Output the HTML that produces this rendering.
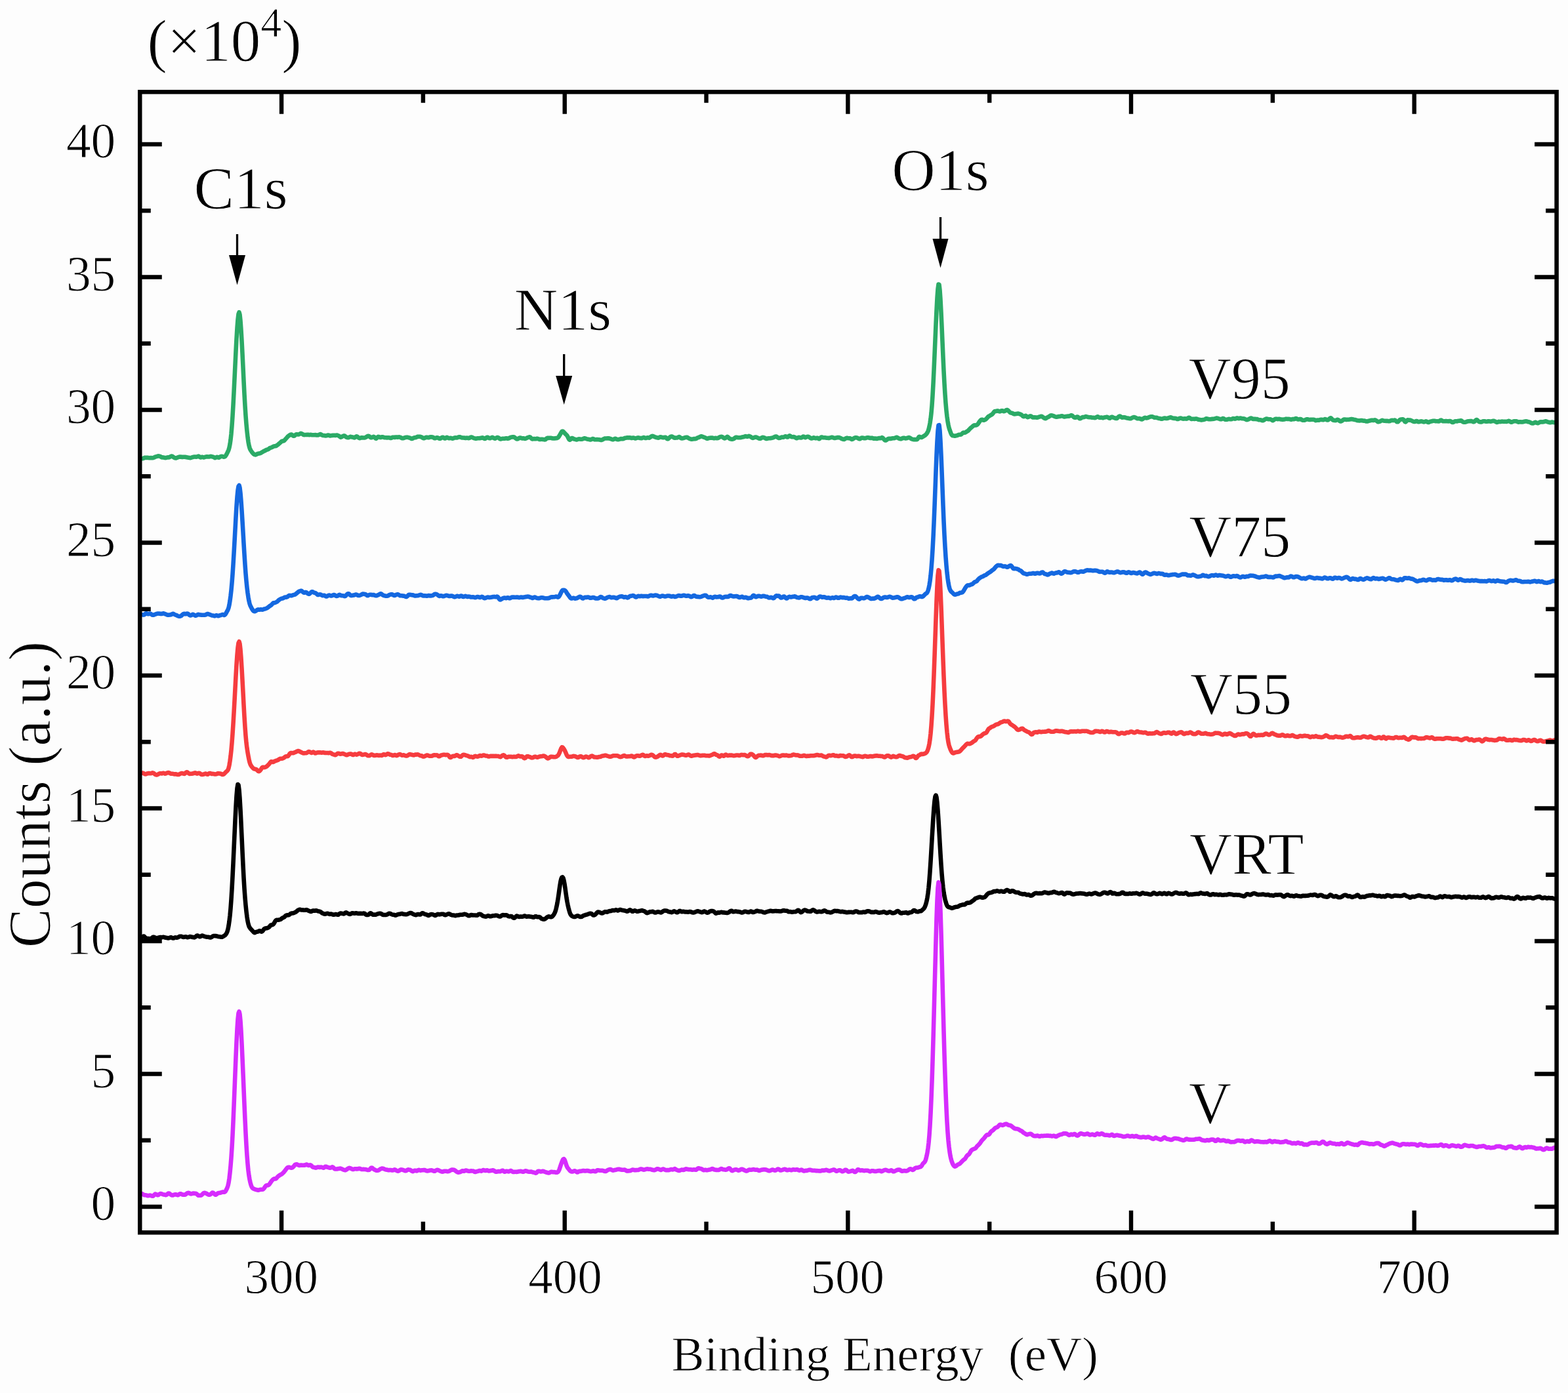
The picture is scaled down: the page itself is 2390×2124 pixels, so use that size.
<!DOCTYPE html>
<html><head><meta charset="utf-8"><title>XPS survey spectra</title>
<style>html,body{margin:0;padding:0;background:#fdfdfd}svg{display:block}</style></head>
<body>
<svg width="2390" height="2124" viewBox="0 0 2390 2124">
<rect width="100%" height="100%" fill="#fdfdfd"/>
<polyline fill="none" stroke="#2baa66" stroke-width="6.6" stroke-linejoin="round" stroke-linecap="round" points="216.5,699.3 217.5,699.3 218.5,698.9 219.5,698.3 220.5,697.9 221.5,697.8 222.5,697.9 223.5,697.9 224.5,697.9 225.5,697.9 226.5,698.1 227.5,698.3 228.5,698.2 229.5,698.1 230.5,698.1 231.5,698.2 232.5,698.2 233.5,698.0 234.5,697.7 235.5,697.2 236.5,696.7 237.5,696.4 238.5,696.1 239.5,695.8 240.5,695.5 241.5,695.4 242.5,695.5 243.5,695.7 244.5,696.1 245.5,696.7 246.5,697.2 247.5,697.4 248.5,697.4 249.5,697.6 250.5,697.9 251.5,698.0 252.5,698.1 253.5,697.9 254.5,697.6 255.5,697.4 256.5,697.4 257.5,697.4 258.5,697.1 259.5,696.4 260.5,695.8 261.5,695.5 262.5,695.7 263.5,696.3 264.5,697.1 265.5,697.7 266.5,698.2 267.5,698.5 268.5,698.4 269.5,698.0 270.5,697.6 271.5,697.2 272.5,696.9 273.5,696.6 274.5,696.5 275.5,696.6 276.5,696.8 277.5,697.0 278.5,696.9 279.5,696.8 280.5,696.7 281.5,696.8 282.5,696.9 283.5,697.0 284.5,697.2 285.5,697.4 286.5,697.6 287.5,697.7 288.5,697.9 289.5,698.1 290.5,698.2 291.5,697.9 292.5,697.4 293.5,697.1 294.5,696.9 295.5,696.6 296.5,696.5 297.5,696.5 298.5,696.6 299.5,696.6 300.5,696.4 301.5,695.9 302.5,695.6 303.5,696.0 304.5,696.9 305.5,697.5 306.5,697.4 307.5,696.9 308.5,696.8 309.5,697.2 310.5,697.5 311.5,697.3 312.5,696.9 313.5,696.6 314.5,696.4 315.5,696.3 316.5,696.4 317.5,696.5 318.5,696.5 319.5,696.3 320.5,696.0 321.5,695.9 322.5,696.1 323.5,696.4 324.5,696.6 325.5,696.9 326.5,697.5 327.5,698.1 328.5,698.0 329.5,697.4 330.5,696.9 331.5,697.0 332.5,697.5 333.5,697.7 334.5,697.2 335.5,696.5 336.5,696.1 337.5,695.9 338.5,695.9 339.5,696.2 340.5,696.5 341.5,696.7 342.5,696.4 343.5,695.6 344.5,694.2 345.5,692.4 346.5,690.3 347.5,688.3 348.5,685.9 349.5,682.4 350.5,677.4 351.5,670.5 352.5,661.3 353.5,649.3 354.5,634.6 355.5,617.2 356.5,597.8 357.5,577.2 358.5,556.1 359.5,535.6 360.5,516.6 361.5,500.3 362.5,487.3 363.5,478.9 364.5,476.1 365.5,479.6 366.5,489.0 367.5,502.9 368.5,519.9 369.5,539.1 370.5,559.8 371.5,580.9 372.5,600.9 373.5,618.7 374.5,634.0 375.5,646.8 376.5,657.5 377.5,666.5 378.5,673.8 379.5,679.1 380.5,682.9 381.5,685.4 382.5,687.2 383.5,688.6 384.5,690.0 385.5,691.1 386.5,692.1 387.5,692.9 388.5,693.3 389.5,693.4 390.5,693.0 391.5,692.5 392.5,692.0 393.5,691.7 394.5,691.5 395.5,691.4 396.5,691.1 397.5,690.7 398.5,690.1 399.5,689.5 400.5,688.9 401.5,688.3 402.5,687.8 403.5,687.4 404.5,686.8 405.5,686.2 406.5,685.7 407.5,685.5 408.5,685.2 409.5,684.6 410.5,683.7 411.5,683.1 412.5,682.7 413.5,682.4 414.5,682.0 415.5,681.5 416.5,680.9 417.5,680.5 418.5,680.3 419.5,680.2 420.5,680.0 421.5,679.5 422.5,678.8 423.5,678.1 424.5,677.2 425.5,676.3 426.5,675.5 427.5,674.6 428.5,673.7 429.5,672.9 430.5,672.5 431.5,672.4 432.5,672.2 433.5,671.5 434.5,670.4 435.5,669.2 436.5,668.1 437.5,667.0 438.5,665.8 439.5,664.9 440.5,664.2 441.5,663.5 442.5,662.9 443.5,662.5 444.5,662.6 445.5,663.3 446.5,664.3 447.5,664.8 448.5,664.6 449.5,663.8 450.5,662.9 451.5,662.3 452.5,662.2 453.5,662.4 454.5,662.5 455.5,662.4 456.5,661.9 457.5,661.3 458.5,660.9 459.5,661.0 460.5,661.6 461.5,662.2 462.5,662.8 463.5,663.1 464.5,663.0 465.5,663.0 466.5,663.0 467.5,662.9 468.5,662.7 469.5,662.7 470.5,663.0 471.5,663.1 472.5,663.0 473.5,662.9 474.5,663.0 475.5,663.2 476.5,663.3 477.5,663.3 478.5,663.3 479.5,663.2 480.5,663.1 481.5,663.2 482.5,663.4 483.5,663.5 484.5,663.5 485.5,663.2 486.5,662.7 487.5,662.3 488.5,662.1 489.5,662.5 490.5,663.2 491.5,663.7 492.5,664.0 493.5,664.0 494.5,664.1 495.5,664.2 496.5,664.4 497.5,664.3 498.5,664.0 499.5,663.6 500.5,663.5 501.5,663.7 502.5,664.2 503.5,664.4 504.5,664.3 505.5,664.1 506.5,663.9 507.5,663.9 508.5,663.8 509.5,663.8 510.5,663.9 511.5,663.9 512.5,663.8 513.5,663.6 514.5,663.8 515.5,664.1 516.5,664.6 517.5,665.4 518.5,666.2 519.5,666.7 520.5,666.4 521.5,665.7 522.5,665.1 523.5,664.6 524.5,664.4 525.5,664.7 526.5,665.5 527.5,666.3 528.5,666.8 529.5,667.1 530.5,667.3 531.5,667.1 532.5,666.6 533.5,666.0 534.5,665.9 535.5,666.2 536.5,666.4 537.5,666.5 538.5,666.8 539.5,667.3 540.5,667.4 541.5,666.7 542.5,665.7 543.5,665.3 544.5,665.6 545.5,666.5 546.5,667.4 547.5,668.0 548.5,668.1 549.5,667.8 550.5,667.4 551.5,667.3 552.5,667.4 553.5,667.5 554.5,667.5 555.5,667.4 556.5,667.2 557.5,666.8 558.5,666.2 559.5,665.5 560.5,664.9 561.5,664.7 562.5,665.1 563.5,665.9 564.5,666.7 565.5,667.2 566.5,667.2 567.5,666.8 568.5,666.2 569.5,665.8 570.5,666.4 571.5,667.5 572.5,668.5 573.5,668.6 574.5,667.7 575.5,666.5 576.5,665.9 577.5,666.1 578.5,666.7 579.5,667.0 580.5,666.9 581.5,666.5 582.5,666.2 583.5,666.3 584.5,666.7 585.5,667.0 586.5,667.2 587.5,667.2 588.5,667.3 589.5,667.4 590.5,667.4 591.5,667.3 592.5,667.2 593.5,667.4 594.5,667.8 595.5,668.0 596.5,667.8 597.5,667.3 598.5,666.8 599.5,666.7 600.5,666.8 601.5,666.9 602.5,666.7 603.5,666.5 604.5,666.5 605.5,666.6 606.5,666.6 607.5,666.5 608.5,666.4 609.5,666.7 610.5,667.0 611.5,667.5 612.5,668.0 613.5,668.3 614.5,668.3 615.5,667.9 616.5,667.5 617.5,667.2 618.5,666.9 619.5,666.7 620.5,666.7 621.5,666.8 622.5,667.1 623.5,667.4 624.5,667.6 625.5,668.1 626.5,668.6 627.5,669.0 628.5,668.8 629.5,668.3 630.5,667.7 631.5,667.3 632.5,667.2 633.5,667.2 634.5,666.8 635.5,666.3 636.5,665.9 637.5,665.8 638.5,665.7 639.5,665.7 640.5,665.8 641.5,666.1 642.5,666.5 643.5,667.0 644.5,667.7 645.5,668.1 646.5,668.1 647.5,667.7 648.5,667.2 649.5,666.8 650.5,666.7 651.5,666.9 652.5,667.3 653.5,667.3 654.5,666.8 655.5,666.4 656.5,666.2 657.5,666.3 658.5,666.5 659.5,666.6 660.5,667.0 661.5,667.7 662.5,668.2 663.5,668.2 664.5,667.8 665.5,667.4 666.5,667.3 667.5,667.5 668.5,668.1 669.5,668.7 670.5,668.8 671.5,668.5 672.5,667.8 673.5,667.1 674.5,666.7 675.5,667.0 676.5,667.7 677.5,668.4 678.5,668.5 679.5,667.8 680.5,667.0 681.5,666.9 682.5,667.4 683.5,668.0 684.5,668.2 685.5,668.1 686.5,667.9 687.5,668.0 688.5,668.3 689.5,668.6 690.5,668.5 691.5,668.1 692.5,667.6 693.5,667.4 694.5,667.4 695.5,667.5 696.5,667.5 697.5,667.1 698.5,666.6 699.5,666.2 700.5,666.2 701.5,666.5 702.5,666.8 703.5,667.2 704.5,667.4 705.5,667.5 706.5,667.5 707.5,667.6 708.5,667.8 709.5,668.0 710.5,667.9 711.5,667.6 712.5,667.7 713.5,668.0 714.5,668.1 715.5,667.8 716.5,667.2 717.5,666.7 718.5,666.5 719.5,666.8 720.5,667.3 721.5,667.7 722.5,668.1 723.5,668.4 724.5,668.7 725.5,668.8 726.5,668.6 727.5,668.3 728.5,668.2 729.5,668.2 730.5,668.2 731.5,668.1 732.5,668.0 733.5,667.8 734.5,667.5 735.5,667.4 736.5,667.7 737.5,668.4 738.5,669.0 739.5,669.0 740.5,668.2 741.5,667.3 742.5,666.8 743.5,666.9 744.5,667.5 745.5,668.0 746.5,668.2 747.5,668.1 748.5,667.6 749.5,667.1 750.5,666.9 751.5,667.3 752.5,667.9 753.5,668.5 754.5,668.6 755.5,668.2 756.5,667.6 757.5,667.1 758.5,667.0 759.5,667.3 760.5,667.9 761.5,668.8 762.5,669.4 763.5,669.4 764.5,669.1 765.5,668.8 766.5,668.8 767.5,668.8 768.5,668.8 769.5,668.7 770.5,668.4 771.5,668.2 772.5,668.3 773.5,668.6 774.5,668.7 775.5,668.4 776.5,667.8 777.5,667.2 778.5,666.8 779.5,666.7 780.5,666.4 781.5,666.2 782.5,666.2 783.5,666.5 784.5,667.0 785.5,667.8 786.5,668.6 787.5,669.3 788.5,669.4 789.5,669.1 790.5,668.5 791.5,667.8 792.5,667.5 793.5,667.6 794.5,668.0 795.5,668.3 796.5,668.5 797.5,668.4 798.5,668.4 799.5,668.7 800.5,668.9 801.5,668.6 802.5,668.1 803.5,667.5 804.5,667.1 805.5,666.8 806.5,666.5 807.5,666.3 808.5,666.9 809.5,668.0 810.5,669.0 811.5,669.4 812.5,669.3 813.5,669.1 814.5,669.1 815.5,669.3 816.5,669.2 817.5,669.0 818.5,668.7 819.5,668.8 820.5,669.1 821.5,669.7 822.5,670.0 823.5,670.0 824.5,669.8 825.5,669.7 826.5,669.7 827.5,669.9 828.5,670.1 829.5,670.3 830.5,670.4 831.5,670.1 832.5,669.2 833.5,668.2 834.5,667.8 835.5,667.8 836.5,667.9 837.5,667.8 838.5,667.7 839.5,667.8 840.5,668.0 841.5,668.3 842.5,668.4 843.5,668.5 844.5,668.5 845.5,668.4 846.5,668.2 847.5,668.1 848.5,668.1 849.5,667.9 850.5,667.2 851.5,666.1 852.5,664.6 853.5,662.9 854.5,661.1 855.5,659.3 856.5,657.9 857.5,657.5 858.5,658.0 859.5,659.0 860.5,660.1 861.5,661.3 862.5,662.2 863.5,663.1 864.5,664.3 865.5,666.1 866.5,668.4 867.5,670.1 868.5,670.7 869.5,670.1 870.5,668.9 871.5,668.0 872.5,668.1 873.5,668.7 874.5,669.3 875.5,669.6 876.5,669.8 877.5,670.1 878.5,670.4 879.5,670.4 880.5,669.9 881.5,669.6 882.5,669.4 883.5,669.5 884.5,669.6 885.5,669.7 886.5,669.7 887.5,669.5 888.5,669.2 889.5,668.7 890.5,668.4 891.5,668.3 892.5,668.6 893.5,669.0 894.5,669.4 895.5,669.7 896.5,669.8 897.5,669.9 898.5,670.1 899.5,670.5 900.5,670.5 901.5,669.9 902.5,669.3 903.5,669.0 904.5,669.2 905.5,669.7 906.5,670.2 907.5,670.3 908.5,670.2 909.5,670.1 910.5,670.1 911.5,670.2 912.5,670.3 913.5,670.4 914.5,670.6 915.5,670.9 916.5,670.9 917.5,670.7 918.5,670.3 919.5,669.7 920.5,669.1 921.5,668.6 922.5,668.5 923.5,668.5 924.5,668.5 925.5,668.4 926.5,668.2 927.5,668.2 928.5,668.5 929.5,668.8 930.5,669.0 931.5,669.4 932.5,669.9 933.5,670.2 934.5,670.2 935.5,669.8 936.5,669.2 937.5,668.8 938.5,669.0 939.5,669.5 940.5,669.9 941.5,670.1 942.5,670.1 943.5,669.9 944.5,669.6 945.5,669.3 946.5,669.0 947.5,669.0 948.5,669.2 949.5,669.3 950.5,668.9 951.5,668.3 952.5,667.9 953.5,667.7 954.5,667.6 955.5,667.4 956.5,667.3 957.5,667.4 958.5,667.4 959.5,667.3 960.5,667.4 961.5,667.7 962.5,668.0 963.5,667.9 964.5,667.6 965.5,667.5 966.5,667.8 967.5,668.2 968.5,668.4 969.5,668.2 970.5,667.9 971.5,667.6 972.5,667.4 973.5,667.5 974.5,667.7 975.5,667.9 976.5,668.1 977.5,668.3 978.5,668.1 979.5,667.6 980.5,667.1 981.5,667.1 982.5,667.5 983.5,667.9 984.5,667.9 985.5,667.7 986.5,667.4 987.5,667.3 988.5,667.5 989.5,667.6 990.5,667.2 991.5,666.4 992.5,665.6 993.5,665.0 994.5,664.9 995.5,665.1 996.5,665.5 997.5,666.0 998.5,666.3 999.5,666.8 1000.5,667.1 1001.5,667.3 1002.5,667.5 1003.5,667.6 1004.5,667.3 1005.5,666.6 1006.5,666.2 1007.5,666.4 1008.5,666.8 1009.5,667.0 1010.5,667.1 1011.5,667.1 1012.5,667.0 1013.5,666.8 1014.5,666.9 1015.5,667.7 1016.5,668.8 1017.5,669.3 1018.5,669.0 1019.5,668.1 1020.5,667.1 1021.5,666.3 1022.5,665.7 1023.5,665.5 1024.5,665.6 1025.5,666.1 1026.5,666.8 1027.5,667.5 1028.5,667.7 1029.5,667.6 1030.5,667.5 1031.5,667.5 1032.5,667.4 1033.5,666.9 1034.5,666.2 1035.5,666.1 1036.5,666.8 1037.5,667.8 1038.5,668.3 1039.5,668.4 1040.5,668.3 1041.5,668.1 1042.5,667.8 1043.5,667.4 1044.5,667.1 1045.5,666.9 1046.5,666.7 1047.5,666.8 1048.5,667.4 1049.5,668.1 1050.5,668.6 1051.5,669.0 1052.5,669.4 1053.5,669.7 1054.5,669.8 1055.5,669.6 1056.5,669.4 1057.5,669.1 1058.5,669.0 1059.5,669.1 1060.5,669.0 1061.5,668.6 1062.5,668.0 1063.5,667.4 1064.5,667.1 1065.5,666.8 1066.5,666.3 1067.5,665.8 1068.5,665.4 1069.5,665.3 1070.5,665.6 1071.5,666.1 1072.5,666.5 1073.5,666.8 1074.5,667.1 1075.5,667.6 1076.5,668.3 1077.5,668.7 1078.5,668.7 1079.5,668.3 1080.5,668.0 1081.5,667.8 1082.5,667.8 1083.5,667.6 1084.5,667.6 1085.5,667.6 1086.5,667.8 1087.5,668.1 1088.5,668.2 1089.5,668.1 1090.5,667.9 1091.5,668.0 1092.5,668.1 1093.5,668.1 1094.5,667.9 1095.5,667.3 1096.5,666.7 1097.5,666.2 1098.5,666.0 1099.5,665.9 1100.5,666.0 1101.5,666.5 1102.5,667.3 1103.5,668.0 1104.5,668.4 1105.5,668.1 1106.5,667.4 1107.5,666.5 1108.5,665.9 1109.5,666.3 1110.5,667.3 1111.5,668.3 1112.5,669.0 1113.5,669.3 1114.5,669.6 1115.5,669.8 1116.5,669.7 1117.5,669.4 1118.5,669.0 1119.5,668.3 1120.5,667.4 1121.5,666.8 1122.5,666.7 1123.5,666.9 1124.5,667.2 1125.5,667.3 1126.5,667.3 1127.5,667.2 1128.5,667.2 1129.5,667.0 1130.5,666.7 1131.5,666.5 1132.5,666.3 1133.5,666.2 1134.5,665.8 1135.5,665.4 1136.5,665.1 1137.5,665.4 1138.5,665.8 1139.5,665.7 1140.5,665.3 1141.5,664.9 1142.5,665.1 1143.5,665.6 1144.5,666.2 1145.5,666.9 1146.5,667.6 1147.5,667.9 1148.5,667.6 1149.5,667.1 1150.5,666.7 1151.5,666.5 1152.5,666.6 1153.5,667.0 1154.5,667.4 1155.5,667.9 1156.5,668.4 1157.5,668.8 1158.5,668.8 1159.5,668.5 1160.5,667.8 1161.5,667.2 1162.5,666.9 1163.5,667.0 1164.5,667.2 1165.5,667.6 1166.5,668.3 1167.5,668.8 1168.5,669.0 1169.5,668.8 1170.5,668.4 1171.5,668.2 1172.5,668.2 1173.5,668.2 1174.5,668.1 1175.5,668.0 1176.5,667.8 1177.5,667.6 1178.5,667.2 1179.5,666.7 1180.5,666.2 1181.5,665.7 1182.5,665.5 1183.5,665.6 1184.5,666.3 1185.5,667.1 1186.5,667.7 1187.5,667.9 1188.5,667.8 1189.5,667.5 1190.5,667.0 1191.5,666.6 1192.5,666.6 1193.5,666.7 1194.5,666.6 1195.5,666.1 1196.5,665.4 1197.5,665.2 1198.5,665.7 1199.5,666.4 1200.5,666.5 1201.5,665.8 1202.5,664.8 1203.5,664.4 1204.5,664.8 1205.5,665.5 1206.5,666.1 1207.5,666.3 1208.5,666.2 1209.5,666.1 1210.5,666.2 1211.5,666.7 1212.5,667.4 1213.5,668.0 1214.5,668.2 1215.5,667.8 1216.5,667.2 1217.5,666.9 1218.5,667.0 1219.5,667.3 1220.5,667.5 1221.5,667.4 1222.5,666.8 1223.5,666.0 1224.5,665.5 1225.5,665.9 1226.5,666.8 1227.5,667.2 1228.5,666.8 1229.5,666.1 1230.5,665.8 1231.5,665.8 1232.5,666.0 1233.5,666.6 1234.5,667.3 1235.5,668.0 1236.5,668.4 1237.5,668.4 1238.5,668.1 1239.5,667.5 1240.5,667.3 1241.5,667.6 1242.5,668.1 1243.5,668.2 1244.5,668.0 1245.5,667.7 1246.5,668.0 1247.5,668.7 1248.5,669.1 1249.5,668.7 1250.5,667.6 1251.5,666.7 1252.5,666.5 1253.5,666.8 1254.5,667.2 1255.5,667.3 1256.5,667.2 1257.5,667.2 1258.5,667.4 1259.5,667.6 1260.5,667.7 1261.5,667.8 1262.5,667.9 1263.5,667.9 1264.5,667.7 1265.5,667.4 1266.5,667.1 1267.5,666.8 1268.5,666.7 1269.5,667.1 1270.5,667.6 1271.5,667.9 1272.5,668.0 1273.5,667.8 1274.5,667.6 1275.5,667.3 1276.5,667.0 1277.5,667.0 1278.5,667.1 1279.5,667.3 1280.5,667.6 1281.5,668.1 1282.5,668.7 1283.5,669.2 1284.5,669.5 1285.5,669.8 1286.5,669.9 1287.5,669.5 1288.5,668.8 1289.5,668.1 1290.5,667.8 1291.5,667.9 1292.5,668.2 1293.5,668.3 1294.5,668.2 1295.5,668.3 1296.5,668.8 1297.5,669.5 1298.5,669.9 1299.5,669.6 1300.5,669.0 1301.5,668.3 1302.5,667.7 1303.5,667.3 1304.5,667.2 1305.5,667.2 1306.5,667.6 1307.5,668.0 1308.5,668.6 1309.5,669.2 1310.5,669.2 1311.5,668.7 1312.5,668.0 1313.5,667.5 1314.5,667.5 1315.5,667.7 1316.5,668.0 1317.5,668.3 1318.5,668.3 1319.5,668.1 1320.5,667.6 1321.5,667.3 1322.5,667.2 1323.5,667.3 1324.5,667.5 1325.5,667.8 1326.5,668.0 1327.5,667.9 1328.5,667.7 1329.5,667.8 1330.5,668.2 1331.5,668.6 1332.5,668.7 1333.5,668.5 1334.5,668.5 1335.5,668.8 1336.5,669.0 1337.5,668.8 1338.5,668.4 1339.5,668.1 1340.5,668.1 1341.5,668.3 1342.5,668.1 1343.5,667.5 1344.5,667.1 1345.5,667.6 1346.5,668.8 1347.5,670.1 1348.5,671.0 1349.5,671.5 1350.5,671.4 1351.5,670.7 1352.5,669.9 1353.5,669.2 1354.5,668.9 1355.5,668.9 1356.5,668.9 1357.5,668.9 1358.5,668.7 1359.5,668.5 1360.5,668.3 1361.5,668.3 1362.5,668.3 1363.5,668.1 1364.5,667.6 1365.5,667.1 1366.5,666.8 1367.5,667.0 1368.5,667.6 1369.5,668.2 1370.5,668.7 1371.5,669.0 1372.5,669.1 1373.5,669.1 1374.5,668.7 1375.5,668.2 1376.5,667.9 1377.5,667.8 1378.5,667.9 1379.5,668.2 1380.5,668.4 1381.5,668.3 1382.5,668.0 1383.5,667.6 1384.5,667.2 1385.5,667.1 1386.5,667.4 1387.5,668.1 1388.5,668.7 1389.5,669.2 1390.5,669.6 1391.5,669.9 1392.5,670.1 1393.5,670.1 1394.5,670.1 1395.5,670.2 1396.5,670.3 1397.5,670.1 1398.5,669.3 1399.5,667.8 1400.5,666.3 1401.5,665.8 1402.5,666.1 1403.5,666.8 1404.5,667.0 1405.5,666.6 1406.5,665.9 1407.5,665.3 1408.5,664.7 1409.5,664.1 1410.5,663.3 1411.5,662.4 1412.5,661.2 1413.5,659.7 1414.5,657.6 1415.5,654.6 1416.5,650.5 1417.5,645.3 1418.5,638.6 1419.5,630.0 1420.5,618.4 1421.5,603.5 1422.5,585.2 1423.5,564.3 1424.5,541.6 1425.5,518.1 1426.5,494.9 1427.5,473.3 1428.5,454.5 1429.5,440.7 1430.5,433.5 1431.5,434.0 1432.5,442.2 1433.5,456.8 1434.5,475.9 1435.5,497.9 1436.5,521.1 1437.5,544.1 1438.5,565.6 1439.5,584.7 1440.5,601.2 1441.5,615.0 1442.5,626.2 1443.5,635.2 1444.5,642.3 1445.5,647.9 1446.5,652.2 1447.5,655.4 1448.5,658.1 1449.5,660.8 1450.5,662.9 1451.5,664.0 1452.5,664.3 1453.5,664.4 1454.5,664.6 1455.5,664.7 1456.5,664.5 1457.5,664.3 1458.5,664.1 1459.5,663.7 1460.5,663.2 1461.5,662.9 1462.5,662.8 1463.5,662.8 1464.5,662.6 1465.5,662.0 1466.5,661.1 1467.5,660.2 1468.5,659.6 1469.5,659.7 1470.5,659.8 1471.5,659.4 1472.5,658.7 1473.5,658.0 1474.5,657.5 1475.5,656.9 1476.5,655.9 1477.5,654.7 1478.5,653.6 1479.5,652.6 1480.5,651.8 1481.5,651.0 1482.5,650.2 1483.5,649.3 1484.5,648.6 1485.5,648.4 1486.5,648.5 1487.5,648.4 1488.5,648.1 1489.5,647.5 1490.5,646.6 1491.5,645.2 1492.5,643.7 1493.5,642.2 1494.5,641.0 1495.5,640.1 1496.5,639.7 1497.5,640.0 1498.5,640.5 1499.5,640.7 1500.5,640.5 1501.5,639.9 1502.5,639.3 1503.5,638.5 1504.5,637.3 1505.5,636.2 1506.5,635.2 1507.5,634.6 1508.5,634.0 1509.5,633.4 1510.5,632.7 1511.5,632.2 1512.5,631.5 1513.5,630.4 1514.5,629.0 1515.5,627.7 1516.5,627.0 1517.5,627.0 1518.5,627.0 1519.5,626.6 1520.5,626.4 1521.5,626.6 1522.5,627.1 1523.5,627.4 1524.5,627.3 1525.5,626.8 1526.5,626.3 1527.5,626.2 1528.5,626.5 1529.5,627.0 1530.5,627.2 1531.5,626.9 1532.5,626.2 1533.5,625.5 1534.5,625.0 1535.5,625.1 1536.5,625.8 1537.5,626.8 1538.5,627.9 1539.5,628.8 1540.5,629.4 1541.5,629.7 1542.5,629.8 1543.5,630.2 1544.5,630.8 1545.5,631.3 1546.5,631.4 1547.5,631.3 1548.5,631.1 1549.5,630.9 1550.5,630.7 1551.5,630.6 1552.5,630.8 1553.5,631.0 1554.5,631.4 1555.5,631.8 1556.5,632.3 1557.5,633.0 1558.5,634.0 1559.5,634.8 1560.5,635.1 1561.5,634.7 1562.5,634.0 1563.5,633.9 1564.5,634.7 1565.5,635.7 1566.5,636.1 1567.5,635.8 1568.5,635.2 1569.5,634.7 1570.5,634.4 1571.5,634.6 1572.5,635.3 1573.5,636.0 1574.5,636.5 1575.5,636.5 1576.5,636.3 1577.5,636.2 1578.5,636.4 1579.5,636.6 1580.5,636.8 1581.5,636.6 1582.5,636.2 1583.5,635.8 1584.5,635.6 1585.5,635.2 1586.5,634.8 1587.5,634.8 1588.5,635.3 1589.5,636.0 1590.5,636.7 1591.5,637.3 1592.5,637.9 1593.5,638.1 1594.5,637.7 1595.5,637.0 1596.5,636.4 1597.5,636.0 1598.5,635.5 1599.5,634.8 1600.5,634.0 1601.5,633.5 1602.5,633.4 1603.5,633.6 1604.5,633.8 1605.5,634.1 1606.5,634.5 1607.5,635.0 1608.5,635.4 1609.5,635.7 1610.5,635.8 1611.5,635.6 1612.5,635.3 1613.5,635.1 1614.5,635.0 1615.5,635.0 1616.5,634.7 1617.5,634.4 1618.5,634.2 1619.5,634.4 1620.5,634.9 1621.5,635.4 1622.5,635.4 1623.5,635.2 1624.5,635.0 1625.5,634.9 1626.5,634.7 1627.5,634.6 1628.5,634.6 1629.5,634.7 1630.5,634.4 1631.5,633.7 1632.5,633.3 1633.5,633.3 1634.5,633.9 1635.5,634.9 1636.5,635.8 1637.5,636.5 1638.5,636.7 1639.5,636.7 1640.5,636.2 1641.5,635.6 1642.5,635.5 1643.5,636.2 1644.5,637.3 1645.5,638.1 1646.5,638.2 1647.5,637.8 1648.5,637.0 1649.5,636.3 1650.5,636.0 1651.5,636.1 1652.5,636.0 1653.5,635.6 1654.5,635.1 1655.5,635.1 1656.5,635.4 1657.5,635.7 1658.5,635.9 1659.5,636.1 1660.5,636.2 1661.5,636.2 1662.5,636.3 1663.5,636.5 1664.5,636.7 1665.5,636.7 1666.5,636.7 1667.5,636.9 1668.5,637.1 1669.5,637.0 1670.5,636.5 1671.5,635.9 1672.5,635.4 1673.5,635.4 1674.5,636.0 1675.5,636.6 1676.5,636.9 1677.5,636.8 1678.5,636.6 1679.5,636.8 1680.5,637.1 1681.5,637.1 1682.5,636.7 1683.5,636.4 1684.5,636.2 1685.5,636.1 1686.5,635.9 1687.5,635.9 1688.5,636.2 1689.5,636.9 1690.5,637.6 1691.5,637.8 1692.5,637.2 1693.5,636.2 1694.5,635.7 1695.5,635.8 1696.5,636.4 1697.5,636.9 1698.5,637.2 1699.5,637.5 1700.5,637.8 1701.5,638.0 1702.5,637.8 1703.5,637.0 1704.5,635.9 1705.5,635.0 1706.5,634.6 1707.5,634.8 1708.5,635.5 1709.5,636.2 1710.5,636.6 1711.5,636.5 1712.5,636.3 1713.5,636.2 1714.5,636.4 1715.5,636.7 1716.5,637.1 1717.5,637.4 1718.5,637.6 1719.5,637.8 1720.5,637.9 1721.5,638.1 1722.5,638.2 1723.5,638.1 1724.5,637.7 1725.5,637.1 1726.5,636.6 1727.5,636.2 1728.5,636.1 1729.5,636.2 1730.5,636.6 1731.5,637.1 1732.5,637.7 1733.5,638.1 1734.5,638.2 1735.5,638.2 1736.5,638.1 1737.5,638.2 1738.5,638.8 1739.5,639.3 1740.5,639.4 1741.5,639.0 1742.5,638.3 1743.5,637.6 1744.5,637.0 1745.5,636.9 1746.5,637.2 1747.5,637.4 1748.5,637.3 1749.5,637.0 1750.5,636.6 1751.5,636.1 1752.5,635.7 1753.5,635.5 1754.5,635.3 1755.5,635.3 1756.5,635.4 1757.5,635.8 1758.5,636.2 1759.5,636.6 1760.5,636.7 1761.5,636.7 1762.5,636.7 1763.5,637.0 1764.5,637.4 1765.5,637.7 1766.5,637.9 1767.5,638.1 1768.5,638.3 1769.5,638.6 1770.5,638.7 1771.5,638.6 1772.5,638.3 1773.5,637.9 1774.5,637.6 1775.5,637.6 1776.5,637.8 1777.5,638.0 1778.5,638.0 1779.5,637.8 1780.5,637.5 1781.5,637.1 1782.5,636.7 1783.5,636.5 1784.5,636.4 1785.5,636.7 1786.5,637.2 1787.5,637.6 1788.5,637.8 1789.5,637.9 1790.5,637.9 1791.5,637.9 1792.5,638.1 1793.5,638.5 1794.5,639.0 1795.5,639.0 1796.5,638.6 1797.5,638.0 1798.5,637.7 1799.5,637.6 1800.5,637.8 1801.5,638.1 1802.5,638.4 1803.5,638.6 1804.5,638.5 1805.5,638.3 1806.5,638.2 1807.5,638.4 1808.5,638.7 1809.5,638.4 1810.5,637.6 1811.5,637.0 1812.5,636.8 1813.5,637.2 1814.5,638.1 1815.5,638.7 1816.5,638.9 1817.5,638.8 1818.5,638.8 1819.5,638.8 1820.5,638.9 1821.5,638.8 1822.5,638.6 1823.5,638.5 1824.5,638.8 1825.5,639.2 1826.5,639.6 1827.5,639.7 1828.5,639.9 1829.5,640.1 1830.5,640.4 1831.5,640.4 1832.5,640.3 1833.5,640.1 1834.5,639.9 1835.5,639.7 1836.5,639.4 1837.5,638.8 1838.5,638.3 1839.5,638.3 1840.5,638.7 1841.5,639.0 1842.5,639.1 1843.5,639.2 1844.5,639.2 1845.5,639.2 1846.5,639.0 1847.5,638.9 1848.5,638.9 1849.5,638.8 1850.5,638.7 1851.5,638.4 1852.5,638.1 1853.5,637.8 1854.5,637.6 1855.5,637.7 1856.5,638.0 1857.5,638.4 1858.5,638.7 1859.5,639.0 1860.5,639.3 1861.5,639.3 1862.5,638.8 1863.5,638.1 1864.5,638.0 1865.5,638.5 1866.5,639.2 1867.5,639.6 1868.5,639.7 1869.5,639.7 1870.5,639.6 1871.5,639.3 1872.5,639.0 1873.5,638.9 1874.5,639.1 1875.5,639.2 1876.5,639.2 1877.5,639.0 1878.5,638.5 1879.5,638.1 1880.5,638.2 1881.5,638.5 1882.5,638.6 1883.5,638.3 1884.5,637.7 1885.5,637.4 1886.5,637.6 1887.5,638.0 1888.5,638.1 1889.5,637.8 1890.5,637.6 1891.5,637.7 1892.5,638.0 1893.5,638.2 1894.5,638.3 1895.5,638.3 1896.5,638.5 1897.5,638.9 1898.5,639.4 1899.5,639.9 1900.5,640.1 1901.5,639.9 1902.5,639.5 1903.5,639.1 1904.5,638.5 1905.5,637.9 1906.5,637.6 1907.5,637.8 1908.5,638.3 1909.5,638.8 1910.5,639.0 1911.5,638.9 1912.5,638.8 1913.5,638.9 1914.5,639.1 1915.5,639.0 1916.5,639.1 1917.5,639.6 1918.5,640.2 1919.5,640.3 1920.5,640.2 1921.5,640.2 1922.5,640.6 1923.5,641.1 1924.5,641.3 1925.5,641.0 1926.5,640.5 1927.5,639.8 1928.5,639.2 1929.5,638.8 1930.5,638.6 1931.5,638.8 1932.5,639.0 1933.5,639.2 1934.5,639.2 1935.5,639.2 1936.5,639.3 1937.5,639.7 1938.5,640.4 1939.5,641.1 1940.5,641.1 1941.5,640.4 1942.5,639.6 1943.5,639.0 1944.5,638.8 1945.5,638.8 1946.5,638.9 1947.5,639.1 1948.5,639.0 1949.5,638.9 1950.5,639.0 1951.5,639.2 1952.5,639.4 1953.5,639.6 1954.5,639.8 1955.5,639.8 1956.5,639.6 1957.5,639.4 1958.5,639.2 1959.5,638.9 1960.5,638.8 1961.5,638.8 1962.5,639.0 1963.5,639.0 1964.5,638.9 1965.5,639.1 1966.5,639.4 1967.5,639.7 1968.5,639.6 1969.5,639.3 1970.5,639.1 1971.5,639.1 1972.5,639.1 1973.5,638.8 1974.5,638.2 1975.5,638.0 1976.5,638.4 1977.5,639.1 1978.5,639.5 1979.5,639.5 1980.5,639.3 1981.5,639.0 1982.5,639.0 1983.5,639.5 1984.5,640.3 1985.5,640.7 1986.5,640.7 1987.5,640.8 1988.5,640.7 1989.5,640.3 1990.5,639.7 1991.5,639.3 1992.5,639.3 1993.5,639.4 1994.5,639.7 1995.5,639.9 1996.5,640.0 1997.5,639.9 1998.5,639.8 1999.5,639.8 2000.5,639.8 2001.5,639.7 2002.5,639.7 2003.5,640.1 2004.5,640.7 2005.5,641.1 2006.5,640.9 2007.5,640.6 2008.5,640.6 2009.5,640.7 2010.5,640.6 2011.5,640.2 2012.5,639.9 2013.5,639.7 2014.5,639.8 2015.5,640.0 2016.5,640.2 2017.5,640.1 2018.5,639.5 2019.5,639.1 2020.5,639.2 2021.5,639.8 2022.5,640.3 2023.5,640.5 2024.5,640.3 2025.5,639.4 2026.5,638.3 2027.5,637.5 2028.5,637.4 2029.5,638.2 2030.5,639.3 2031.5,640.3 2032.5,640.8 2033.5,640.9 2034.5,641.0 2035.5,641.1 2036.5,640.9 2037.5,640.3 2038.5,639.9 2039.5,640.0 2040.5,640.6 2041.5,641.5 2042.5,642.2 2043.5,642.4 2044.5,642.2 2045.5,641.6 2046.5,640.8 2047.5,640.0 2048.5,639.6 2049.5,639.5 2050.5,639.6 2051.5,639.9 2052.5,640.0 2053.5,639.8 2054.5,639.7 2055.5,639.7 2056.5,639.7 2057.5,639.4 2058.5,639.2 2059.5,639.1 2060.5,639.1 2061.5,639.2 2062.5,639.4 2063.5,639.7 2064.5,639.9 2065.5,640.1 2066.5,640.3 2067.5,640.6 2068.5,641.0 2069.5,641.3 2070.5,641.3 2071.5,641.4 2072.5,641.4 2073.5,641.3 2074.5,641.1 2075.5,641.1 2076.5,641.3 2077.5,641.5 2078.5,641.6 2079.5,641.6 2080.5,641.8 2081.5,642.2 2082.5,642.5 2083.5,642.5 2084.5,642.4 2085.5,642.0 2086.5,641.7 2087.5,641.5 2088.5,641.3 2089.5,641.0 2090.5,640.8 2091.5,640.8 2092.5,640.9 2093.5,640.9 2094.5,640.7 2095.5,640.4 2096.5,640.6 2097.5,641.1 2098.5,641.9 2099.5,642.7 2100.5,643.2 2101.5,643.1 2102.5,642.8 2103.5,642.5 2104.5,642.0 2105.5,641.4 2106.5,640.9 2107.5,641.0 2108.5,641.4 2109.5,641.7 2110.5,641.8 2111.5,641.8 2112.5,641.9 2113.5,641.9 2114.5,641.9 2115.5,642.0 2116.5,642.2 2117.5,642.2 2118.5,642.0 2119.5,641.5 2120.5,641.1 2121.5,640.9 2122.5,640.9 2123.5,641.1 2124.5,640.9 2125.5,640.6 2126.5,640.7 2127.5,641.6 2128.5,642.7 2129.5,643.3 2130.5,643.3 2131.5,642.5 2132.5,641.4 2133.5,640.3 2134.5,639.7 2135.5,639.5 2136.5,639.5 2137.5,639.3 2138.5,639.3 2139.5,640.1 2140.5,641.6 2141.5,643.0 2142.5,643.4 2143.5,642.5 2144.5,641.2 2145.5,640.4 2146.5,640.4 2147.5,640.6 2148.5,640.6 2149.5,640.6 2150.5,640.9 2151.5,641.4 2152.5,641.9 2153.5,642.4 2154.5,642.8 2155.5,643.0 2156.5,643.0 2157.5,642.7 2158.5,642.1 2159.5,642.0 2160.5,642.5 2161.5,643.1 2162.5,643.2 2163.5,643.0 2164.5,642.7 2165.5,642.5 2166.5,642.4 2167.5,642.6 2168.5,642.9 2169.5,643.3 2170.5,643.4 2171.5,643.1 2172.5,642.6 2173.5,642.3 2174.5,642.6 2175.5,643.4 2176.5,644.0 2177.5,644.0 2178.5,643.5 2179.5,643.0 2180.5,642.7 2181.5,642.5 2182.5,642.3 2183.5,642.0 2184.5,641.8 2185.5,641.7 2186.5,641.8 2187.5,642.0 2188.5,642.3 2189.5,642.3 2190.5,642.2 2191.5,642.3 2192.5,642.5 2193.5,642.3 2194.5,641.7 2195.5,640.9 2196.5,640.6 2197.5,641.0 2198.5,641.8 2199.5,642.3 2200.5,642.3 2201.5,642.2 2202.5,642.2 2203.5,642.1 2204.5,642.1 2205.5,642.2 2206.5,642.3 2207.5,642.4 2208.5,642.3 2209.5,642.1 2210.5,642.1 2211.5,642.5 2212.5,643.2 2213.5,643.8 2214.5,644.0 2215.5,643.6 2216.5,643.0 2217.5,642.5 2218.5,642.3 2219.5,642.3 2220.5,642.4 2221.5,642.2 2222.5,641.9 2223.5,641.8 2224.5,641.8 2225.5,641.5 2226.5,641.2 2227.5,641.5 2228.5,642.2 2229.5,643.1 2230.5,643.6 2231.5,643.8 2232.5,643.8 2233.5,643.7 2234.5,643.4 2235.5,643.0 2236.5,642.6 2237.5,642.4 2238.5,642.3 2239.5,642.2 2240.5,642.1 2241.5,642.0 2242.5,642.0 2243.5,642.3 2244.5,642.7 2245.5,643.1 2246.5,643.2 2247.5,642.8 2248.5,641.9 2249.5,640.7 2250.5,640.0 2251.5,640.3 2252.5,641.3 2253.5,642.4 2254.5,643.0 2255.5,643.3 2256.5,643.4 2257.5,643.4 2258.5,643.2 2259.5,642.7 2260.5,642.3 2261.5,642.2 2262.5,642.3 2263.5,642.4 2264.5,642.6 2265.5,642.7 2266.5,642.7 2267.5,642.5 2268.5,642.2 2269.5,642.2 2270.5,642.4 2271.5,642.6 2272.5,642.6 2273.5,642.4 2274.5,642.1 2275.5,641.8 2276.5,641.8 2277.5,642.0 2278.5,642.3 2279.5,642.9 2280.5,643.5 2281.5,643.9 2282.5,643.8 2283.5,643.3 2284.5,642.9 2285.5,643.0 2286.5,643.1 2287.5,642.9 2288.5,642.7 2289.5,642.6 2290.5,642.7 2291.5,642.8 2292.5,642.9 2293.5,642.8 2294.5,642.8 2295.5,642.9 2296.5,642.9 2297.5,642.6 2298.5,642.2 2299.5,641.9 2300.5,642.0 2301.5,642.6 2302.5,643.4 2303.5,643.8 2304.5,643.6 2305.5,643.1 2306.5,642.6 2307.5,642.3 2308.5,642.2 2309.5,642.3 2310.5,642.3 2311.5,642.4 2312.5,642.8 2313.5,643.3 2314.5,643.6 2315.5,643.5 2316.5,643.2 2317.5,643.2 2318.5,643.5 2319.5,643.5 2320.5,643.4 2321.5,643.2 2322.5,643.0 2323.5,642.8 2324.5,642.6 2325.5,642.4 2326.5,642.4 2327.5,642.6 2328.5,643.0 2329.5,643.3 2330.5,643.4 2331.5,643.6 2332.5,644.1 2333.5,644.7 2334.5,645.2 2335.5,645.5 2336.5,645.5 2337.5,645.2 2338.5,644.6 2339.5,644.0 2340.5,643.9 2341.5,644.3 2342.5,644.9 2343.5,645.2 2344.5,645.1 2345.5,644.6 2346.5,644.0 2347.5,643.5 2348.5,643.3 2349.5,643.4 2350.5,643.5 2351.5,643.4 2352.5,643.3 2353.5,643.0 2354.5,642.7 2355.5,642.4 2356.5,642.4 2357.5,642.7 2358.5,643.2 2359.5,643.5 2360.5,643.7 2361.5,644.0 2362.5,644.3 2363.5,644.3 2364.5,643.8 2365.5,643.5 2366.5,643.7 2367.5,643.9 2368.5,644.1 2369.5,644.1"/>
<polyline fill="none" stroke="#1468e0" stroke-width="6.6" stroke-linejoin="round" stroke-linecap="round" points="216.5,937.1 217.5,937.4 218.5,937.6 219.5,937.4 220.5,936.8 221.5,935.8 222.5,935.2 223.5,935.2 224.5,935.7 225.5,936.2 226.5,936.2 227.5,935.8 228.5,935.5 229.5,935.8 230.5,936.5 231.5,937.4 232.5,937.8 233.5,937.8 234.5,937.5 235.5,937.2 236.5,936.8 237.5,936.4 238.5,935.9 239.5,935.7 240.5,935.5 241.5,935.5 242.5,935.6 243.5,935.8 244.5,935.9 245.5,935.9 246.5,935.9 247.5,935.7 248.5,935.4 249.5,935.4 250.5,935.7 251.5,936.1 252.5,936.5 253.5,936.9 254.5,937.4 255.5,937.8 256.5,937.8 257.5,937.6 258.5,937.5 259.5,937.4 260.5,937.3 261.5,936.8 262.5,936.2 263.5,935.8 264.5,936.0 265.5,936.6 266.5,937.1 267.5,937.6 268.5,937.9 269.5,938.3 270.5,938.9 271.5,939.4 272.5,939.7 273.5,939.8 274.5,939.7 275.5,939.4 276.5,938.7 277.5,937.8 278.5,936.9 279.5,936.1 280.5,935.8 281.5,936.0 282.5,936.2 283.5,936.1 284.5,935.7 285.5,935.5 286.5,935.9 287.5,936.7 288.5,937.6 289.5,938.2 290.5,938.4 291.5,938.1 292.5,937.5 293.5,936.9 294.5,936.9 295.5,937.4 296.5,938.1 297.5,938.6 298.5,938.7 299.5,938.4 300.5,937.7 301.5,937.1 302.5,936.9 303.5,937.2 304.5,937.4 305.5,937.5 306.5,937.6 307.5,937.7 308.5,937.8 309.5,937.8 310.5,937.8 311.5,937.7 312.5,937.6 313.5,937.4 314.5,936.8 315.5,936.3 316.5,936.0 317.5,936.2 318.5,936.7 319.5,937.0 320.5,937.4 321.5,937.8 322.5,938.2 323.5,938.4 324.5,938.6 325.5,938.8 326.5,939.1 327.5,939.2 328.5,938.8 329.5,938.4 330.5,938.3 331.5,938.7 332.5,939.1 333.5,939.0 334.5,938.5 335.5,938.2 336.5,938.0 337.5,937.7 338.5,937.3 339.5,937.1 340.5,937.5 341.5,937.9 342.5,937.7 343.5,936.7 344.5,935.1 345.5,933.2 346.5,931.4 347.5,929.4 348.5,926.6 349.5,922.2 350.5,916.1 351.5,908.7 352.5,899.8 353.5,888.9 354.5,875.7 355.5,860.5 356.5,843.7 357.5,825.7 358.5,807.1 359.5,788.7 360.5,771.9 361.5,757.9 362.5,747.5 363.5,741.5 364.5,740.0 365.5,743.6 366.5,751.8 367.5,763.7 368.5,778.3 369.5,794.5 370.5,811.6 371.5,828.7 372.5,845.3 373.5,860.8 374.5,874.4 375.5,886.0 376.5,895.8 377.5,904.0 378.5,910.8 379.5,916.3 380.5,920.5 381.5,923.3 382.5,925.4 383.5,927.3 384.5,929.1 385.5,930.6 386.5,931.6 387.5,932.2 388.5,932.2 389.5,931.8 390.5,931.1 391.5,930.3 392.5,929.6 393.5,929.3 394.5,929.6 395.5,929.7 396.5,929.5 397.5,929.2 398.5,929.3 399.5,929.6 400.5,929.5 401.5,929.1 402.5,928.6 403.5,928.4 404.5,928.2 405.5,927.9 406.5,927.4 407.5,926.8 408.5,926.1 409.5,925.3 410.5,924.5 411.5,923.8 412.5,923.3 413.5,922.6 414.5,921.5 415.5,920.4 416.5,919.5 417.5,919.2 418.5,919.2 419.5,918.9 420.5,918.4 421.5,917.9 422.5,917.3 423.5,916.4 424.5,915.4 425.5,914.6 426.5,913.9 427.5,913.4 428.5,912.9 429.5,912.6 430.5,912.5 431.5,912.2 432.5,911.6 433.5,910.9 434.5,910.6 435.5,910.6 436.5,910.7 437.5,910.4 438.5,909.7 439.5,908.8 440.5,908.1 441.5,907.9 442.5,908.1 443.5,908.3 444.5,908.2 445.5,907.8 446.5,907.4 447.5,907.1 448.5,906.8 449.5,906.6 450.5,906.0 451.5,905.2 452.5,904.3 453.5,903.5 454.5,902.7 455.5,901.9 456.5,901.4 457.5,901.2 458.5,900.9 459.5,900.9 460.5,901.5 461.5,902.5 462.5,903.4 463.5,903.8 464.5,903.5 465.5,903.0 466.5,903.0 467.5,903.6 468.5,904.5 469.5,905.3 470.5,905.7 471.5,905.6 472.5,904.9 473.5,903.8 474.5,902.8 475.5,902.2 476.5,902.3 477.5,902.9 478.5,903.6 479.5,903.9 480.5,904.1 481.5,904.5 482.5,905.5 483.5,906.5 484.5,907.0 485.5,906.9 486.5,906.6 487.5,906.4 488.5,906.5 489.5,906.9 490.5,907.6 491.5,908.1 492.5,908.0 493.5,907.8 494.5,907.9 495.5,908.5 496.5,909.2 497.5,909.4 498.5,909.2 499.5,908.5 500.5,907.9 501.5,907.6 502.5,907.8 503.5,908.2 504.5,908.5 505.5,908.4 506.5,908.0 507.5,907.5 508.5,907.1 509.5,907.1 510.5,907.5 511.5,908.2 512.5,908.7 513.5,908.9 514.5,908.6 515.5,908.0 516.5,907.2 517.5,906.9 518.5,907.3 519.5,907.9 520.5,908.3 521.5,908.3 522.5,908.2 523.5,908.4 524.5,908.9 525.5,909.1 526.5,908.8 527.5,907.9 528.5,906.7 529.5,905.8 530.5,905.3 531.5,905.3 532.5,906.0 533.5,907.0 534.5,907.8 535.5,908.1 536.5,907.9 537.5,907.7 538.5,907.6 539.5,907.5 540.5,907.2 541.5,906.8 542.5,906.6 543.5,906.8 544.5,907.3 545.5,907.8 546.5,908.0 547.5,907.9 548.5,907.7 549.5,907.4 550.5,906.9 551.5,906.3 552.5,905.8 553.5,905.6 554.5,905.7 555.5,905.9 556.5,906.0 557.5,906.4 558.5,907.1 559.5,907.9 560.5,908.1 561.5,907.7 562.5,907.1 563.5,906.8 564.5,906.7 565.5,906.8 566.5,907.0 567.5,907.2 568.5,907.1 569.5,907.0 570.5,907.3 571.5,907.9 572.5,908.2 573.5,908.2 574.5,908.0 575.5,907.5 576.5,907.1 577.5,906.7 578.5,906.1 579.5,905.4 580.5,905.2 581.5,905.7 582.5,906.6 583.5,907.4 584.5,907.9 585.5,908.1 586.5,908.4 587.5,908.6 588.5,908.7 589.5,908.7 590.5,908.6 591.5,908.3 592.5,907.7 593.5,907.1 594.5,906.7 595.5,906.4 596.5,906.2 597.5,906.2 598.5,906.7 599.5,907.4 600.5,908.0 601.5,908.0 602.5,907.6 603.5,907.0 604.5,906.6 605.5,906.3 606.5,906.3 607.5,906.7 608.5,907.4 609.5,908.1 610.5,908.2 611.5,908.2 612.5,908.3 613.5,908.5 614.5,908.6 615.5,908.6 616.5,908.9 617.5,909.4 618.5,910.0 619.5,910.0 620.5,909.3 621.5,908.3 622.5,907.3 623.5,906.8 624.5,906.7 625.5,906.8 626.5,907.1 627.5,907.3 628.5,907.4 629.5,907.4 630.5,907.7 631.5,908.2 632.5,908.5 633.5,908.5 634.5,908.3 635.5,908.3 636.5,908.2 637.5,908.0 638.5,907.7 639.5,907.3 640.5,907.0 641.5,906.9 642.5,907.2 643.5,907.7 644.5,908.2 645.5,908.4 646.5,908.4 647.5,908.4 648.5,908.4 649.5,908.6 650.5,908.8 651.5,908.6 652.5,908.2 653.5,908.0 654.5,908.2 655.5,908.5 656.5,908.5 657.5,908.2 658.5,908.1 659.5,907.9 660.5,907.3 661.5,906.5 662.5,906.0 663.5,905.8 664.5,905.8 665.5,906.1 666.5,906.6 667.5,907.5 668.5,908.4 669.5,908.9 670.5,908.7 671.5,908.3 672.5,908.2 673.5,908.6 674.5,909.1 675.5,909.3 676.5,909.1 677.5,908.7 678.5,908.3 679.5,908.0 680.5,907.9 681.5,908.0 682.5,908.2 683.5,908.6 684.5,909.0 685.5,909.0 686.5,908.7 687.5,908.5 688.5,908.5 689.5,908.8 690.5,909.3 691.5,909.8 692.5,910.2 693.5,910.2 694.5,909.9 695.5,909.2 696.5,908.8 697.5,908.9 698.5,909.4 699.5,909.7 700.5,909.5 701.5,909.0 702.5,908.5 703.5,908.6 704.5,909.2 705.5,909.8 706.5,910.0 707.5,909.6 708.5,909.1 709.5,908.9 710.5,909.3 711.5,909.7 712.5,910.0 713.5,909.8 714.5,909.6 715.5,909.7 716.5,910.0 717.5,910.4 718.5,910.5 719.5,910.5 720.5,910.3 721.5,910.3 722.5,910.6 723.5,911.0 724.5,911.1 725.5,910.9 726.5,910.4 727.5,910.0 728.5,910.0 729.5,910.4 730.5,910.8 731.5,911.0 732.5,910.7 733.5,910.2 734.5,909.8 735.5,910.1 736.5,910.9 737.5,911.8 738.5,912.1 739.5,912.0 740.5,911.6 741.5,911.1 742.5,910.7 743.5,910.6 744.5,910.8 745.5,911.0 746.5,911.0 747.5,910.8 748.5,910.7 749.5,910.5 750.5,910.3 751.5,910.1 752.5,910.0 753.5,909.9 754.5,910.1 755.5,910.2 756.5,910.0 757.5,909.6 758.5,909.9 759.5,911.1 760.5,912.7 761.5,914.0 762.5,914.5 763.5,914.1 764.5,913.4 765.5,912.8 766.5,912.3 767.5,911.9 768.5,911.5 769.5,911.5 770.5,911.9 771.5,912.1 772.5,911.8 773.5,911.3 774.5,911.2 775.5,911.7 776.5,912.2 777.5,912.2 778.5,911.6 779.5,910.9 780.5,910.5 781.5,910.6 782.5,910.6 783.5,910.6 784.5,910.7 785.5,910.8 786.5,910.8 787.5,910.6 788.5,910.5 789.5,910.7 790.5,911.0 791.5,911.1 792.5,910.9 793.5,910.6 794.5,910.6 795.5,910.8 796.5,911.0 797.5,910.9 798.5,910.6 799.5,910.4 800.5,910.2 801.5,910.0 802.5,909.9 803.5,909.7 804.5,909.6 805.5,909.7 806.5,910.0 807.5,910.5 808.5,910.7 809.5,911.0 810.5,911.5 811.5,911.9 812.5,911.7 813.5,911.1 814.5,910.5 815.5,910.5 816.5,911.1 817.5,911.6 818.5,911.9 819.5,912.1 820.5,912.3 821.5,912.2 822.5,912.0 823.5,911.6 824.5,911.3 825.5,911.2 826.5,911.2 827.5,911.4 828.5,911.7 829.5,912.0 830.5,912.2 831.5,912.2 832.5,912.2 833.5,912.3 834.5,912.3 835.5,912.1 836.5,912.0 837.5,911.7 838.5,911.1 839.5,910.6 840.5,910.4 841.5,910.4 842.5,910.4 843.5,910.3 844.5,910.2 845.5,910.2 846.5,909.9 847.5,909.5 848.5,909.7 849.5,910.3 850.5,910.6 851.5,910.1 852.5,908.9 853.5,907.1 854.5,905.0 855.5,902.8 856.5,901.0 857.5,899.9 858.5,899.7 859.5,899.8 860.5,900.0 861.5,900.6 862.5,901.7 863.5,903.3 864.5,905.0 865.5,906.4 866.5,907.6 867.5,909.0 868.5,910.4 869.5,911.7 870.5,912.5 871.5,912.5 872.5,912.2 873.5,911.8 874.5,911.9 875.5,912.3 876.5,912.6 877.5,912.5 878.5,912.3 879.5,912.0 880.5,911.5 881.5,910.9 882.5,910.3 883.5,909.9 884.5,909.8 885.5,910.2 886.5,911.1 887.5,912.1 888.5,912.5 889.5,912.0 890.5,911.2 891.5,910.8 892.5,910.8 893.5,910.9 894.5,910.9 895.5,910.6 896.5,910.5 897.5,910.8 898.5,911.3 899.5,911.8 900.5,911.8 901.5,911.6 902.5,911.2 903.5,911.0 904.5,911.0 905.5,911.2 906.5,911.7 907.5,912.2 908.5,912.4 909.5,912.5 910.5,912.5 911.5,912.4 912.5,912.1 913.5,911.4 914.5,910.7 915.5,910.1 916.5,910.2 917.5,910.8 918.5,911.6 919.5,912.1 920.5,912.4 921.5,912.7 922.5,912.7 923.5,912.4 924.5,911.7 925.5,911.1 926.5,910.7 927.5,910.4 928.5,910.1 929.5,910.1 930.5,910.6 931.5,911.1 932.5,911.2 933.5,910.9 934.5,910.7 935.5,910.8 936.5,911.0 937.5,911.3 938.5,911.8 939.5,912.1 940.5,912.0 941.5,911.3 942.5,910.6 943.5,910.1 944.5,909.8 945.5,909.6 946.5,909.4 947.5,909.2 948.5,909.4 949.5,909.9 950.5,910.5 951.5,910.7 952.5,910.4 953.5,910.1 954.5,910.4 955.5,911.0 956.5,911.4 957.5,911.1 958.5,910.3 959.5,909.4 960.5,908.9 961.5,908.8 962.5,908.7 963.5,908.4 964.5,908.1 965.5,908.2 966.5,908.7 967.5,909.5 968.5,910.2 969.5,910.5 970.5,910.1 971.5,909.4 972.5,908.9 973.5,908.9 974.5,909.1 975.5,909.1 976.5,909.0 977.5,908.8 978.5,908.9 979.5,909.1 980.5,909.1 981.5,909.0 982.5,909.0 983.5,909.0 984.5,909.0 985.5,909.0 986.5,909.2 987.5,909.4 988.5,909.2 989.5,908.6 990.5,908.1 991.5,907.8 992.5,907.7 993.5,908.0 994.5,908.3 995.5,908.5 996.5,908.3 997.5,907.9 998.5,907.6 999.5,907.6 1000.5,907.7 1001.5,908.0 1002.5,908.4 1003.5,908.9 1004.5,909.4 1005.5,909.7 1006.5,909.6 1007.5,909.2 1008.5,908.8 1009.5,908.5 1010.5,908.6 1011.5,908.9 1012.5,909.3 1013.5,909.5 1014.5,909.4 1015.5,909.1 1016.5,908.7 1017.5,908.5 1018.5,908.5 1019.5,908.5 1020.5,908.7 1021.5,909.0 1022.5,909.4 1023.5,909.6 1024.5,909.5 1025.5,909.1 1026.5,909.1 1027.5,909.5 1028.5,909.9 1029.5,909.9 1030.5,909.6 1031.5,909.2 1032.5,908.8 1033.5,908.4 1034.5,908.1 1035.5,908.2 1036.5,908.5 1037.5,908.8 1038.5,908.8 1039.5,908.5 1040.5,908.1 1041.5,907.8 1042.5,907.7 1043.5,907.9 1044.5,908.4 1045.5,908.8 1046.5,908.8 1047.5,908.5 1048.5,908.3 1049.5,908.3 1050.5,908.6 1051.5,909.2 1052.5,909.8 1053.5,910.2 1054.5,909.9 1055.5,909.3 1056.5,908.5 1057.5,908.0 1058.5,908.1 1059.5,908.7 1060.5,909.4 1061.5,909.8 1062.5,909.9 1063.5,909.9 1064.5,910.0 1065.5,910.1 1066.5,910.2 1067.5,910.2 1068.5,909.9 1069.5,909.5 1070.5,909.0 1071.5,908.6 1072.5,908.3 1073.5,908.0 1074.5,907.7 1075.5,907.7 1076.5,908.3 1077.5,909.4 1078.5,910.3 1079.5,910.7 1080.5,910.7 1081.5,910.6 1082.5,910.4 1083.5,910.4 1084.5,910.9 1085.5,911.5 1086.5,911.6 1087.5,910.9 1088.5,910.1 1089.5,909.8 1090.5,910.0 1091.5,910.3 1092.5,910.4 1093.5,910.3 1094.5,910.3 1095.5,910.0 1096.5,909.6 1097.5,909.5 1098.5,910.0 1099.5,910.8 1100.5,911.4 1101.5,911.5 1102.5,911.1 1103.5,910.5 1104.5,910.1 1105.5,909.9 1106.5,909.7 1107.5,909.8 1108.5,910.0 1109.5,910.0 1110.5,909.6 1111.5,908.8 1112.5,908.2 1113.5,908.0 1114.5,908.2 1115.5,908.7 1116.5,909.1 1117.5,909.4 1118.5,909.4 1119.5,909.2 1120.5,909.2 1121.5,909.1 1122.5,909.0 1123.5,909.0 1124.5,909.6 1125.5,910.4 1126.5,911.0 1127.5,911.0 1128.5,910.7 1129.5,910.1 1130.5,909.8 1131.5,909.9 1132.5,910.6 1133.5,911.2 1134.5,911.3 1135.5,911.0 1136.5,910.8 1137.5,911.0 1138.5,911.5 1139.5,912.0 1140.5,912.2 1141.5,912.0 1142.5,911.8 1143.5,911.8 1144.5,911.6 1145.5,911.0 1146.5,909.8 1147.5,908.5 1148.5,907.9 1149.5,908.2 1150.5,909.1 1151.5,910.0 1152.5,910.2 1153.5,909.8 1154.5,909.3 1155.5,908.9 1156.5,908.8 1157.5,908.9 1158.5,909.2 1159.5,909.5 1160.5,909.6 1161.5,909.3 1162.5,909.0 1163.5,908.7 1164.5,908.7 1165.5,909.1 1166.5,909.5 1167.5,909.7 1168.5,909.7 1169.5,910.0 1170.5,910.6 1171.5,911.2 1172.5,911.4 1173.5,911.3 1174.5,911.0 1175.5,910.8 1176.5,911.1 1177.5,911.7 1178.5,912.1 1179.5,912.0 1180.5,911.1 1181.5,909.8 1182.5,908.8 1183.5,908.4 1184.5,908.5 1185.5,908.6 1186.5,908.6 1187.5,908.8 1188.5,909.7 1189.5,910.8 1190.5,911.5 1191.5,911.5 1192.5,910.9 1193.5,910.0 1194.5,909.5 1195.5,909.6 1196.5,910.5 1197.5,911.7 1198.5,912.4 1199.5,912.3 1200.5,911.5 1201.5,910.6 1202.5,910.0 1203.5,909.9 1204.5,910.2 1205.5,910.5 1206.5,910.3 1207.5,910.0 1208.5,909.8 1209.5,909.7 1210.5,909.5 1211.5,909.3 1212.5,909.6 1213.5,910.4 1214.5,910.9 1215.5,911.1 1216.5,911.3 1217.5,911.4 1218.5,911.2 1219.5,910.7 1220.5,910.3 1221.5,910.2 1222.5,910.3 1223.5,910.6 1224.5,911.0 1225.5,911.4 1226.5,911.8 1227.5,911.9 1228.5,911.7 1229.5,911.5 1230.5,911.5 1231.5,911.8 1232.5,912.2 1233.5,912.9 1234.5,913.3 1235.5,913.1 1236.5,912.3 1237.5,911.4 1238.5,911.0 1239.5,911.0 1240.5,910.9 1241.5,910.8 1242.5,911.1 1243.5,911.8 1244.5,912.5 1245.5,912.6 1246.5,912.0 1247.5,911.0 1248.5,910.2 1249.5,909.6 1250.5,909.5 1251.5,909.9 1252.5,910.5 1253.5,910.7 1254.5,910.5 1255.5,910.2 1256.5,910.2 1257.5,910.7 1258.5,911.2 1259.5,911.5 1260.5,911.6 1261.5,911.5 1262.5,911.4 1263.5,911.5 1264.5,911.8 1265.5,912.2 1266.5,912.1 1267.5,911.6 1268.5,911.3 1269.5,911.4 1270.5,911.9 1271.5,912.0 1272.5,911.4 1273.5,910.7 1274.5,910.5 1275.5,910.9 1276.5,911.5 1277.5,911.8 1278.5,911.7 1279.5,911.2 1280.5,910.7 1281.5,910.6 1282.5,910.9 1283.5,911.1 1284.5,911.1 1285.5,911.0 1286.5,911.1 1287.5,911.4 1288.5,911.7 1289.5,911.7 1290.5,911.6 1291.5,911.8 1292.5,912.3 1293.5,912.7 1294.5,912.6 1295.5,912.4 1296.5,912.4 1297.5,912.5 1298.5,912.3 1299.5,911.7 1300.5,910.7 1301.5,909.7 1302.5,909.1 1303.5,909.0 1304.5,909.5 1305.5,910.5 1306.5,911.6 1307.5,912.5 1308.5,913.3 1309.5,913.6 1310.5,913.2 1311.5,912.3 1312.5,911.8 1313.5,911.7 1314.5,911.8 1315.5,912.1 1316.5,912.2 1317.5,912.1 1318.5,911.6 1319.5,910.9 1320.5,910.3 1321.5,910.1 1322.5,910.3 1323.5,910.8 1324.5,911.3 1325.5,911.8 1326.5,912.5 1327.5,912.9 1328.5,913.0 1329.5,912.8 1330.5,912.6 1331.5,912.6 1332.5,912.6 1333.5,912.3 1334.5,911.8 1335.5,911.2 1336.5,910.5 1337.5,909.9 1338.5,909.9 1339.5,910.5 1340.5,911.5 1341.5,912.3 1342.5,912.9 1343.5,913.0 1344.5,912.6 1345.5,912.0 1346.5,911.3 1347.5,910.8 1348.5,910.5 1349.5,910.6 1350.5,910.8 1351.5,911.0 1352.5,911.0 1353.5,910.6 1354.5,910.1 1355.5,909.8 1356.5,909.8 1357.5,910.1 1358.5,910.6 1359.5,911.2 1360.5,911.6 1361.5,911.6 1362.5,911.4 1363.5,911.2 1364.5,911.0 1365.5,910.8 1366.5,910.5 1367.5,910.2 1368.5,910.3 1369.5,910.7 1370.5,911.5 1371.5,912.2 1372.5,912.8 1373.5,913.2 1374.5,913.3 1375.5,913.1 1376.5,912.6 1377.5,912.2 1378.5,911.9 1379.5,911.7 1380.5,911.3 1381.5,910.7 1382.5,910.3 1383.5,910.3 1384.5,910.7 1385.5,911.0 1386.5,911.0 1387.5,910.7 1388.5,910.3 1389.5,910.2 1390.5,910.7 1391.5,911.7 1392.5,912.7 1393.5,913.3 1394.5,913.1 1395.5,912.3 1396.5,911.3 1397.5,910.8 1398.5,910.6 1399.5,910.3 1400.5,909.8 1401.5,909.4 1402.5,909.3 1403.5,909.5 1404.5,909.9 1405.5,910.0 1406.5,909.7 1407.5,908.9 1408.5,907.8 1409.5,906.6 1410.5,905.7 1411.5,905.1 1412.5,904.4 1413.5,903.1 1414.5,900.7 1415.5,897.1 1416.5,892.3 1417.5,886.0 1418.5,877.7 1419.5,867.2 1420.5,854.2 1421.5,838.2 1422.5,819.3 1423.5,797.4 1424.5,772.7 1425.5,746.0 1426.5,719.1 1427.5,694.1 1428.5,672.9 1429.5,657.1 1430.5,648.4 1431.5,648.1 1432.5,656.5 1433.5,672.4 1434.5,693.5 1435.5,718.0 1436.5,744.2 1437.5,770.3 1438.5,794.5 1439.5,815.7 1440.5,833.8 1441.5,849.2 1442.5,862.2 1443.5,873.0 1444.5,881.7 1445.5,888.6 1446.5,893.9 1447.5,897.7 1448.5,900.1 1449.5,901.6 1450.5,902.6 1451.5,903.5 1452.5,904.5 1453.5,905.5 1454.5,906.3 1455.5,906.6 1456.5,906.5 1457.5,906.2 1458.5,905.7 1459.5,905.5 1460.5,905.4 1461.5,905.0 1462.5,904.3 1463.5,903.8 1464.5,903.7 1465.5,903.7 1466.5,903.4 1467.5,902.6 1468.5,901.3 1469.5,899.6 1470.5,897.9 1471.5,896.2 1472.5,894.8 1473.5,893.5 1474.5,892.7 1475.5,892.4 1476.5,892.5 1477.5,892.4 1478.5,892.0 1479.5,891.5 1480.5,891.1 1481.5,890.9 1482.5,890.3 1483.5,889.4 1484.5,888.4 1485.5,887.5 1486.5,887.1 1487.5,886.8 1488.5,886.3 1489.5,885.3 1490.5,884.0 1491.5,882.9 1492.5,882.0 1493.5,881.3 1494.5,880.6 1495.5,879.9 1496.5,879.5 1497.5,879.2 1498.5,878.7 1499.5,878.0 1500.5,877.5 1501.5,877.2 1502.5,876.8 1503.5,876.0 1504.5,875.2 1505.5,874.5 1506.5,873.8 1507.5,873.1 1508.5,872.5 1509.5,872.0 1510.5,871.2 1511.5,870.3 1512.5,869.4 1513.5,868.8 1514.5,868.1 1515.5,867.1 1516.5,865.9 1517.5,864.7 1518.5,863.7 1519.5,862.8 1520.5,862.1 1521.5,861.9 1522.5,862.0 1523.5,862.1 1524.5,862.1 1525.5,862.1 1526.5,862.5 1527.5,863.0 1528.5,863.5 1529.5,863.7 1530.5,863.6 1531.5,863.4 1532.5,863.6 1533.5,864.0 1534.5,864.6 1535.5,864.8 1536.5,864.4 1537.5,863.7 1538.5,862.9 1539.5,862.4 1540.5,862.2 1541.5,862.8 1542.5,864.0 1543.5,865.7 1544.5,866.9 1545.5,867.2 1546.5,867.0 1547.5,866.9 1548.5,867.1 1549.5,867.4 1550.5,867.5 1551.5,867.8 1552.5,868.4 1553.5,869.2 1554.5,869.7 1555.5,870.1 1556.5,870.7 1557.5,871.6 1558.5,872.8 1559.5,873.7 1560.5,874.3 1561.5,874.5 1562.5,874.7 1563.5,875.1 1564.5,875.6 1565.5,875.7 1566.5,875.5 1567.5,875.1 1568.5,874.8 1569.5,874.8 1570.5,874.8 1571.5,874.8 1572.5,874.6 1573.5,874.3 1574.5,874.1 1575.5,874.1 1576.5,874.5 1577.5,874.8 1578.5,874.7 1579.5,874.1 1580.5,873.7 1581.5,873.7 1582.5,873.9 1583.5,874.2 1584.5,874.4 1585.5,874.3 1586.5,873.7 1587.5,872.9 1588.5,872.5 1589.5,872.6 1590.5,873.5 1591.5,874.5 1592.5,875.1 1593.5,875.3 1594.5,875.5 1595.5,876.0 1596.5,876.4 1597.5,876.3 1598.5,875.7 1599.5,875.0 1600.5,874.6 1601.5,874.2 1602.5,873.8 1603.5,873.6 1604.5,874.0 1605.5,874.5 1606.5,874.6 1607.5,874.2 1608.5,873.8 1609.5,873.5 1610.5,873.4 1611.5,873.2 1612.5,872.7 1613.5,872.3 1614.5,872.5 1615.5,873.4 1616.5,874.3 1617.5,874.7 1618.5,874.5 1619.5,873.9 1620.5,872.9 1621.5,871.9 1622.5,871.2 1623.5,871.2 1624.5,871.6 1625.5,872.1 1626.5,872.5 1627.5,872.7 1628.5,872.8 1629.5,872.9 1630.5,873.0 1631.5,873.1 1632.5,873.1 1633.5,872.9 1634.5,872.4 1635.5,871.8 1636.5,871.4 1637.5,871.2 1638.5,871.3 1639.5,871.5 1640.5,871.8 1641.5,872.2 1642.5,872.7 1643.5,872.8 1644.5,872.5 1645.5,871.9 1646.5,871.6 1647.5,871.4 1648.5,871.4 1649.5,871.5 1650.5,871.7 1651.5,871.6 1652.5,871.2 1653.5,870.8 1654.5,870.3 1655.5,869.8 1656.5,869.5 1657.5,869.4 1658.5,869.5 1659.5,869.6 1660.5,869.7 1661.5,869.6 1662.5,869.6 1663.5,869.7 1664.5,869.9 1665.5,870.2 1666.5,870.2 1667.5,869.9 1668.5,869.7 1669.5,869.7 1670.5,869.9 1671.5,870.1 1672.5,870.4 1673.5,870.8 1674.5,871.3 1675.5,871.8 1676.5,871.9 1677.5,871.8 1678.5,871.7 1679.5,871.8 1680.5,871.9 1681.5,872.3 1682.5,873.0 1683.5,873.5 1684.5,873.7 1685.5,873.1 1686.5,872.0 1687.5,871.4 1688.5,871.6 1689.5,872.3 1690.5,872.6 1691.5,872.6 1692.5,872.6 1693.5,872.5 1694.5,872.5 1695.5,872.7 1696.5,873.1 1697.5,873.3 1698.5,873.2 1699.5,872.8 1700.5,872.4 1701.5,872.0 1702.5,871.6 1703.5,871.5 1704.5,871.7 1705.5,872.4 1706.5,872.9 1707.5,873.2 1708.5,873.0 1709.5,872.8 1710.5,872.5 1711.5,872.3 1712.5,872.2 1713.5,872.4 1714.5,872.8 1715.5,873.4 1716.5,873.8 1717.5,873.7 1718.5,873.0 1719.5,872.5 1720.5,872.4 1721.5,872.7 1722.5,873.3 1723.5,873.8 1724.5,874.0 1725.5,873.7 1726.5,873.3 1727.5,873.1 1728.5,873.2 1729.5,873.5 1730.5,873.7 1731.5,874.0 1732.5,874.3 1733.5,874.4 1734.5,873.9 1735.5,873.1 1736.5,872.5 1737.5,872.5 1738.5,873.3 1739.5,874.5 1740.5,875.5 1741.5,875.7 1742.5,875.2 1743.5,874.2 1744.5,873.2 1745.5,872.6 1746.5,872.6 1747.5,873.0 1748.5,873.7 1749.5,874.3 1750.5,874.7 1751.5,875.1 1752.5,875.6 1753.5,875.9 1754.5,875.6 1755.5,875.2 1756.5,874.8 1757.5,874.3 1758.5,874.0 1759.5,873.9 1760.5,874.1 1761.5,874.4 1762.5,874.8 1763.5,875.0 1764.5,874.7 1765.5,874.3 1766.5,874.1 1767.5,874.4 1768.5,874.7 1769.5,874.9 1770.5,874.7 1771.5,874.7 1772.5,875.1 1773.5,875.9 1774.5,876.6 1775.5,876.8 1776.5,876.5 1777.5,876.4 1778.5,876.5 1779.5,876.8 1780.5,877.2 1781.5,877.3 1782.5,877.1 1783.5,876.8 1784.5,876.6 1785.5,876.4 1786.5,876.2 1787.5,876.0 1788.5,876.0 1789.5,876.0 1790.5,875.9 1791.5,875.9 1792.5,876.2 1793.5,876.7 1794.5,877.3 1795.5,877.6 1796.5,877.6 1797.5,877.4 1798.5,877.0 1799.5,876.6 1800.5,876.2 1801.5,875.8 1802.5,875.6 1803.5,875.5 1804.5,875.6 1805.5,875.6 1806.5,875.5 1807.5,875.6 1808.5,876.2 1809.5,877.0 1810.5,877.4 1811.5,877.4 1812.5,877.3 1813.5,877.5 1814.5,877.7 1815.5,877.6 1816.5,877.1 1817.5,876.6 1818.5,876.4 1819.5,876.7 1820.5,877.1 1821.5,877.5 1822.5,878.1 1823.5,878.6 1824.5,879.0 1825.5,879.2 1826.5,879.2 1827.5,879.1 1828.5,878.8 1829.5,878.7 1830.5,878.5 1831.5,878.1 1832.5,877.3 1833.5,876.9 1834.5,877.1 1835.5,877.8 1836.5,878.2 1837.5,878.0 1838.5,877.9 1839.5,878.3 1840.5,878.8 1841.5,879.1 1842.5,879.1 1843.5,878.8 1844.5,878.3 1845.5,877.7 1846.5,877.3 1847.5,877.2 1848.5,877.3 1849.5,877.6 1850.5,877.6 1851.5,877.2 1852.5,876.7 1853.5,876.6 1854.5,877.1 1855.5,877.6 1856.5,877.6 1857.5,877.2 1858.5,877.0 1859.5,877.1 1860.5,877.2 1861.5,877.4 1862.5,877.6 1863.5,877.8 1864.5,877.9 1865.5,878.2 1866.5,878.6 1867.5,879.0 1868.5,879.2 1869.5,878.9 1870.5,878.5 1871.5,878.1 1872.5,878.1 1873.5,878.5 1874.5,879.2 1875.5,879.7 1876.5,879.7 1877.5,879.3 1878.5,878.7 1879.5,878.3 1880.5,878.2 1881.5,878.4 1882.5,878.7 1883.5,878.7 1884.5,878.3 1885.5,878.1 1886.5,878.4 1887.5,879.2 1888.5,879.8 1889.5,880.2 1890.5,880.4 1891.5,880.2 1892.5,879.6 1893.5,879.1 1894.5,878.9 1895.5,879.1 1896.5,879.6 1897.5,879.7 1898.5,879.5 1899.5,879.0 1900.5,878.9 1901.5,879.0 1902.5,878.9 1903.5,878.5 1904.5,878.0 1905.5,877.7 1906.5,877.6 1907.5,877.7 1908.5,877.7 1909.5,877.8 1910.5,878.0 1911.5,878.2 1912.5,878.4 1913.5,878.7 1914.5,879.2 1915.5,879.6 1916.5,879.9 1917.5,880.1 1918.5,880.4 1919.5,880.6 1920.5,880.4 1921.5,880.0 1922.5,879.7 1923.5,879.6 1924.5,879.5 1925.5,879.5 1926.5,879.4 1927.5,879.1 1928.5,878.7 1929.5,878.5 1930.5,878.7 1931.5,879.2 1932.5,879.8 1933.5,880.0 1934.5,879.9 1935.5,879.9 1936.5,879.9 1937.5,879.9 1938.5,880.1 1939.5,880.3 1940.5,880.5 1941.5,880.2 1942.5,879.5 1943.5,878.8 1944.5,878.5 1945.5,878.6 1946.5,878.6 1947.5,878.4 1948.5,878.2 1949.5,878.1 1950.5,878.1 1951.5,878.5 1952.5,879.0 1953.5,879.4 1954.5,879.7 1955.5,880.2 1956.5,880.7 1957.5,881.1 1958.5,881.1 1959.5,880.9 1960.5,880.5 1961.5,880.4 1962.5,880.4 1963.5,880.5 1964.5,880.3 1965.5,879.7 1966.5,879.0 1967.5,878.6 1968.5,878.7 1969.5,879.2 1970.5,879.7 1971.5,880.3 1972.5,880.3 1973.5,879.8 1974.5,879.2 1975.5,879.0 1976.5,879.0 1977.5,879.2 1978.5,879.5 1979.5,879.9 1980.5,880.5 1981.5,881.1 1982.5,881.6 1983.5,882.0 1984.5,882.2 1985.5,882.0 1986.5,881.7 1987.5,881.6 1988.5,882.0 1989.5,882.5 1990.5,882.4 1991.5,881.7 1992.5,881.1 1993.5,880.6 1994.5,880.3 1995.5,879.9 1996.5,879.9 1997.5,880.1 1998.5,880.5 1999.5,880.7 2000.5,881.0 2001.5,881.3 2002.5,881.7 2003.5,882.0 2004.5,882.0 2005.5,881.6 2006.5,881.2 2007.5,881.0 2008.5,881.2 2009.5,881.5 2010.5,881.6 2011.5,881.6 2012.5,881.7 2013.5,882.0 2014.5,882.3 2015.5,882.4 2016.5,882.0 2017.5,881.4 2018.5,880.8 2019.5,880.6 2020.5,880.9 2021.5,881.5 2022.5,882.0 2023.5,882.2 2024.5,882.1 2025.5,881.7 2026.5,881.3 2027.5,881.2 2028.5,881.5 2029.5,882.0 2030.5,882.5 2031.5,882.6 2032.5,882.2 2033.5,881.3 2034.5,880.7 2035.5,880.8 2036.5,881.2 2037.5,881.5 2038.5,881.6 2039.5,881.3 2040.5,881.0 2041.5,881.0 2042.5,881.4 2043.5,881.9 2044.5,882.4 2045.5,882.4 2046.5,882.1 2047.5,881.6 2048.5,881.1 2049.5,880.7 2050.5,880.3 2051.5,880.0 2052.5,879.9 2053.5,880.1 2054.5,880.6 2055.5,881.6 2056.5,882.7 2057.5,883.6 2058.5,883.9 2059.5,883.5 2060.5,882.6 2061.5,882.0 2062.5,882.1 2063.5,882.6 2064.5,882.9 2065.5,882.9 2066.5,882.9 2067.5,883.2 2068.5,883.6 2069.5,884.0 2070.5,883.9 2071.5,883.3 2072.5,882.4 2073.5,882.0 2074.5,882.3 2075.5,882.9 2076.5,883.4 2077.5,883.7 2078.5,883.6 2079.5,883.2 2080.5,882.7 2081.5,882.1 2082.5,881.7 2083.5,881.4 2084.5,881.5 2085.5,881.9 2086.5,882.3 2087.5,882.8 2088.5,883.1 2089.5,883.3 2090.5,883.0 2091.5,882.2 2092.5,881.5 2093.5,881.1 2094.5,881.4 2095.5,882.1 2096.5,882.5 2097.5,882.3 2098.5,882.1 2099.5,882.3 2100.5,882.7 2101.5,883.0 2102.5,882.8 2103.5,882.5 2104.5,882.3 2105.5,882.1 2106.5,881.8 2107.5,881.7 2108.5,881.9 2109.5,882.6 2110.5,883.3 2111.5,883.7 2112.5,883.6 2113.5,883.1 2114.5,882.6 2115.5,882.1 2116.5,881.5 2117.5,881.2 2118.5,881.5 2119.5,882.2 2120.5,882.9 2121.5,883.2 2122.5,883.2 2123.5,883.2 2124.5,883.3 2125.5,883.7 2126.5,884.0 2127.5,884.3 2128.5,884.6 2129.5,884.8 2130.5,885.0 2131.5,884.9 2132.5,884.2 2133.5,883.2 2134.5,882.8 2135.5,883.4 2136.5,884.3 2137.5,884.5 2138.5,883.7 2139.5,882.4 2140.5,881.5 2141.5,881.2 2142.5,881.2 2143.5,881.5 2144.5,881.7 2145.5,881.8 2146.5,881.5 2147.5,881.4 2148.5,881.6 2149.5,882.1 2150.5,882.5 2151.5,882.6 2152.5,882.6 2153.5,882.9 2154.5,883.5 2155.5,884.1 2156.5,884.6 2157.5,885.2 2158.5,885.8 2159.5,886.3 2160.5,886.4 2161.5,886.1 2162.5,885.7 2163.5,885.2 2164.5,885.0 2165.5,885.1 2166.5,885.0 2167.5,884.6 2168.5,884.0 2169.5,883.9 2170.5,884.1 2171.5,884.5 2172.5,884.9 2173.5,885.2 2174.5,885.1 2175.5,884.6 2176.5,884.0 2177.5,883.6 2178.5,883.4 2179.5,883.4 2180.5,883.5 2181.5,883.9 2182.5,884.4 2183.5,884.6 2184.5,884.6 2185.5,884.4 2186.5,884.5 2187.5,884.7 2188.5,884.6 2189.5,884.0 2190.5,883.4 2191.5,883.0 2192.5,883.1 2193.5,883.3 2194.5,883.6 2195.5,883.8 2196.5,883.9 2197.5,883.9 2198.5,883.9 2199.5,884.2 2200.5,884.6 2201.5,884.7 2202.5,884.4 2203.5,884.2 2204.5,884.2 2205.5,884.5 2206.5,884.8 2207.5,884.8 2208.5,884.5 2209.5,884.3 2210.5,884.3 2211.5,884.7 2212.5,885.2 2213.5,885.2 2214.5,884.6 2215.5,883.8 2216.5,883.3 2217.5,882.9 2218.5,882.6 2219.5,882.7 2220.5,883.5 2221.5,884.4 2222.5,884.8 2223.5,884.3 2224.5,883.5 2225.5,883.1 2226.5,883.2 2227.5,883.8 2228.5,884.5 2229.5,884.8 2230.5,885.0 2231.5,885.2 2232.5,885.5 2233.5,885.6 2234.5,885.4 2235.5,885.2 2236.5,885.1 2237.5,885.1 2238.5,885.3 2239.5,885.5 2240.5,885.6 2241.5,885.4 2242.5,885.0 2243.5,884.7 2244.5,884.8 2245.5,885.2 2246.5,885.4 2247.5,885.2 2248.5,884.8 2249.5,884.7 2250.5,884.9 2251.5,885.3 2252.5,885.6 2253.5,885.8 2254.5,885.9 2255.5,886.1 2256.5,886.1 2257.5,886.1 2258.5,886.0 2259.5,886.1 2260.5,886.2 2261.5,886.2 2262.5,886.1 2263.5,886.1 2264.5,886.2 2265.5,886.4 2266.5,886.2 2267.5,885.8 2268.5,885.4 2269.5,885.1 2270.5,885.1 2271.5,885.4 2272.5,885.9 2273.5,886.1 2274.5,885.9 2275.5,885.5 2276.5,885.3 2277.5,885.7 2278.5,886.3 2279.5,886.6 2280.5,886.1 2281.5,885.3 2282.5,885.0 2283.5,885.3 2284.5,885.8 2285.5,886.1 2286.5,886.3 2287.5,886.5 2288.5,886.5 2289.5,886.6 2290.5,886.7 2291.5,886.8 2292.5,886.9 2293.5,887.3 2294.5,887.8 2295.5,888.1 2296.5,887.9 2297.5,887.1 2298.5,886.3 2299.5,885.7 2300.5,885.3 2301.5,885.0 2302.5,884.9 2303.5,885.0 2304.5,885.2 2305.5,885.4 2306.5,885.4 2307.5,885.2 2308.5,884.9 2309.5,884.5 2310.5,884.3 2311.5,884.5 2312.5,885.1 2313.5,885.6 2314.5,885.8 2315.5,885.8 2316.5,885.8 2317.5,886.1 2318.5,886.7 2319.5,887.1 2320.5,887.3 2321.5,887.2 2322.5,887.1 2323.5,887.0 2324.5,887.0 2325.5,887.0 2326.5,887.0 2327.5,887.0 2328.5,886.9 2329.5,886.9 2330.5,886.9 2331.5,887.2 2332.5,887.4 2333.5,887.1 2334.5,886.8 2335.5,886.6 2336.5,886.5 2337.5,886.2 2338.5,885.9 2339.5,885.8 2340.5,886.3 2341.5,886.8 2342.5,887.1 2343.5,886.8 2344.5,886.3 2345.5,886.1 2346.5,886.5 2347.5,887.0 2348.5,887.1 2349.5,886.8 2350.5,886.6 2351.5,887.1 2352.5,887.7 2353.5,888.2 2354.5,888.4 2355.5,888.4 2356.5,888.6 2357.5,888.7 2358.5,888.6 2359.5,888.2 2360.5,888.0 2361.5,887.9 2362.5,887.7 2363.5,887.2 2364.5,886.7 2365.5,886.4 2366.5,886.0 2367.5,885.8 2368.5,885.8 2369.5,886.1"/>
<polyline fill="none" stroke="#f63c3f" stroke-width="6.6" stroke-linejoin="round" stroke-linecap="round" points="216.5,1178.8 217.5,1178.6 218.5,1178.9 219.5,1179.5 220.5,1180.1 221.5,1180.4 222.5,1180.3 223.5,1179.8 224.5,1179.4 225.5,1179.2 226.5,1179.1 227.5,1179.1 228.5,1179.2 229.5,1179.2 230.5,1179.1 231.5,1178.6 232.5,1178.3 233.5,1178.6 234.5,1179.2 235.5,1180.0 236.5,1180.7 237.5,1181.2 238.5,1181.5 239.5,1181.4 240.5,1180.9 241.5,1180.3 242.5,1179.7 243.5,1179.3 244.5,1179.2 245.5,1179.3 246.5,1179.5 247.5,1179.3 248.5,1178.9 249.5,1178.9 250.5,1179.2 251.5,1179.6 252.5,1179.5 253.5,1179.1 254.5,1178.6 255.5,1178.2 256.5,1178.1 257.5,1178.2 258.5,1178.7 259.5,1179.3 260.5,1179.7 261.5,1179.8 262.5,1179.7 263.5,1179.8 264.5,1180.1 265.5,1180.4 266.5,1180.4 267.5,1180.4 268.5,1180.4 269.5,1180.7 270.5,1180.9 271.5,1181.0 272.5,1180.9 273.5,1180.5 274.5,1179.9 275.5,1179.4 276.5,1179.1 277.5,1179.1 278.5,1179.2 279.5,1179.6 280.5,1179.9 281.5,1179.7 282.5,1178.9 283.5,1177.9 284.5,1177.3 285.5,1177.5 286.5,1178.2 287.5,1179.1 288.5,1179.7 289.5,1179.9 290.5,1179.8 291.5,1179.8 292.5,1179.7 293.5,1179.5 294.5,1179.3 295.5,1179.0 296.5,1178.6 297.5,1178.4 298.5,1178.7 299.5,1179.3 300.5,1179.6 301.5,1179.3 302.5,1178.9 303.5,1178.7 304.5,1179.1 305.5,1179.8 306.5,1180.6 307.5,1181.0 308.5,1181.0 309.5,1180.8 310.5,1180.6 311.5,1180.2 312.5,1179.7 313.5,1179.6 314.5,1180.0 315.5,1180.5 316.5,1180.7 317.5,1180.2 318.5,1179.4 319.5,1179.0 320.5,1179.1 321.5,1179.5 322.5,1179.9 323.5,1180.0 324.5,1179.9 325.5,1180.1 326.5,1180.3 327.5,1180.5 328.5,1180.5 329.5,1180.3 330.5,1180.0 331.5,1179.5 332.5,1179.2 333.5,1179.3 334.5,1179.5 335.5,1179.6 336.5,1179.8 337.5,1180.3 338.5,1180.9 339.5,1181.0 340.5,1180.7 341.5,1180.0 342.5,1179.1 343.5,1178.0 344.5,1177.0 345.5,1176.1 346.5,1175.2 347.5,1173.8 348.5,1171.1 349.5,1166.6 350.5,1160.5 351.5,1153.0 352.5,1143.8 353.5,1132.5 354.5,1118.9 355.5,1103.5 356.5,1086.6 357.5,1068.4 358.5,1049.4 359.5,1030.7 360.5,1013.5 361.5,998.8 362.5,987.5 363.5,980.4 364.5,978.3 365.5,981.7 366.5,990.4 367.5,1003.3 368.5,1019.3 369.5,1037.1 370.5,1055.9 371.5,1074.8 372.5,1092.7 373.5,1108.6 374.5,1122.0 375.5,1132.7 376.5,1140.8 377.5,1147.2 378.5,1152.8 379.5,1157.9 380.5,1162.2 381.5,1165.3 382.5,1167.2 383.5,1168.7 384.5,1169.9 385.5,1171.0 386.5,1171.8 387.5,1172.4 388.5,1172.6 389.5,1172.7 390.5,1173.1 391.5,1173.9 392.5,1174.9 393.5,1175.8 394.5,1176.1 395.5,1175.7 396.5,1174.8 397.5,1173.5 398.5,1171.8 399.5,1170.4 400.5,1169.8 401.5,1169.9 402.5,1170.1 403.5,1170.0 404.5,1169.6 405.5,1169.2 406.5,1168.6 407.5,1167.7 408.5,1166.6 409.5,1165.7 410.5,1164.6 411.5,1163.2 412.5,1161.8 413.5,1161.2 414.5,1161.5 415.5,1162.0 416.5,1161.9 417.5,1161.3 418.5,1160.7 419.5,1160.3 420.5,1160.0 421.5,1159.6 422.5,1159.3 423.5,1158.9 424.5,1158.3 425.5,1157.6 426.5,1157.0 427.5,1156.8 428.5,1156.8 429.5,1156.7 430.5,1156.5 431.5,1156.1 432.5,1155.6 433.5,1154.8 434.5,1154.0 435.5,1153.5 436.5,1153.3 437.5,1153.3 438.5,1153.1 439.5,1152.3 440.5,1150.9 441.5,1149.3 442.5,1148.3 443.5,1148.0 444.5,1148.0 445.5,1148.2 446.5,1148.3 447.5,1148.0 448.5,1147.5 449.5,1147.1 450.5,1146.8 451.5,1146.3 452.5,1145.8 453.5,1145.3 454.5,1145.0 455.5,1145.2 456.5,1145.7 457.5,1146.3 458.5,1146.8 459.5,1147.3 460.5,1147.8 461.5,1148.2 462.5,1148.5 463.5,1148.5 464.5,1148.3 465.5,1148.2 466.5,1148.2 467.5,1148.0 468.5,1147.4 469.5,1146.7 470.5,1146.1 471.5,1146.2 472.5,1146.7 473.5,1147.4 474.5,1147.9 475.5,1147.7 476.5,1147.0 477.5,1146.6 478.5,1147.0 479.5,1148.0 480.5,1148.5 481.5,1148.3 482.5,1147.8 483.5,1147.5 484.5,1147.4 485.5,1147.4 486.5,1147.4 487.5,1147.4 488.5,1147.4 489.5,1147.6 490.5,1147.6 491.5,1147.5 492.5,1147.4 493.5,1147.5 494.5,1147.7 495.5,1147.9 496.5,1148.0 497.5,1148.0 498.5,1148.0 499.5,1148.0 500.5,1148.1 501.5,1148.1 502.5,1147.9 503.5,1147.8 504.5,1148.2 505.5,1149.0 506.5,1149.7 507.5,1150.1 508.5,1150.4 509.5,1150.8 510.5,1151.1 511.5,1151.1 512.5,1150.5 513.5,1149.7 514.5,1149.0 515.5,1148.7 516.5,1148.8 517.5,1149.2 518.5,1149.6 519.5,1149.6 520.5,1149.4 521.5,1149.0 522.5,1149.0 523.5,1149.2 524.5,1149.7 525.5,1150.1 526.5,1150.5 527.5,1151.0 528.5,1151.2 529.5,1151.0 530.5,1150.4 531.5,1150.0 532.5,1149.7 533.5,1149.6 534.5,1149.5 535.5,1149.7 536.5,1150.3 537.5,1150.9 538.5,1151.0 539.5,1150.5 540.5,1149.9 541.5,1149.8 542.5,1150.2 543.5,1150.6 544.5,1150.4 545.5,1149.9 546.5,1149.3 547.5,1148.8 548.5,1148.7 549.5,1149.2 550.5,1150.0 551.5,1150.7 552.5,1150.9 553.5,1150.8 554.5,1150.6 555.5,1150.3 556.5,1150.0 557.5,1150.2 558.5,1150.7 559.5,1151.5 560.5,1152.0 561.5,1152.3 562.5,1152.3 563.5,1152.0 564.5,1151.4 565.5,1150.7 566.5,1150.4 567.5,1150.7 568.5,1151.2 569.5,1151.7 570.5,1151.9 571.5,1151.9 572.5,1151.8 573.5,1151.5 574.5,1151.4 575.5,1151.5 576.5,1151.8 577.5,1151.9 578.5,1151.7 579.5,1151.6 580.5,1151.7 581.5,1151.9 582.5,1151.7 583.5,1151.0 584.5,1150.3 585.5,1150.2 586.5,1150.7 587.5,1151.1 588.5,1150.9 589.5,1150.2 590.5,1149.5 591.5,1149.2 592.5,1149.6 593.5,1150.2 594.5,1150.6 595.5,1150.7 596.5,1150.9 597.5,1151.5 598.5,1152.0 599.5,1152.0 600.5,1151.4 601.5,1151.1 602.5,1151.3 603.5,1151.8 604.5,1152.1 605.5,1151.8 606.5,1151.2 607.5,1150.6 608.5,1150.2 609.5,1150.1 610.5,1150.4 611.5,1151.1 612.5,1151.6 613.5,1151.6 614.5,1151.4 615.5,1151.4 616.5,1151.8 617.5,1152.1 618.5,1152.4 619.5,1152.5 620.5,1152.4 621.5,1151.9 622.5,1151.1 623.5,1150.4 624.5,1150.1 625.5,1150.3 626.5,1150.6 627.5,1150.8 628.5,1151.0 629.5,1151.3 630.5,1151.4 631.5,1151.2 632.5,1150.8 633.5,1150.6 634.5,1150.6 635.5,1150.5 636.5,1150.4 637.5,1150.6 638.5,1151.1 639.5,1151.6 640.5,1152.1 641.5,1152.2 642.5,1152.3 643.5,1152.8 644.5,1153.4 645.5,1153.6 646.5,1153.4 647.5,1153.0 648.5,1152.5 649.5,1152.0 650.5,1151.6 651.5,1151.5 652.5,1151.9 653.5,1152.4 654.5,1152.7 655.5,1152.8 656.5,1152.8 657.5,1152.8 658.5,1152.6 659.5,1152.2 660.5,1151.6 661.5,1151.2 662.5,1151.3 663.5,1151.5 664.5,1151.5 665.5,1151.4 666.5,1151.6 667.5,1152.3 668.5,1153.1 669.5,1153.2 670.5,1152.7 671.5,1152.0 672.5,1151.6 673.5,1151.4 674.5,1151.1 675.5,1150.9 676.5,1150.8 677.5,1150.8 678.5,1151.0 679.5,1151.1 680.5,1151.0 681.5,1150.9 682.5,1151.1 683.5,1151.8 684.5,1153.1 685.5,1154.5 686.5,1155.0 687.5,1154.7 688.5,1153.8 689.5,1153.1 690.5,1152.8 691.5,1152.9 692.5,1153.0 693.5,1152.7 694.5,1152.1 695.5,1151.4 696.5,1151.3 697.5,1151.8 698.5,1152.4 699.5,1153.0 700.5,1153.5 701.5,1153.8 702.5,1153.7 703.5,1153.0 704.5,1152.0 705.5,1151.1 706.5,1150.7 707.5,1150.9 708.5,1151.2 709.5,1151.5 710.5,1151.8 711.5,1152.1 712.5,1152.4 713.5,1152.8 714.5,1153.3 715.5,1153.8 716.5,1154.1 717.5,1154.0 718.5,1153.9 719.5,1154.4 720.5,1154.9 721.5,1154.8 722.5,1153.9 723.5,1153.1 724.5,1152.8 725.5,1153.1 726.5,1153.4 727.5,1153.6 728.5,1153.5 729.5,1153.1 730.5,1152.4 731.5,1152.1 732.5,1152.3 733.5,1152.6 734.5,1152.5 735.5,1152.0 736.5,1151.6 737.5,1151.6 738.5,1151.8 739.5,1152.2 740.5,1152.5 741.5,1152.5 742.5,1152.6 743.5,1153.0 744.5,1153.5 745.5,1153.5 746.5,1153.2 747.5,1152.9 748.5,1152.9 749.5,1152.9 750.5,1152.9 751.5,1152.9 752.5,1152.9 753.5,1153.0 754.5,1152.9 755.5,1152.8 756.5,1152.9 757.5,1153.0 758.5,1153.0 759.5,1153.0 760.5,1153.3 761.5,1153.9 762.5,1154.2 763.5,1153.7 764.5,1152.9 765.5,1152.1 766.5,1151.5 767.5,1151.4 768.5,1151.8 769.5,1152.7 770.5,1153.8 771.5,1154.6 772.5,1154.8 773.5,1154.5 774.5,1154.0 775.5,1153.8 776.5,1153.8 777.5,1153.8 778.5,1153.8 779.5,1153.9 780.5,1154.1 781.5,1154.1 782.5,1153.9 783.5,1153.8 784.5,1153.9 785.5,1154.0 786.5,1154.0 787.5,1153.7 788.5,1153.1 789.5,1152.5 790.5,1152.4 791.5,1152.9 792.5,1153.4 793.5,1153.5 794.5,1153.3 795.5,1153.2 796.5,1153.7 797.5,1154.7 798.5,1155.8 799.5,1156.2 800.5,1155.8 801.5,1154.8 802.5,1153.8 803.5,1153.2 804.5,1153.2 805.5,1153.5 806.5,1153.9 807.5,1154.2 808.5,1154.5 809.5,1155.1 810.5,1155.4 811.5,1155.3 812.5,1155.0 813.5,1154.5 814.5,1154.0 815.5,1153.8 816.5,1153.9 817.5,1154.4 818.5,1154.7 819.5,1154.7 820.5,1154.3 821.5,1153.9 822.5,1153.5 823.5,1153.4 824.5,1153.3 825.5,1153.2 826.5,1153.0 827.5,1152.7 828.5,1152.5 829.5,1152.7 830.5,1153.2 831.5,1153.8 832.5,1154.6 833.5,1155.5 834.5,1156.2 835.5,1156.4 836.5,1155.9 837.5,1155.1 838.5,1154.3 839.5,1153.9 840.5,1153.8 841.5,1153.9 842.5,1154.0 843.5,1154.1 844.5,1154.3 845.5,1154.3 846.5,1154.2 847.5,1153.9 848.5,1153.3 849.5,1152.6 850.5,1151.8 851.5,1150.6 852.5,1148.6 853.5,1146.0 854.5,1143.2 855.5,1140.8 856.5,1139.4 857.5,1139.5 858.5,1140.6 859.5,1142.1 860.5,1143.7 861.5,1145.7 862.5,1148.1 863.5,1150.5 864.5,1152.4 865.5,1153.5 866.5,1154.0 867.5,1153.9 868.5,1153.8 869.5,1153.8 870.5,1153.8 871.5,1153.7 872.5,1153.3 873.5,1153.0 874.5,1152.9 875.5,1153.1 876.5,1153.3 877.5,1153.5 878.5,1154.1 879.5,1154.7 880.5,1155.0 881.5,1154.8 882.5,1154.2 883.5,1153.6 884.5,1153.2 885.5,1153.3 886.5,1153.8 887.5,1154.4 888.5,1155.0 889.5,1155.2 890.5,1154.9 891.5,1154.3 892.5,1153.8 893.5,1153.6 894.5,1153.9 895.5,1154.4 896.5,1155.0 897.5,1155.2 898.5,1154.8 899.5,1154.0 900.5,1153.2 901.5,1152.7 902.5,1152.6 903.5,1153.0 904.5,1153.7 905.5,1154.3 906.5,1154.5 907.5,1154.5 908.5,1154.5 909.5,1154.7 910.5,1154.8 911.5,1154.5 912.5,1154.2 913.5,1154.0 914.5,1154.0 915.5,1153.8 916.5,1153.3 917.5,1152.8 918.5,1152.5 919.5,1152.5 920.5,1152.3 921.5,1152.0 922.5,1151.8 923.5,1151.8 924.5,1152.1 925.5,1152.6 926.5,1152.9 927.5,1153.2 928.5,1153.5 929.5,1153.7 930.5,1153.7 931.5,1153.5 932.5,1153.1 933.5,1152.7 934.5,1152.3 935.5,1152.2 936.5,1152.3 937.5,1152.3 938.5,1152.3 939.5,1152.2 940.5,1152.3 941.5,1152.5 942.5,1152.9 943.5,1153.5 944.5,1153.9 945.5,1154.1 946.5,1154.0 947.5,1153.8 948.5,1153.3 949.5,1152.8 950.5,1152.2 951.5,1152.1 952.5,1152.5 953.5,1153.0 954.5,1153.4 955.5,1153.5 956.5,1153.4 957.5,1153.2 958.5,1153.2 959.5,1153.2 960.5,1153.1 961.5,1152.8 962.5,1152.5 963.5,1152.7 964.5,1153.5 965.5,1154.2 966.5,1154.5 967.5,1154.1 968.5,1153.3 969.5,1152.8 970.5,1152.4 971.5,1152.3 972.5,1152.3 973.5,1152.5 974.5,1152.7 975.5,1152.7 976.5,1152.3 977.5,1151.8 978.5,1151.2 979.5,1150.9 980.5,1151.0 981.5,1151.8 982.5,1152.7 983.5,1153.0 984.5,1152.6 985.5,1152.3 986.5,1152.3 987.5,1152.6 988.5,1152.7 989.5,1152.4 990.5,1151.9 991.5,1151.3 992.5,1150.9 993.5,1150.9 994.5,1151.2 995.5,1151.9 996.5,1152.9 997.5,1153.8 998.5,1154.4 999.5,1154.6 1000.5,1154.4 1001.5,1154.0 1002.5,1153.5 1003.5,1152.8 1004.5,1152.0 1005.5,1151.3 1006.5,1150.9 1007.5,1151.1 1008.5,1151.8 1009.5,1152.4 1010.5,1152.4 1011.5,1151.7 1012.5,1150.8 1013.5,1150.2 1014.5,1150.3 1015.5,1150.7 1016.5,1151.1 1017.5,1151.3 1018.5,1151.3 1019.5,1151.5 1020.5,1152.0 1021.5,1152.3 1022.5,1152.3 1023.5,1152.4 1024.5,1152.6 1025.5,1152.5 1026.5,1151.8 1027.5,1150.7 1028.5,1150.0 1029.5,1150.1 1030.5,1151.1 1031.5,1152.2 1032.5,1152.8 1033.5,1152.7 1034.5,1152.3 1035.5,1151.9 1036.5,1151.5 1037.5,1151.1 1038.5,1150.7 1039.5,1150.5 1040.5,1150.6 1041.5,1150.7 1042.5,1151.0 1043.5,1151.3 1044.5,1151.6 1045.5,1151.7 1046.5,1151.6 1047.5,1151.1 1048.5,1150.7 1049.5,1150.5 1050.5,1150.8 1051.5,1151.6 1052.5,1152.3 1053.5,1152.6 1054.5,1152.6 1055.5,1152.3 1056.5,1152.0 1057.5,1151.8 1058.5,1151.7 1059.5,1151.5 1060.5,1151.4 1061.5,1151.2 1062.5,1151.1 1063.5,1151.1 1064.5,1151.3 1065.5,1151.6 1066.5,1152.0 1067.5,1152.2 1068.5,1152.1 1069.5,1152.0 1070.5,1151.9 1071.5,1151.8 1072.5,1151.7 1073.5,1151.8 1074.5,1151.9 1075.5,1152.1 1076.5,1152.2 1077.5,1152.2 1078.5,1152.2 1079.5,1152.3 1080.5,1152.5 1081.5,1152.4 1082.5,1152.0 1083.5,1151.6 1084.5,1151.2 1085.5,1150.9 1086.5,1150.3 1087.5,1149.6 1088.5,1149.2 1089.5,1149.5 1090.5,1150.2 1091.5,1150.8 1092.5,1151.1 1093.5,1151.4 1094.5,1152.1 1095.5,1153.1 1096.5,1153.7 1097.5,1153.5 1098.5,1152.5 1099.5,1151.6 1100.5,1151.5 1101.5,1152.0 1102.5,1152.6 1103.5,1152.6 1104.5,1151.8 1105.5,1150.9 1106.5,1150.6 1107.5,1151.1 1108.5,1151.8 1109.5,1152.1 1110.5,1151.9 1111.5,1151.6 1112.5,1151.5 1113.5,1151.6 1114.5,1151.5 1115.5,1151.6 1116.5,1151.9 1117.5,1152.2 1118.5,1152.3 1119.5,1152.2 1120.5,1151.9 1121.5,1151.7 1122.5,1151.5 1123.5,1151.5 1124.5,1151.5 1125.5,1151.7 1126.5,1151.9 1127.5,1151.9 1128.5,1151.5 1129.5,1151.1 1130.5,1150.9 1131.5,1151.1 1132.5,1151.3 1133.5,1151.3 1134.5,1151.1 1135.5,1151.1 1136.5,1151.6 1137.5,1152.3 1138.5,1152.9 1139.5,1153.3 1140.5,1153.1 1141.5,1152.2 1142.5,1151.0 1143.5,1150.0 1144.5,1149.7 1145.5,1149.8 1146.5,1150.3 1147.5,1150.9 1148.5,1151.8 1149.5,1153.0 1150.5,1154.2 1151.5,1154.9 1152.5,1154.7 1153.5,1153.9 1154.5,1152.9 1155.5,1152.2 1156.5,1151.8 1157.5,1151.8 1158.5,1151.7 1159.5,1151.6 1160.5,1151.7 1161.5,1152.0 1162.5,1152.3 1163.5,1152.2 1164.5,1151.7 1165.5,1151.3 1166.5,1151.1 1167.5,1151.1 1168.5,1151.1 1169.5,1151.3 1170.5,1151.4 1171.5,1151.3 1172.5,1151.1 1173.5,1151.2 1174.5,1151.6 1175.5,1152.0 1176.5,1152.1 1177.5,1152.1 1178.5,1152.1 1179.5,1152.1 1180.5,1151.8 1181.5,1151.5 1182.5,1151.6 1183.5,1151.8 1184.5,1152.0 1185.5,1152.1 1186.5,1152.6 1187.5,1153.1 1188.5,1153.2 1189.5,1152.9 1190.5,1152.4 1191.5,1151.9 1192.5,1151.5 1193.5,1151.5 1194.5,1151.6 1195.5,1151.8 1196.5,1151.9 1197.5,1151.8 1198.5,1151.6 1199.5,1151.7 1200.5,1152.1 1201.5,1152.4 1202.5,1152.4 1203.5,1152.2 1204.5,1152.2 1205.5,1152.2 1206.5,1151.9 1207.5,1151.3 1208.5,1150.7 1209.5,1150.6 1210.5,1150.8 1211.5,1151.1 1212.5,1151.3 1213.5,1151.5 1214.5,1151.5 1215.5,1151.4 1216.5,1151.6 1217.5,1152.0 1218.5,1152.5 1219.5,1152.7 1220.5,1152.7 1221.5,1152.7 1222.5,1152.8 1223.5,1152.6 1224.5,1152.1 1225.5,1151.9 1226.5,1152.1 1227.5,1152.6 1228.5,1152.9 1229.5,1152.9 1230.5,1152.7 1231.5,1152.6 1232.5,1152.7 1233.5,1152.7 1234.5,1152.4 1235.5,1152.2 1236.5,1152.2 1237.5,1152.3 1238.5,1152.2 1239.5,1152.2 1240.5,1152.2 1241.5,1152.0 1242.5,1151.8 1243.5,1151.5 1244.5,1151.2 1245.5,1151.0 1246.5,1151.2 1247.5,1151.5 1248.5,1151.7 1249.5,1151.8 1250.5,1151.7 1251.5,1151.6 1252.5,1151.8 1253.5,1152.4 1254.5,1153.0 1255.5,1153.4 1256.5,1153.6 1257.5,1153.9 1258.5,1154.3 1259.5,1154.5 1260.5,1153.9 1261.5,1153.0 1262.5,1152.2 1263.5,1151.9 1264.5,1151.9 1265.5,1152.1 1266.5,1152.1 1267.5,1151.9 1268.5,1151.6 1269.5,1151.2 1270.5,1151.3 1271.5,1151.8 1272.5,1152.4 1273.5,1152.5 1274.5,1152.4 1275.5,1152.3 1276.5,1152.6 1277.5,1153.0 1278.5,1153.0 1279.5,1152.5 1280.5,1152.1 1281.5,1152.1 1282.5,1152.2 1283.5,1152.3 1284.5,1152.3 1285.5,1152.4 1286.5,1152.8 1287.5,1153.5 1288.5,1153.9 1289.5,1153.8 1290.5,1153.5 1291.5,1153.0 1292.5,1152.3 1293.5,1151.6 1294.5,1151.3 1295.5,1151.9 1296.5,1152.9 1297.5,1153.8 1298.5,1154.1 1299.5,1153.9 1300.5,1153.3 1301.5,1152.8 1302.5,1152.5 1303.5,1152.6 1304.5,1152.8 1305.5,1153.1 1306.5,1153.1 1307.5,1152.9 1308.5,1152.8 1309.5,1152.9 1310.5,1153.2 1311.5,1153.3 1312.5,1153.6 1313.5,1153.9 1314.5,1154.2 1315.5,1154.0 1316.5,1153.5 1317.5,1152.9 1318.5,1152.7 1319.5,1152.9 1320.5,1153.2 1321.5,1153.6 1322.5,1153.7 1323.5,1153.7 1324.5,1153.5 1325.5,1153.3 1326.5,1153.1 1327.5,1153.0 1328.5,1153.2 1329.5,1153.4 1330.5,1153.3 1331.5,1153.0 1332.5,1152.8 1333.5,1152.6 1334.5,1152.5 1335.5,1152.3 1336.5,1152.2 1337.5,1152.4 1338.5,1152.7 1339.5,1152.8 1340.5,1152.8 1341.5,1152.8 1342.5,1153.0 1343.5,1153.0 1344.5,1153.0 1345.5,1153.3 1346.5,1153.9 1347.5,1154.5 1348.5,1154.5 1349.5,1154.0 1350.5,1153.1 1351.5,1152.4 1352.5,1152.2 1353.5,1152.2 1354.5,1152.5 1355.5,1153.0 1356.5,1153.7 1357.5,1154.4 1358.5,1154.6 1359.5,1154.1 1360.5,1153.3 1361.5,1152.9 1362.5,1153.2 1363.5,1153.7 1364.5,1154.0 1365.5,1154.1 1366.5,1154.2 1367.5,1154.0 1368.5,1153.4 1369.5,1152.6 1370.5,1152.0 1371.5,1152.0 1372.5,1152.3 1373.5,1152.8 1374.5,1153.0 1375.5,1153.1 1376.5,1153.4 1377.5,1154.1 1378.5,1154.7 1379.5,1155.1 1380.5,1155.2 1381.5,1155.4 1382.5,1155.7 1383.5,1155.5 1384.5,1155.0 1385.5,1154.6 1386.5,1154.4 1387.5,1154.3 1388.5,1154.1 1389.5,1153.8 1390.5,1153.4 1391.5,1152.8 1392.5,1152.7 1393.5,1153.4 1394.5,1154.6 1395.5,1155.7 1396.5,1155.9 1397.5,1155.1 1398.5,1153.7 1399.5,1152.3 1400.5,1151.7 1401.5,1151.4 1402.5,1150.7 1403.5,1149.9 1404.5,1149.6 1405.5,1149.7 1406.5,1149.9 1407.5,1149.8 1408.5,1149.4 1409.5,1149.0 1410.5,1148.6 1411.5,1147.9 1412.5,1146.8 1413.5,1145.0 1414.5,1142.4 1415.5,1138.9 1416.5,1134.1 1417.5,1127.5 1418.5,1118.6 1419.5,1106.9 1420.5,1092.3 1421.5,1074.4 1422.5,1053.1 1423.5,1028.6 1424.5,1001.4 1425.5,972.7 1426.5,943.9 1427.5,916.9 1428.5,893.9 1429.5,877.3 1430.5,869.2 1431.5,870.5 1432.5,881.4 1433.5,900.1 1434.5,923.8 1435.5,950.6 1436.5,978.4 1437.5,1005.7 1438.5,1031.2 1439.5,1054.2 1440.5,1074.2 1441.5,1091.1 1442.5,1105.0 1443.5,1116.3 1444.5,1125.2 1445.5,1131.8 1446.5,1136.3 1447.5,1139.4 1448.5,1142.1 1449.5,1144.4 1450.5,1146.3 1451.5,1147.7 1452.5,1148.4 1453.5,1148.4 1454.5,1148.0 1455.5,1147.5 1456.5,1147.2 1457.5,1146.9 1458.5,1146.7 1459.5,1146.6 1460.5,1146.5 1461.5,1146.3 1462.5,1145.8 1463.5,1145.1 1464.5,1144.0 1465.5,1142.9 1466.5,1141.7 1467.5,1140.6 1468.5,1139.6 1469.5,1138.7 1470.5,1137.6 1471.5,1136.5 1472.5,1135.4 1473.5,1134.5 1474.5,1133.9 1475.5,1133.9 1476.5,1134.1 1477.5,1134.2 1478.5,1134.0 1479.5,1133.5 1480.5,1133.0 1481.5,1132.5 1482.5,1131.7 1483.5,1130.8 1484.5,1130.1 1485.5,1129.6 1486.5,1129.0 1487.5,1127.7 1488.5,1126.1 1489.5,1124.7 1490.5,1123.6 1491.5,1123.1 1492.5,1123.1 1493.5,1123.2 1494.5,1122.9 1495.5,1122.2 1496.5,1121.2 1497.5,1120.3 1498.5,1119.4 1499.5,1118.7 1500.5,1118.2 1501.5,1118.0 1502.5,1117.7 1503.5,1116.9 1504.5,1115.4 1505.5,1113.5 1506.5,1111.9 1507.5,1110.9 1508.5,1110.3 1509.5,1109.7 1510.5,1108.9 1511.5,1108.3 1512.5,1107.9 1513.5,1107.6 1514.5,1107.2 1515.5,1106.6 1516.5,1105.9 1517.5,1105.2 1518.5,1104.7 1519.5,1104.5 1520.5,1104.3 1521.5,1104.0 1522.5,1103.4 1523.5,1102.6 1524.5,1101.9 1525.5,1101.5 1526.5,1101.2 1527.5,1100.9 1528.5,1100.5 1529.5,1099.9 1530.5,1099.5 1531.5,1099.5 1532.5,1099.9 1533.5,1100.1 1534.5,1099.9 1535.5,1099.6 1536.5,1099.6 1537.5,1100.2 1538.5,1101.6 1539.5,1103.1 1540.5,1104.2 1541.5,1104.8 1542.5,1105.4 1543.5,1106.1 1544.5,1106.8 1545.5,1107.5 1546.5,1108.2 1547.5,1109.0 1548.5,1110.0 1549.5,1111.3 1550.5,1112.4 1551.5,1112.9 1552.5,1112.9 1553.5,1112.6 1554.5,1112.2 1555.5,1111.7 1556.5,1111.1 1557.5,1110.7 1558.5,1110.8 1559.5,1111.5 1560.5,1112.5 1561.5,1113.4 1562.5,1113.9 1563.5,1114.3 1564.5,1114.9 1565.5,1115.5 1566.5,1115.9 1567.5,1116.2 1568.5,1116.6 1569.5,1117.5 1570.5,1118.5 1571.5,1119.5 1572.5,1119.9 1573.5,1119.6 1574.5,1118.4 1575.5,1117.2 1576.5,1116.7 1577.5,1116.5 1578.5,1116.4 1579.5,1116.4 1580.5,1116.7 1581.5,1116.6 1582.5,1116.0 1583.5,1115.5 1584.5,1115.5 1585.5,1115.9 1586.5,1116.1 1587.5,1116.1 1588.5,1115.9 1589.5,1115.8 1590.5,1115.8 1591.5,1115.7 1592.5,1115.6 1593.5,1115.6 1594.5,1115.5 1595.5,1115.2 1596.5,1114.7 1597.5,1114.2 1598.5,1114.1 1599.5,1114.4 1600.5,1115.1 1601.5,1115.6 1602.5,1115.8 1603.5,1115.8 1604.5,1115.7 1605.5,1115.7 1606.5,1115.5 1607.5,1115.0 1608.5,1114.4 1609.5,1114.2 1610.5,1114.3 1611.5,1114.5 1612.5,1114.6 1613.5,1114.7 1614.5,1114.9 1615.5,1115.1 1616.5,1115.0 1617.5,1114.7 1618.5,1114.7 1619.5,1115.0 1620.5,1115.3 1621.5,1115.5 1622.5,1115.8 1623.5,1116.1 1624.5,1116.2 1625.5,1116.3 1626.5,1116.5 1627.5,1116.8 1628.5,1116.9 1629.5,1116.5 1630.5,1115.8 1631.5,1115.4 1632.5,1115.2 1633.5,1115.2 1634.5,1115.4 1635.5,1115.5 1636.5,1115.4 1637.5,1115.3 1638.5,1115.3 1639.5,1115.5 1640.5,1115.5 1641.5,1115.2 1642.5,1114.8 1643.5,1114.8 1644.5,1115.1 1645.5,1115.5 1646.5,1115.5 1647.5,1115.2 1648.5,1115.0 1649.5,1114.8 1650.5,1114.7 1651.5,1114.7 1652.5,1114.8 1653.5,1114.9 1654.5,1114.8 1655.5,1114.7 1656.5,1114.8 1657.5,1115.2 1658.5,1115.5 1659.5,1115.8 1660.5,1116.2 1661.5,1116.6 1662.5,1116.9 1663.5,1117.0 1664.5,1117.0 1665.5,1116.9 1666.5,1116.7 1667.5,1116.1 1668.5,1115.3 1669.5,1114.7 1670.5,1114.7 1671.5,1114.9 1672.5,1115.0 1673.5,1115.0 1674.5,1115.1 1675.5,1115.6 1676.5,1116.0 1677.5,1115.9 1678.5,1115.3 1679.5,1114.9 1680.5,1115.0 1681.5,1115.5 1682.5,1116.1 1683.5,1116.5 1684.5,1116.3 1685.5,1115.7 1686.5,1115.1 1687.5,1115.0 1688.5,1115.4 1689.5,1116.0 1690.5,1116.2 1691.5,1116.1 1692.5,1115.8 1693.5,1115.7 1694.5,1115.9 1695.5,1116.2 1696.5,1116.3 1697.5,1116.2 1698.5,1116.2 1699.5,1116.3 1700.5,1116.3 1701.5,1116.6 1702.5,1117.3 1703.5,1118.3 1704.5,1119.0 1705.5,1119.1 1706.5,1118.7 1707.5,1118.1 1708.5,1117.6 1709.5,1117.5 1710.5,1117.5 1711.5,1117.7 1712.5,1118.1 1713.5,1118.5 1714.5,1118.5 1715.5,1118.0 1716.5,1117.3 1717.5,1116.8 1718.5,1116.8 1719.5,1117.1 1720.5,1117.1 1721.5,1116.6 1722.5,1115.9 1723.5,1115.5 1724.5,1115.5 1725.5,1115.8 1726.5,1116.3 1727.5,1116.8 1728.5,1117.1 1729.5,1117.1 1730.5,1116.8 1731.5,1116.1 1732.5,1115.4 1733.5,1115.2 1734.5,1115.5 1735.5,1116.0 1736.5,1116.3 1737.5,1116.5 1738.5,1116.5 1739.5,1116.6 1740.5,1116.8 1741.5,1117.0 1742.5,1117.2 1743.5,1117.1 1744.5,1116.9 1745.5,1116.8 1746.5,1117.0 1747.5,1117.6 1748.5,1118.3 1749.5,1118.6 1750.5,1118.6 1751.5,1118.3 1752.5,1118.2 1753.5,1118.4 1754.5,1118.5 1755.5,1118.5 1756.5,1118.4 1757.5,1118.2 1758.5,1118.2 1759.5,1118.1 1760.5,1117.7 1761.5,1116.9 1762.5,1116.2 1763.5,1116.1 1764.5,1116.6 1765.5,1117.4 1766.5,1118.0 1767.5,1118.4 1768.5,1118.7 1769.5,1119.0 1770.5,1118.9 1771.5,1118.3 1772.5,1117.6 1773.5,1117.3 1774.5,1117.3 1775.5,1117.5 1776.5,1117.7 1777.5,1117.7 1778.5,1117.4 1779.5,1117.0 1780.5,1116.7 1781.5,1116.7 1782.5,1117.0 1783.5,1117.7 1784.5,1118.4 1785.5,1118.7 1786.5,1118.2 1787.5,1117.2 1788.5,1116.6 1789.5,1116.8 1790.5,1117.6 1791.5,1118.5 1792.5,1119.1 1793.5,1119.0 1794.5,1118.6 1795.5,1118.0 1796.5,1117.4 1797.5,1117.0 1798.5,1116.8 1799.5,1116.5 1800.5,1116.4 1801.5,1116.7 1802.5,1117.6 1803.5,1118.6 1804.5,1119.1 1805.5,1119.0 1806.5,1118.5 1807.5,1118.0 1808.5,1117.8 1809.5,1117.8 1810.5,1118.0 1811.5,1117.9 1812.5,1117.4 1813.5,1116.8 1814.5,1116.6 1815.5,1117.0 1816.5,1117.7 1817.5,1118.5 1818.5,1119.0 1819.5,1119.1 1820.5,1119.1 1821.5,1119.1 1822.5,1119.1 1823.5,1118.6 1824.5,1117.7 1825.5,1116.8 1826.5,1116.5 1827.5,1116.7 1828.5,1117.2 1829.5,1117.9 1830.5,1118.5 1831.5,1118.8 1832.5,1118.8 1833.5,1118.8 1834.5,1118.7 1835.5,1118.5 1836.5,1118.1 1837.5,1117.9 1838.5,1118.3 1839.5,1118.9 1840.5,1119.3 1841.5,1119.2 1842.5,1119.2 1843.5,1119.4 1844.5,1119.7 1845.5,1119.8 1846.5,1119.8 1847.5,1119.6 1848.5,1119.4 1849.5,1119.1 1850.5,1118.6 1851.5,1117.9 1852.5,1117.6 1853.5,1117.7 1854.5,1117.8 1855.5,1117.7 1856.5,1117.7 1857.5,1117.9 1858.5,1118.2 1859.5,1118.5 1860.5,1119.0 1861.5,1119.6 1862.5,1120.1 1863.5,1120.4 1864.5,1120.1 1865.5,1119.4 1866.5,1118.8 1867.5,1118.8 1868.5,1119.3 1869.5,1119.8 1870.5,1119.8 1871.5,1119.3 1872.5,1118.8 1873.5,1118.3 1874.5,1118.0 1875.5,1118.3 1876.5,1118.9 1877.5,1119.7 1878.5,1120.3 1879.5,1120.7 1880.5,1121.2 1881.5,1121.8 1882.5,1122.0 1883.5,1121.8 1884.5,1121.2 1885.5,1120.4 1886.5,1119.8 1887.5,1119.6 1888.5,1119.8 1889.5,1120.2 1890.5,1120.2 1891.5,1119.9 1892.5,1119.5 1893.5,1119.4 1894.5,1119.4 1895.5,1119.5 1896.5,1119.2 1897.5,1118.7 1898.5,1118.3 1899.5,1118.2 1900.5,1118.3 1901.5,1118.7 1902.5,1119.4 1903.5,1120.5 1904.5,1121.8 1905.5,1122.7 1906.5,1122.8 1907.5,1121.9 1908.5,1120.5 1909.5,1119.3 1910.5,1118.9 1911.5,1119.3 1912.5,1120.2 1913.5,1121.1 1914.5,1121.5 1915.5,1121.5 1916.5,1121.2 1917.5,1120.9 1918.5,1120.9 1919.5,1121.0 1920.5,1120.9 1921.5,1120.7 1922.5,1120.6 1923.5,1120.7 1924.5,1120.9 1925.5,1120.8 1926.5,1120.3 1927.5,1119.5 1928.5,1118.9 1929.5,1118.6 1930.5,1118.7 1931.5,1119.3 1932.5,1119.9 1933.5,1120.4 1934.5,1120.5 1935.5,1120.1 1936.5,1119.4 1937.5,1118.7 1938.5,1118.0 1939.5,1117.9 1940.5,1118.3 1941.5,1119.0 1942.5,1119.6 1943.5,1120.0 1944.5,1120.3 1945.5,1120.8 1946.5,1121.3 1947.5,1121.5 1948.5,1121.6 1949.5,1121.6 1950.5,1121.8 1951.5,1121.8 1952.5,1121.3 1953.5,1120.7 1954.5,1120.4 1955.5,1120.6 1956.5,1121.2 1957.5,1121.8 1958.5,1122.2 1959.5,1122.3 1960.5,1122.0 1961.5,1121.5 1962.5,1121.4 1963.5,1121.6 1964.5,1122.0 1965.5,1122.3 1966.5,1122.3 1967.5,1122.0 1968.5,1121.5 1969.5,1121.1 1970.5,1121.1 1971.5,1121.6 1972.5,1122.3 1973.5,1122.9 1974.5,1123.2 1975.5,1123.3 1976.5,1123.6 1977.5,1123.8 1978.5,1123.6 1979.5,1123.1 1980.5,1122.4 1981.5,1122.0 1982.5,1122.1 1983.5,1122.4 1984.5,1122.6 1985.5,1122.5 1986.5,1122.3 1987.5,1122.0 1988.5,1121.8 1989.5,1121.9 1990.5,1122.2 1991.5,1122.3 1992.5,1122.3 1993.5,1122.4 1994.5,1122.6 1995.5,1123.3 1996.5,1123.9 1997.5,1124.1 1998.5,1123.6 1999.5,1123.1 2000.5,1122.9 2001.5,1123.2 2002.5,1123.4 2003.5,1123.3 2004.5,1122.7 2005.5,1122.3 2006.5,1122.5 2007.5,1123.1 2008.5,1123.5 2009.5,1123.7 2010.5,1123.6 2011.5,1123.7 2012.5,1123.9 2013.5,1124.1 2014.5,1124.1 2015.5,1123.9 2016.5,1123.7 2017.5,1123.3 2018.5,1122.8 2019.5,1122.0 2020.5,1121.4 2021.5,1121.3 2022.5,1121.6 2023.5,1122.3 2024.5,1123.0 2025.5,1123.7 2026.5,1124.1 2027.5,1124.2 2028.5,1124.1 2029.5,1124.1 2030.5,1124.2 2031.5,1124.5 2032.5,1124.4 2033.5,1124.0 2034.5,1123.4 2035.5,1122.9 2036.5,1122.8 2037.5,1123.1 2038.5,1123.6 2039.5,1123.9 2040.5,1124.0 2041.5,1123.8 2042.5,1123.7 2043.5,1123.9 2044.5,1124.4 2045.5,1124.7 2046.5,1124.7 2047.5,1124.5 2048.5,1124.3 2049.5,1123.9 2050.5,1123.3 2051.5,1122.8 2052.5,1122.7 2053.5,1123.0 2054.5,1123.3 2055.5,1123.2 2056.5,1122.6 2057.5,1122.1 2058.5,1122.3 2059.5,1123.2 2060.5,1124.3 2061.5,1125.0 2062.5,1125.2 2063.5,1125.3 2064.5,1125.2 2065.5,1125.0 2066.5,1124.7 2067.5,1124.5 2068.5,1124.4 2069.5,1124.3 2070.5,1124.4 2071.5,1124.6 2072.5,1124.8 2073.5,1124.8 2074.5,1124.5 2075.5,1124.0 2076.5,1123.4 2077.5,1122.9 2078.5,1122.7 2079.5,1122.8 2080.5,1123.1 2081.5,1123.5 2082.5,1123.9 2083.5,1124.1 2084.5,1124.4 2085.5,1124.5 2086.5,1124.1 2087.5,1123.3 2088.5,1122.7 2089.5,1122.9 2090.5,1123.6 2091.5,1124.3 2092.5,1124.8 2093.5,1125.2 2094.5,1125.4 2095.5,1125.5 2096.5,1125.7 2097.5,1125.8 2098.5,1125.4 2099.5,1124.8 2100.5,1124.4 2101.5,1124.1 2102.5,1124.1 2103.5,1124.5 2104.5,1125.3 2105.5,1125.8 2106.5,1125.6 2107.5,1124.6 2108.5,1123.6 2109.5,1123.5 2110.5,1124.5 2111.5,1125.9 2112.5,1126.4 2113.5,1125.8 2114.5,1124.9 2115.5,1124.5 2116.5,1124.5 2117.5,1124.7 2118.5,1124.9 2119.5,1125.1 2120.5,1125.2 2121.5,1125.2 2122.5,1125.4 2123.5,1125.6 2124.5,1125.5 2125.5,1125.0 2126.5,1124.4 2127.5,1124.0 2128.5,1124.0 2129.5,1124.4 2130.5,1124.9 2131.5,1125.1 2132.5,1125.0 2133.5,1124.9 2134.5,1124.8 2135.5,1124.8 2136.5,1124.9 2137.5,1124.7 2138.5,1124.2 2139.5,1123.9 2140.5,1124.1 2141.5,1124.8 2142.5,1125.9 2143.5,1126.6 2144.5,1126.9 2145.5,1127.2 2146.5,1127.6 2147.5,1127.6 2148.5,1127.1 2149.5,1126.1 2150.5,1125.0 2151.5,1124.2 2152.5,1123.8 2153.5,1124.0 2154.5,1124.3 2155.5,1124.5 2156.5,1124.3 2157.5,1124.3 2158.5,1124.5 2159.5,1125.1 2160.5,1125.7 2161.5,1126.1 2162.5,1126.1 2163.5,1126.0 2164.5,1126.0 2165.5,1126.1 2166.5,1126.1 2167.5,1126.0 2168.5,1126.0 2169.5,1126.0 2170.5,1125.9 2171.5,1125.5 2172.5,1124.8 2173.5,1124.4 2174.5,1124.3 2175.5,1124.4 2176.5,1124.6 2177.5,1124.9 2178.5,1125.3 2179.5,1125.4 2180.5,1125.0 2181.5,1124.4 2182.5,1124.2 2183.5,1124.7 2184.5,1125.6 2185.5,1126.3 2186.5,1126.6 2187.5,1126.7 2188.5,1126.5 2189.5,1126.4 2190.5,1126.3 2191.5,1126.2 2192.5,1126.2 2193.5,1126.2 2194.5,1126.3 2195.5,1126.3 2196.5,1126.4 2197.5,1126.6 2198.5,1126.8 2199.5,1126.8 2200.5,1126.6 2201.5,1126.2 2202.5,1125.7 2203.5,1125.4 2204.5,1125.3 2205.5,1125.3 2206.5,1125.3 2207.5,1125.4 2208.5,1125.6 2209.5,1125.6 2210.5,1125.6 2211.5,1125.9 2212.5,1126.4 2213.5,1126.7 2214.5,1126.7 2215.5,1126.6 2216.5,1126.5 2217.5,1126.5 2218.5,1126.5 2219.5,1126.3 2220.5,1126.2 2221.5,1126.3 2222.5,1126.8 2223.5,1127.4 2224.5,1127.7 2225.5,1127.9 2226.5,1128.3 2227.5,1128.6 2228.5,1128.3 2229.5,1127.7 2230.5,1127.2 2231.5,1126.7 2232.5,1126.3 2233.5,1126.0 2234.5,1126.0 2235.5,1125.9 2236.5,1125.9 2237.5,1126.6 2238.5,1127.6 2239.5,1128.4 2240.5,1128.3 2241.5,1127.8 2242.5,1127.4 2243.5,1127.4 2244.5,1128.1 2245.5,1128.9 2246.5,1129.4 2247.5,1129.3 2248.5,1128.8 2249.5,1128.3 2250.5,1128.0 2251.5,1128.0 2252.5,1128.0 2253.5,1127.8 2254.5,1127.6 2255.5,1127.8 2256.5,1128.5 2257.5,1129.4 2258.5,1130.2 2259.5,1130.4 2260.5,1129.9 2261.5,1128.8 2262.5,1127.7 2263.5,1127.0 2264.5,1126.8 2265.5,1126.9 2266.5,1127.2 2267.5,1127.5 2268.5,1127.8 2269.5,1128.0 2270.5,1128.1 2271.5,1128.0 2272.5,1128.0 2273.5,1128.0 2274.5,1128.2 2275.5,1128.4 2276.5,1128.6 2277.5,1128.9 2278.5,1128.9 2279.5,1128.8 2280.5,1128.6 2281.5,1128.5 2282.5,1128.0 2283.5,1127.2 2284.5,1126.5 2285.5,1126.2 2286.5,1126.3 2287.5,1126.6 2288.5,1126.9 2289.5,1127.2 2290.5,1127.0 2291.5,1126.4 2292.5,1126.3 2293.5,1126.7 2294.5,1127.6 2295.5,1128.4 2296.5,1128.8 2297.5,1128.8 2298.5,1128.7 2299.5,1128.5 2300.5,1128.4 2301.5,1128.3 2302.5,1128.4 2303.5,1128.8 2304.5,1129.1 2305.5,1128.9 2306.5,1128.3 2307.5,1127.9 2308.5,1127.9 2309.5,1128.1 2310.5,1128.2 2311.5,1128.1 2312.5,1128.2 2313.5,1128.4 2314.5,1128.7 2315.5,1128.9 2316.5,1129.1 2317.5,1129.3 2318.5,1129.3 2319.5,1129.0 2320.5,1128.5 2321.5,1128.1 2322.5,1128.0 2323.5,1128.0 2324.5,1128.4 2325.5,1129.0 2326.5,1129.4 2327.5,1129.2 2328.5,1128.7 2329.5,1128.3 2330.5,1128.3 2331.5,1128.9 2332.5,1129.6 2333.5,1130.0 2334.5,1129.8 2335.5,1129.2 2336.5,1128.7 2337.5,1128.2 2338.5,1128.0 2339.5,1128.2 2340.5,1128.8 2341.5,1129.6 2342.5,1130.1 2343.5,1130.3 2344.5,1130.1 2345.5,1129.7 2346.5,1129.1 2347.5,1128.7 2348.5,1128.8 2349.5,1129.4 2350.5,1130.1 2351.5,1130.6 2352.5,1130.8 2353.5,1130.8 2354.5,1130.7 2355.5,1130.4 2356.5,1130.1 2357.5,1129.9 2358.5,1129.8 2359.5,1129.5 2360.5,1129.1 2361.5,1128.7 2362.5,1128.5 2363.5,1128.7 2364.5,1129.2 2365.5,1129.6 2366.5,1129.6 2367.5,1129.3 2368.5,1128.8 2369.5,1128.5"/>
<polyline fill="none" stroke="#000000" stroke-width="6.6" stroke-linejoin="round" stroke-linecap="round" points="216.5,1429.1 217.5,1428.3 218.5,1427.6 219.5,1427.6 220.5,1428.6 221.5,1429.8 222.5,1430.5 223.5,1430.8 224.5,1431.0 225.5,1431.0 226.5,1431.1 227.5,1431.3 228.5,1431.4 229.5,1431.4 230.5,1430.9 231.5,1430.1 232.5,1429.3 233.5,1428.8 234.5,1428.7 235.5,1429.2 236.5,1429.8 237.5,1430.2 238.5,1430.2 239.5,1430.1 240.5,1430.0 241.5,1429.8 242.5,1429.4 243.5,1429.1 244.5,1429.1 245.5,1429.3 246.5,1429.3 247.5,1429.1 248.5,1428.8 249.5,1428.8 250.5,1429.1 251.5,1429.5 252.5,1429.8 253.5,1429.9 254.5,1430.0 255.5,1430.2 256.5,1430.4 257.5,1430.3 258.5,1429.9 259.5,1429.5 260.5,1429.3 261.5,1429.5 262.5,1430.1 263.5,1430.5 264.5,1430.5 265.5,1430.0 266.5,1429.6 267.5,1429.4 268.5,1429.6 269.5,1429.7 270.5,1429.5 271.5,1429.1 272.5,1428.5 273.5,1428.0 274.5,1427.7 275.5,1427.7 276.5,1427.8 277.5,1428.2 278.5,1428.6 279.5,1428.9 280.5,1428.8 281.5,1428.6 282.5,1428.4 283.5,1428.4 284.5,1428.7 285.5,1429.1 286.5,1429.2 287.5,1428.9 288.5,1428.5 289.5,1428.1 290.5,1428.2 291.5,1428.4 292.5,1428.7 293.5,1428.9 294.5,1429.0 295.5,1429.3 296.5,1429.4 297.5,1428.9 298.5,1428.0 299.5,1427.0 300.5,1426.5 301.5,1426.6 302.5,1427.1 303.5,1427.8 304.5,1428.3 305.5,1428.1 306.5,1427.4 307.5,1426.8 308.5,1426.6 309.5,1426.9 310.5,1427.4 311.5,1427.8 312.5,1428.1 313.5,1428.3 314.5,1428.6 315.5,1428.8 316.5,1428.8 317.5,1428.8 318.5,1429.0 319.5,1429.3 320.5,1429.5 321.5,1429.4 322.5,1428.9 323.5,1428.1 324.5,1427.4 325.5,1427.1 326.5,1427.0 327.5,1427.0 328.5,1427.1 329.5,1427.3 330.5,1427.4 331.5,1427.7 332.5,1427.9 333.5,1428.2 334.5,1428.3 335.5,1428.4 336.5,1428.6 337.5,1428.7 338.5,1428.6 339.5,1428.2 340.5,1427.6 341.5,1427.0 342.5,1426.4 343.5,1425.6 344.5,1424.3 345.5,1422.6 346.5,1420.2 347.5,1416.6 348.5,1411.4 349.5,1404.6 350.5,1396.1 351.5,1385.3 352.5,1371.6 353.5,1355.2 354.5,1336.4 355.5,1316.0 356.5,1294.3 357.5,1272.2 358.5,1250.4 359.5,1230.4 360.5,1213.7 361.5,1201.9 362.5,1196.0 363.5,1196.9 364.5,1204.5 365.5,1217.6 366.5,1234.7 367.5,1254.8 368.5,1276.4 369.5,1298.2 370.5,1319.2 371.5,1338.4 372.5,1354.9 373.5,1368.8 374.5,1380.3 375.5,1389.8 376.5,1397.9 377.5,1404.4 378.5,1409.1 379.5,1412.2 380.5,1414.2 381.5,1415.6 382.5,1416.8 383.5,1417.9 384.5,1418.9 385.5,1420.0 386.5,1421.2 387.5,1422.0 388.5,1422.1 389.5,1421.5 390.5,1420.9 391.5,1420.7 392.5,1420.6 393.5,1420.3 394.5,1419.7 395.5,1419.2 396.5,1419.4 397.5,1420.1 398.5,1420.7 399.5,1420.4 400.5,1419.3 401.5,1417.9 402.5,1416.6 403.5,1415.8 404.5,1415.5 405.5,1415.4 406.5,1415.3 407.5,1415.0 408.5,1414.6 409.5,1414.1 410.5,1413.2 411.5,1411.9 412.5,1410.8 413.5,1410.4 414.5,1410.2 415.5,1410.0 416.5,1409.3 417.5,1408.1 418.5,1406.3 419.5,1404.5 420.5,1403.3 421.5,1402.9 422.5,1402.8 423.5,1402.7 424.5,1402.6 425.5,1402.4 426.5,1402.2 427.5,1401.9 428.5,1401.3 429.5,1400.4 430.5,1399.7 431.5,1399.2 432.5,1398.9 433.5,1398.2 434.5,1397.1 435.5,1396.1 436.5,1395.6 437.5,1395.4 438.5,1395.4 439.5,1395.3 440.5,1395.0 441.5,1394.4 442.5,1393.5 443.5,1392.8 444.5,1392.5 445.5,1392.5 446.5,1392.4 447.5,1392.1 448.5,1391.7 449.5,1391.3 450.5,1390.8 451.5,1390.1 452.5,1389.3 453.5,1388.4 454.5,1387.6 455.5,1387.1 456.5,1386.8 457.5,1386.9 458.5,1387.2 459.5,1387.4 460.5,1387.5 461.5,1387.5 462.5,1387.6 463.5,1387.7 464.5,1387.7 465.5,1387.6 466.5,1387.4 467.5,1387.3 468.5,1387.7 469.5,1388.2 470.5,1388.7 471.5,1389.1 472.5,1389.6 473.5,1389.9 474.5,1389.7 475.5,1389.2 476.5,1388.7 477.5,1388.5 478.5,1388.5 479.5,1388.7 480.5,1388.6 481.5,1388.4 482.5,1388.5 483.5,1388.8 484.5,1389.2 485.5,1389.4 486.5,1389.6 487.5,1389.9 488.5,1390.3 489.5,1391.0 490.5,1391.8 491.5,1392.5 492.5,1392.9 493.5,1393.2 494.5,1393.6 495.5,1393.7 496.5,1393.5 497.5,1393.1 498.5,1392.7 499.5,1392.7 500.5,1393.1 501.5,1393.6 502.5,1393.9 503.5,1393.8 504.5,1393.6 505.5,1393.7 506.5,1394.2 507.5,1394.6 508.5,1394.8 509.5,1394.6 510.5,1394.3 511.5,1394.0 512.5,1394.0 513.5,1394.4 514.5,1394.8 515.5,1394.7 516.5,1394.0 517.5,1393.1 518.5,1392.6 519.5,1392.5 520.5,1392.7 521.5,1392.9 522.5,1393.1 523.5,1393.4 524.5,1393.2 525.5,1392.5 526.5,1391.7 527.5,1391.4 528.5,1391.8 529.5,1392.4 530.5,1392.9 531.5,1393.4 532.5,1393.8 533.5,1393.9 534.5,1393.6 535.5,1392.9 536.5,1392.3 537.5,1392.2 538.5,1392.4 539.5,1392.7 540.5,1392.7 541.5,1392.5 542.5,1392.3 543.5,1392.3 544.5,1392.6 545.5,1392.9 546.5,1393.0 547.5,1392.9 548.5,1392.9 549.5,1392.8 550.5,1392.9 551.5,1393.0 552.5,1393.0 553.5,1392.8 554.5,1392.6 555.5,1392.7 556.5,1393.3 557.5,1394.3 558.5,1394.9 559.5,1395.0 560.5,1395.0 561.5,1394.7 562.5,1394.0 563.5,1393.0 564.5,1392.3 565.5,1392.5 566.5,1393.3 567.5,1394.2 568.5,1394.6 569.5,1394.6 570.5,1394.6 571.5,1394.8 572.5,1394.8 573.5,1394.4 574.5,1393.9 575.5,1393.5 576.5,1393.2 577.5,1393.0 578.5,1392.8 579.5,1392.7 580.5,1392.9 581.5,1393.5 582.5,1394.2 583.5,1394.7 584.5,1394.9 585.5,1395.0 586.5,1395.0 587.5,1395.0 588.5,1394.9 589.5,1394.6 590.5,1394.2 591.5,1393.6 592.5,1393.0 593.5,1392.7 594.5,1392.9 595.5,1393.3 596.5,1393.9 597.5,1394.4 598.5,1394.7 599.5,1394.8 600.5,1394.9 601.5,1395.3 602.5,1395.6 603.5,1395.5 604.5,1395.0 605.5,1394.6 606.5,1394.2 607.5,1394.0 608.5,1393.9 609.5,1393.7 610.5,1393.5 611.5,1393.2 612.5,1393.1 613.5,1393.3 614.5,1393.7 615.5,1393.9 616.5,1394.0 617.5,1394.1 618.5,1394.2 619.5,1394.2 620.5,1394.0 621.5,1393.6 622.5,1393.1 623.5,1392.6 624.5,1392.2 625.5,1392.0 626.5,1392.0 627.5,1392.4 628.5,1393.1 629.5,1393.8 630.5,1394.2 631.5,1394.5 632.5,1394.9 633.5,1395.2 634.5,1395.0 635.5,1394.5 636.5,1394.0 637.5,1394.0 638.5,1394.3 639.5,1394.5 640.5,1394.5 641.5,1394.0 642.5,1393.2 643.5,1392.4 644.5,1392.3 645.5,1392.7 646.5,1393.4 647.5,1394.0 648.5,1394.2 649.5,1394.3 650.5,1394.6 651.5,1395.4 652.5,1395.9 653.5,1395.9 654.5,1395.3 655.5,1394.6 656.5,1394.2 657.5,1394.1 658.5,1394.2 659.5,1394.3 660.5,1394.6 661.5,1395.1 662.5,1395.7 663.5,1395.9 664.5,1395.5 665.5,1394.8 666.5,1394.2 667.5,1393.9 668.5,1394.1 669.5,1394.4 670.5,1394.3 671.5,1394.1 672.5,1393.9 673.5,1393.8 674.5,1393.7 675.5,1393.8 676.5,1394.3 677.5,1394.9 678.5,1395.3 679.5,1395.1 680.5,1394.6 681.5,1394.1 682.5,1393.7 683.5,1393.3 684.5,1393.3 685.5,1393.7 686.5,1394.3 687.5,1394.9 688.5,1395.2 689.5,1395.4 690.5,1395.5 691.5,1395.6 692.5,1395.8 693.5,1396.1 694.5,1396.1 695.5,1395.8 696.5,1395.5 697.5,1395.5 698.5,1395.5 699.5,1395.3 700.5,1395.0 701.5,1394.8 702.5,1394.7 703.5,1394.8 704.5,1394.8 705.5,1394.6 706.5,1394.2 707.5,1393.9 708.5,1393.9 709.5,1394.1 710.5,1394.4 711.5,1394.9 712.5,1395.4 713.5,1396.0 714.5,1396.3 715.5,1396.3 716.5,1395.8 717.5,1395.2 718.5,1395.0 719.5,1395.2 720.5,1395.4 721.5,1395.5 722.5,1395.5 723.5,1395.5 724.5,1395.5 725.5,1395.7 726.5,1395.8 727.5,1395.7 728.5,1394.9 729.5,1394.1 730.5,1393.7 731.5,1393.7 732.5,1394.1 733.5,1394.7 734.5,1395.5 735.5,1396.2 736.5,1396.7 737.5,1397.1 738.5,1397.3 739.5,1397.5 740.5,1397.6 741.5,1397.4 742.5,1396.9 743.5,1396.3 744.5,1396.3 745.5,1396.7 746.5,1397.1 747.5,1397.2 748.5,1397.1 749.5,1396.8 750.5,1396.5 751.5,1396.3 752.5,1396.3 753.5,1396.2 754.5,1396.0 755.5,1395.7 756.5,1395.7 757.5,1395.9 758.5,1396.3 759.5,1396.7 760.5,1397.2 761.5,1397.5 762.5,1397.4 763.5,1397.0 764.5,1396.2 765.5,1395.4 766.5,1395.1 767.5,1395.2 768.5,1395.5 769.5,1395.5 770.5,1395.3 771.5,1395.2 772.5,1395.5 773.5,1396.1 774.5,1396.9 775.5,1397.3 776.5,1397.4 777.5,1397.2 778.5,1397.0 779.5,1397.0 780.5,1397.7 781.5,1398.7 782.5,1399.6 783.5,1399.8 784.5,1399.5 785.5,1398.5 786.5,1397.4 787.5,1396.6 788.5,1396.7 789.5,1397.3 790.5,1397.8 791.5,1397.9 792.5,1397.8 793.5,1397.6 794.5,1397.6 795.5,1397.7 796.5,1397.7 797.5,1397.4 798.5,1396.8 799.5,1396.5 800.5,1396.7 801.5,1397.2 802.5,1397.6 803.5,1397.6 804.5,1397.4 805.5,1397.3 806.5,1397.4 807.5,1397.5 808.5,1397.7 809.5,1397.8 810.5,1398.0 811.5,1398.3 812.5,1398.6 813.5,1398.6 814.5,1398.2 815.5,1397.5 816.5,1397.2 817.5,1397.5 818.5,1398.0 819.5,1398.3 820.5,1398.3 821.5,1398.1 822.5,1398.2 823.5,1398.9 824.5,1400.0 825.5,1400.8 826.5,1401.2 827.5,1401.5 828.5,1401.6 829.5,1401.6 830.5,1401.3 831.5,1400.6 832.5,1399.7 833.5,1398.8 834.5,1398.2 835.5,1397.7 836.5,1397.4 837.5,1397.7 838.5,1398.1 839.5,1398.3 840.5,1398.2 841.5,1397.6 842.5,1396.6 843.5,1395.4 844.5,1393.9 845.5,1392.0 846.5,1389.5 847.5,1386.1 848.5,1381.8 849.5,1376.7 850.5,1370.7 851.5,1364.0 852.5,1356.7 853.5,1349.8 854.5,1343.9 855.5,1339.8 856.5,1337.6 857.5,1337.3 858.5,1339.0 859.5,1342.5 860.5,1347.8 861.5,1354.6 862.5,1361.9 863.5,1368.9 864.5,1374.9 865.5,1379.9 866.5,1384.3 867.5,1388.1 868.5,1391.5 869.5,1394.0 870.5,1395.6 871.5,1396.5 872.5,1397.1 873.5,1397.6 874.5,1397.9 875.5,1398.0 876.5,1397.9 877.5,1397.5 878.5,1397.0 879.5,1396.5 880.5,1396.4 881.5,1396.6 882.5,1397.1 883.5,1397.7 884.5,1398.0 885.5,1398.0 886.5,1397.8 887.5,1397.2 888.5,1396.6 889.5,1396.0 890.5,1395.7 891.5,1395.4 892.5,1395.0 893.5,1394.7 894.5,1394.5 895.5,1394.2 896.5,1393.7 897.5,1393.4 898.5,1393.0 899.5,1392.8 900.5,1392.7 901.5,1393.1 902.5,1394.0 903.5,1395.0 904.5,1395.5 905.5,1395.4 906.5,1395.0 907.5,1394.3 908.5,1393.2 909.5,1392.0 910.5,1391.0 911.5,1390.6 912.5,1390.7 913.5,1391.0 914.5,1391.3 915.5,1391.7 916.5,1392.2 917.5,1392.4 918.5,1392.2 919.5,1391.7 920.5,1391.1 921.5,1390.5 922.5,1390.2 923.5,1390.2 924.5,1390.5 925.5,1390.6 926.5,1390.3 927.5,1389.6 928.5,1389.2 929.5,1389.1 930.5,1389.1 931.5,1388.9 932.5,1388.5 933.5,1388.0 934.5,1388.0 935.5,1388.2 936.5,1388.3 937.5,1387.9 938.5,1387.4 939.5,1387.5 940.5,1388.0 941.5,1388.4 942.5,1388.2 943.5,1387.6 944.5,1387.1 945.5,1387.1 946.5,1387.3 947.5,1387.6 948.5,1387.9 949.5,1388.1 950.5,1388.3 951.5,1388.4 952.5,1388.6 953.5,1388.9 954.5,1389.3 955.5,1389.6 956.5,1389.5 957.5,1389.0 958.5,1388.3 959.5,1387.6 960.5,1387.4 961.5,1387.9 962.5,1388.8 963.5,1389.6 964.5,1389.7 965.5,1389.2 966.5,1388.6 967.5,1388.3 968.5,1388.6 969.5,1389.1 970.5,1389.6 971.5,1389.7 972.5,1389.6 973.5,1389.3 974.5,1389.1 975.5,1388.9 976.5,1388.6 977.5,1388.3 978.5,1388.2 979.5,1388.5 980.5,1388.9 981.5,1389.2 982.5,1389.5 983.5,1390.2 984.5,1391.2 985.5,1392.0 986.5,1392.1 987.5,1391.8 988.5,1391.4 989.5,1390.8 990.5,1390.4 991.5,1390.3 992.5,1390.2 993.5,1390.1 994.5,1389.8 995.5,1390.0 996.5,1390.6 997.5,1391.3 998.5,1391.5 999.5,1391.4 1000.5,1391.0 1001.5,1390.7 1002.5,1390.4 1003.5,1390.4 1004.5,1390.6 1005.5,1390.9 1006.5,1391.3 1007.5,1391.4 1008.5,1391.0 1009.5,1390.3 1010.5,1389.5 1011.5,1389.0 1012.5,1388.6 1013.5,1388.5 1014.5,1388.5 1015.5,1388.7 1016.5,1388.8 1017.5,1389.2 1018.5,1389.9 1019.5,1390.3 1020.5,1390.4 1021.5,1390.5 1022.5,1390.8 1023.5,1391.1 1024.5,1391.0 1025.5,1390.4 1026.5,1389.7 1027.5,1389.4 1028.5,1389.8 1029.5,1390.3 1030.5,1390.7 1031.5,1391.1 1032.5,1391.1 1033.5,1390.7 1034.5,1389.9 1035.5,1389.1 1036.5,1388.9 1037.5,1389.4 1038.5,1390.0 1039.5,1390.2 1040.5,1390.0 1041.5,1389.8 1042.5,1390.0 1043.5,1390.3 1044.5,1390.5 1045.5,1390.4 1046.5,1390.4 1047.5,1390.6 1048.5,1390.8 1049.5,1390.6 1050.5,1390.2 1051.5,1390.0 1052.5,1390.2 1053.5,1390.5 1054.5,1391.0 1055.5,1391.3 1056.5,1391.5 1057.5,1391.4 1058.5,1391.1 1059.5,1390.7 1060.5,1390.2 1061.5,1389.8 1062.5,1389.5 1063.5,1389.3 1064.5,1389.5 1065.5,1389.8 1066.5,1390.1 1067.5,1390.5 1068.5,1390.8 1069.5,1391.1 1070.5,1391.0 1071.5,1390.5 1072.5,1389.8 1073.5,1389.5 1074.5,1389.8 1075.5,1390.4 1076.5,1391.1 1077.5,1391.6 1078.5,1391.6 1079.5,1391.3 1080.5,1390.7 1081.5,1390.0 1082.5,1389.4 1083.5,1389.1 1084.5,1389.1 1085.5,1389.1 1086.5,1389.3 1087.5,1389.5 1088.5,1390.2 1089.5,1391.1 1090.5,1392.2 1091.5,1392.7 1092.5,1392.4 1093.5,1391.7 1094.5,1391.4 1095.5,1391.5 1096.5,1391.7 1097.5,1391.4 1098.5,1391.0 1099.5,1390.9 1100.5,1391.0 1101.5,1391.3 1102.5,1391.5 1103.5,1391.4 1104.5,1391.5 1105.5,1391.7 1106.5,1391.8 1107.5,1391.9 1108.5,1391.9 1109.5,1391.7 1110.5,1391.3 1111.5,1390.7 1112.5,1389.8 1113.5,1389.1 1114.5,1388.7 1115.5,1389.0 1116.5,1389.7 1117.5,1390.2 1118.5,1390.3 1119.5,1389.9 1120.5,1389.6 1121.5,1389.6 1122.5,1389.8 1123.5,1390.0 1124.5,1390.1 1125.5,1390.1 1126.5,1390.2 1127.5,1390.4 1128.5,1390.8 1129.5,1391.2 1130.5,1391.5 1131.5,1391.4 1132.5,1391.1 1133.5,1390.5 1134.5,1390.0 1135.5,1389.8 1136.5,1389.9 1137.5,1390.1 1138.5,1390.5 1139.5,1390.7 1140.5,1390.9 1141.5,1390.9 1142.5,1390.5 1143.5,1389.8 1144.5,1389.5 1145.5,1389.8 1146.5,1390.5 1147.5,1391.0 1148.5,1390.9 1149.5,1390.6 1150.5,1390.3 1151.5,1389.9 1152.5,1389.3 1153.5,1388.8 1154.5,1388.9 1155.5,1389.3 1156.5,1389.5 1157.5,1389.6 1158.5,1389.7 1159.5,1389.7 1160.5,1389.8 1161.5,1390.1 1162.5,1390.6 1163.5,1391.0 1164.5,1391.3 1165.5,1391.4 1166.5,1391.2 1167.5,1390.8 1168.5,1390.4 1169.5,1390.1 1170.5,1389.8 1171.5,1389.6 1172.5,1389.3 1173.5,1389.0 1174.5,1388.8 1175.5,1389.0 1176.5,1389.3 1177.5,1389.4 1178.5,1389.4 1179.5,1389.3 1180.5,1389.2 1181.5,1389.0 1182.5,1389.0 1183.5,1389.1 1184.5,1389.2 1185.5,1389.3 1186.5,1389.3 1187.5,1389.4 1188.5,1389.5 1189.5,1389.5 1190.5,1389.4 1191.5,1389.1 1192.5,1388.7 1193.5,1388.4 1194.5,1388.3 1195.5,1388.4 1196.5,1388.7 1197.5,1388.8 1198.5,1388.8 1199.5,1388.8 1200.5,1389.3 1201.5,1390.0 1202.5,1390.3 1203.5,1390.2 1204.5,1390.1 1205.5,1390.4 1206.5,1390.7 1207.5,1390.8 1208.5,1390.6 1209.5,1390.3 1210.5,1390.2 1211.5,1390.3 1212.5,1390.3 1213.5,1389.8 1214.5,1389.0 1215.5,1388.2 1216.5,1387.8 1217.5,1388.1 1218.5,1389.2 1219.5,1390.4 1220.5,1391.1 1221.5,1391.0 1222.5,1390.4 1223.5,1389.5 1224.5,1388.6 1225.5,1387.9 1226.5,1387.6 1227.5,1387.7 1228.5,1388.1 1229.5,1388.7 1230.5,1389.3 1231.5,1389.5 1232.5,1389.5 1233.5,1389.5 1234.5,1389.8 1235.5,1389.8 1236.5,1389.2 1237.5,1388.3 1238.5,1387.6 1239.5,1387.4 1240.5,1387.8 1241.5,1388.4 1242.5,1389.1 1243.5,1389.9 1244.5,1390.4 1245.5,1390.5 1246.5,1390.2 1247.5,1390.0 1248.5,1389.9 1249.5,1389.9 1250.5,1390.1 1251.5,1390.3 1252.5,1390.3 1253.5,1389.9 1254.5,1389.3 1255.5,1388.7 1256.5,1388.4 1257.5,1388.6 1258.5,1389.1 1259.5,1389.9 1260.5,1390.5 1261.5,1390.8 1262.5,1390.7 1263.5,1390.8 1264.5,1391.1 1265.5,1391.4 1266.5,1391.3 1267.5,1391.0 1268.5,1390.6 1269.5,1390.1 1270.5,1389.5 1271.5,1389.0 1272.5,1388.9 1273.5,1389.0 1274.5,1389.1 1275.5,1389.1 1276.5,1389.1 1277.5,1389.3 1278.5,1389.5 1279.5,1389.7 1280.5,1390.0 1281.5,1390.2 1282.5,1390.1 1283.5,1389.9 1284.5,1390.0 1285.5,1390.3 1286.5,1390.5 1287.5,1390.6 1288.5,1390.7 1289.5,1391.0 1290.5,1391.3 1291.5,1391.2 1292.5,1391.0 1293.5,1390.8 1294.5,1390.9 1295.5,1390.8 1296.5,1390.7 1297.5,1390.7 1298.5,1390.9 1299.5,1391.2 1300.5,1391.3 1301.5,1390.9 1302.5,1390.3 1303.5,1389.7 1304.5,1389.5 1305.5,1389.5 1306.5,1389.9 1307.5,1390.5 1308.5,1391.0 1309.5,1391.3 1310.5,1391.3 1311.5,1391.2 1312.5,1391.3 1313.5,1391.3 1314.5,1391.0 1315.5,1390.7 1316.5,1390.6 1317.5,1390.9 1318.5,1391.0 1319.5,1390.6 1320.5,1390.0 1321.5,1389.5 1322.5,1389.3 1323.5,1389.2 1324.5,1389.4 1325.5,1389.8 1326.5,1390.3 1327.5,1390.7 1328.5,1390.9 1329.5,1390.9 1330.5,1390.9 1331.5,1391.0 1332.5,1390.9 1333.5,1390.4 1334.5,1390.1 1335.5,1390.2 1336.5,1390.6 1337.5,1391.0 1338.5,1391.4 1339.5,1391.6 1340.5,1391.6 1341.5,1391.5 1342.5,1391.3 1343.5,1391.3 1344.5,1391.1 1345.5,1390.7 1346.5,1390.4 1347.5,1390.4 1348.5,1390.8 1349.5,1391.3 1350.5,1391.8 1351.5,1392.1 1352.5,1392.0 1353.5,1391.6 1354.5,1391.0 1355.5,1390.6 1356.5,1390.5 1357.5,1390.8 1358.5,1391.4 1359.5,1392.0 1360.5,1392.3 1361.5,1392.2 1362.5,1392.0 1363.5,1391.8 1364.5,1391.3 1365.5,1390.6 1366.5,1389.8 1367.5,1389.2 1368.5,1389.1 1369.5,1389.5 1370.5,1390.4 1371.5,1391.3 1372.5,1392.1 1373.5,1392.5 1374.5,1392.4 1375.5,1392.0 1376.5,1391.7 1377.5,1391.8 1378.5,1391.8 1379.5,1391.6 1380.5,1391.2 1381.5,1391.3 1382.5,1392.0 1383.5,1392.5 1384.5,1392.4 1385.5,1391.8 1386.5,1391.3 1387.5,1391.2 1388.5,1391.2 1389.5,1390.9 1390.5,1390.1 1391.5,1389.0 1392.5,1388.2 1393.5,1388.0 1394.5,1388.5 1395.5,1389.2 1396.5,1389.8 1397.5,1390.1 1398.5,1390.3 1399.5,1390.2 1400.5,1389.8 1401.5,1389.4 1402.5,1389.3 1403.5,1389.2 1404.5,1388.7 1405.5,1387.8 1406.5,1386.9 1407.5,1386.0 1408.5,1385.0 1409.5,1383.2 1410.5,1380.8 1411.5,1377.7 1412.5,1373.8 1413.5,1368.6 1414.5,1361.9 1415.5,1353.3 1416.5,1342.4 1417.5,1329.0 1418.5,1313.7 1419.5,1297.0 1420.5,1279.8 1421.5,1262.8 1422.5,1246.6 1423.5,1232.3 1424.5,1221.3 1425.5,1214.5 1426.5,1212.6 1427.5,1215.8 1428.5,1223.9 1429.5,1236.0 1430.5,1250.9 1431.5,1267.6 1432.5,1285.0 1433.5,1302.2 1434.5,1318.1 1435.5,1332.0 1436.5,1343.6 1437.5,1353.1 1438.5,1360.6 1439.5,1366.5 1440.5,1371.2 1441.5,1375.1 1442.5,1378.2 1443.5,1380.7 1444.5,1382.2 1445.5,1383.0 1446.5,1383.2 1447.5,1383.5 1448.5,1383.8 1449.5,1384.2 1450.5,1384.6 1451.5,1384.7 1452.5,1384.4 1453.5,1384.0 1454.5,1383.5 1455.5,1383.2 1456.5,1383.0 1457.5,1382.8 1458.5,1382.8 1459.5,1382.6 1460.5,1382.2 1461.5,1381.6 1462.5,1381.0 1463.5,1380.5 1464.5,1380.2 1465.5,1380.0 1466.5,1379.6 1467.5,1379.3 1468.5,1379.2 1469.5,1379.4 1470.5,1379.3 1471.5,1378.6 1472.5,1377.7 1473.5,1376.9 1474.5,1376.6 1475.5,1376.5 1476.5,1376.6 1477.5,1376.5 1478.5,1376.3 1479.5,1375.8 1480.5,1375.1 1481.5,1374.3 1482.5,1373.6 1483.5,1373.0 1484.5,1372.2 1485.5,1371.2 1486.5,1370.2 1487.5,1369.6 1488.5,1369.3 1489.5,1369.0 1490.5,1368.6 1491.5,1368.2 1492.5,1367.9 1493.5,1367.8 1494.5,1367.9 1495.5,1368.2 1496.5,1368.5 1497.5,1368.7 1498.5,1368.6 1499.5,1368.3 1500.5,1368.1 1501.5,1367.5 1502.5,1366.4 1503.5,1365.1 1504.5,1363.9 1505.5,1362.9 1506.5,1362.2 1507.5,1361.6 1508.5,1361.3 1509.5,1361.2 1510.5,1361.0 1511.5,1360.8 1512.5,1360.4 1513.5,1359.8 1514.5,1359.2 1515.5,1359.0 1516.5,1359.2 1517.5,1359.1 1518.5,1358.6 1519.5,1358.3 1520.5,1358.5 1521.5,1358.9 1522.5,1359.2 1523.5,1359.4 1524.5,1359.3 1525.5,1358.9 1526.5,1358.8 1527.5,1359.1 1528.5,1359.5 1529.5,1359.8 1530.5,1359.8 1531.5,1359.2 1532.5,1358.3 1533.5,1357.5 1534.5,1357.1 1535.5,1357.1 1536.5,1357.6 1537.5,1358.3 1538.5,1359.2 1539.5,1359.7 1540.5,1359.5 1541.5,1358.8 1542.5,1358.2 1543.5,1358.2 1544.5,1358.6 1545.5,1359.2 1546.5,1359.9 1547.5,1360.4 1548.5,1360.6 1549.5,1360.7 1550.5,1360.7 1551.5,1360.7 1552.5,1361.0 1553.5,1361.7 1554.5,1362.4 1555.5,1362.6 1556.5,1362.7 1557.5,1363.0 1558.5,1363.4 1559.5,1363.4 1560.5,1363.2 1561.5,1363.0 1562.5,1363.2 1563.5,1363.8 1564.5,1364.4 1565.5,1364.5 1566.5,1364.2 1567.5,1364.0 1568.5,1364.3 1569.5,1365.0 1570.5,1365.6 1571.5,1365.6 1572.5,1365.5 1573.5,1365.0 1574.5,1364.3 1575.5,1363.4 1576.5,1362.6 1577.5,1362.1 1578.5,1361.9 1579.5,1361.9 1580.5,1361.9 1581.5,1362.1 1582.5,1362.2 1583.5,1362.2 1584.5,1362.0 1585.5,1362.0 1586.5,1362.2 1587.5,1362.3 1588.5,1362.1 1589.5,1361.6 1590.5,1361.1 1591.5,1360.6 1592.5,1360.5 1593.5,1360.7 1594.5,1361.0 1595.5,1361.2 1596.5,1361.5 1597.5,1361.9 1598.5,1362.0 1599.5,1361.7 1600.5,1361.3 1601.5,1361.1 1602.5,1361.1 1603.5,1361.0 1604.5,1360.5 1605.5,1359.9 1606.5,1359.7 1607.5,1360.0 1608.5,1360.5 1609.5,1360.9 1610.5,1361.1 1611.5,1361.4 1612.5,1361.9 1613.5,1362.2 1614.5,1362.2 1615.5,1361.9 1616.5,1361.5 1617.5,1361.2 1618.5,1361.0 1619.5,1361.3 1620.5,1362.3 1621.5,1363.3 1622.5,1363.6 1623.5,1363.0 1624.5,1362.1 1625.5,1361.5 1626.5,1361.2 1627.5,1361.3 1628.5,1361.6 1629.5,1361.6 1630.5,1361.5 1631.5,1361.7 1632.5,1362.3 1633.5,1363.0 1634.5,1363.4 1635.5,1363.6 1636.5,1363.6 1637.5,1363.4 1638.5,1363.1 1639.5,1362.8 1640.5,1362.5 1641.5,1362.5 1642.5,1362.5 1643.5,1362.4 1644.5,1362.2 1645.5,1362.1 1646.5,1362.1 1647.5,1362.1 1648.5,1362.2 1649.5,1362.4 1650.5,1362.5 1651.5,1362.5 1652.5,1362.7 1653.5,1363.0 1654.5,1363.4 1655.5,1363.7 1656.5,1363.8 1657.5,1363.6 1658.5,1363.1 1659.5,1362.7 1660.5,1362.6 1661.5,1362.9 1662.5,1363.3 1663.5,1363.5 1664.5,1363.2 1665.5,1362.7 1666.5,1362.3 1667.5,1362.0 1668.5,1361.7 1669.5,1361.5 1670.5,1361.7 1671.5,1362.2 1672.5,1362.8 1673.5,1363.3 1674.5,1363.6 1675.5,1363.8 1676.5,1363.9 1677.5,1363.6 1678.5,1363.1 1679.5,1362.5 1680.5,1361.8 1681.5,1361.2 1682.5,1360.9 1683.5,1360.8 1684.5,1360.9 1685.5,1361.2 1686.5,1361.8 1687.5,1362.3 1688.5,1362.4 1689.5,1362.0 1690.5,1361.2 1691.5,1360.4 1692.5,1360.1 1693.5,1360.5 1694.5,1361.6 1695.5,1362.5 1696.5,1362.5 1697.5,1362.0 1698.5,1361.7 1699.5,1362.1 1700.5,1362.7 1701.5,1363.1 1702.5,1363.2 1703.5,1363.2 1704.5,1363.1 1705.5,1363.1 1706.5,1363.0 1707.5,1362.7 1708.5,1362.1 1709.5,1361.3 1710.5,1360.7 1711.5,1360.7 1712.5,1361.3 1713.5,1362.2 1714.5,1362.8 1715.5,1363.0 1716.5,1362.9 1717.5,1362.9 1718.5,1363.0 1719.5,1362.9 1720.5,1362.7 1721.5,1362.4 1722.5,1362.4 1723.5,1362.6 1724.5,1362.7 1725.5,1362.6 1726.5,1362.4 1727.5,1362.3 1728.5,1362.3 1729.5,1362.2 1730.5,1362.1 1731.5,1361.9 1732.5,1361.8 1733.5,1362.1 1734.5,1362.6 1735.5,1363.1 1736.5,1363.5 1737.5,1363.7 1738.5,1363.4 1739.5,1362.6 1740.5,1361.8 1741.5,1361.5 1742.5,1361.6 1743.5,1362.1 1744.5,1362.6 1745.5,1362.8 1746.5,1362.7 1747.5,1362.6 1748.5,1362.7 1749.5,1363.0 1750.5,1363.3 1751.5,1363.5 1752.5,1363.8 1753.5,1363.9 1754.5,1363.9 1755.5,1363.4 1756.5,1362.7 1757.5,1361.8 1758.5,1361.3 1759.5,1361.5 1760.5,1362.1 1761.5,1362.8 1762.5,1363.1 1763.5,1363.2 1764.5,1363.1 1765.5,1362.8 1766.5,1362.3 1767.5,1361.9 1768.5,1362.0 1769.5,1362.5 1770.5,1363.0 1771.5,1363.2 1772.5,1362.8 1773.5,1362.3 1774.5,1361.8 1775.5,1362.0 1776.5,1362.6 1777.5,1363.2 1778.5,1363.3 1779.5,1362.7 1780.5,1362.0 1781.5,1361.8 1782.5,1362.1 1783.5,1362.6 1784.5,1363.1 1785.5,1363.5 1786.5,1363.5 1787.5,1363.1 1788.5,1362.5 1789.5,1361.9 1790.5,1361.4 1791.5,1361.0 1792.5,1360.9 1793.5,1361.1 1794.5,1361.6 1795.5,1362.0 1796.5,1362.4 1797.5,1362.6 1798.5,1362.6 1799.5,1362.4 1800.5,1362.3 1801.5,1362.4 1802.5,1362.6 1803.5,1362.7 1804.5,1362.6 1805.5,1362.2 1806.5,1361.7 1807.5,1361.3 1808.5,1361.6 1809.5,1362.5 1810.5,1363.6 1811.5,1364.3 1812.5,1364.3 1813.5,1363.9 1814.5,1363.6 1815.5,1363.7 1816.5,1363.9 1817.5,1363.9 1818.5,1363.6 1819.5,1363.4 1820.5,1363.2 1821.5,1363.1 1822.5,1363.1 1823.5,1363.0 1824.5,1362.9 1825.5,1363.0 1826.5,1363.1 1827.5,1362.9 1828.5,1362.1 1829.5,1361.5 1830.5,1361.4 1831.5,1361.9 1832.5,1362.4 1833.5,1362.5 1834.5,1362.6 1835.5,1362.7 1836.5,1362.9 1837.5,1362.9 1838.5,1362.4 1839.5,1362.1 1840.5,1362.3 1841.5,1363.1 1842.5,1363.9 1843.5,1364.4 1844.5,1364.5 1845.5,1364.5 1846.5,1364.2 1847.5,1363.6 1848.5,1363.2 1849.5,1363.3 1850.5,1363.8 1851.5,1364.1 1852.5,1364.0 1853.5,1363.8 1854.5,1363.8 1855.5,1364.1 1856.5,1364.4 1857.5,1364.5 1858.5,1364.3 1859.5,1363.9 1860.5,1364.0 1861.5,1364.3 1862.5,1364.7 1863.5,1364.8 1864.5,1364.7 1865.5,1364.5 1866.5,1364.4 1867.5,1364.3 1868.5,1364.3 1869.5,1364.4 1870.5,1364.3 1871.5,1363.9 1872.5,1363.5 1873.5,1363.2 1874.5,1363.3 1875.5,1363.6 1876.5,1363.8 1877.5,1363.8 1878.5,1364.0 1879.5,1364.4 1880.5,1364.6 1881.5,1364.6 1882.5,1364.5 1883.5,1364.4 1884.5,1364.4 1885.5,1364.5 1886.5,1364.6 1887.5,1364.5 1888.5,1364.5 1889.5,1364.7 1890.5,1365.1 1891.5,1365.5 1892.5,1365.7 1893.5,1365.9 1894.5,1366.3 1895.5,1366.7 1896.5,1366.7 1897.5,1366.1 1898.5,1365.0 1899.5,1364.0 1900.5,1363.3 1901.5,1363.2 1902.5,1363.4 1903.5,1363.9 1904.5,1364.3 1905.5,1364.5 1906.5,1364.3 1907.5,1363.7 1908.5,1363.1 1909.5,1362.6 1910.5,1362.2 1911.5,1362.1 1912.5,1362.3 1913.5,1362.6 1914.5,1363.0 1915.5,1363.5 1916.5,1363.9 1917.5,1364.1 1918.5,1364.1 1919.5,1364.0 1920.5,1364.0 1921.5,1364.0 1922.5,1364.0 1923.5,1363.8 1924.5,1363.5 1925.5,1363.5 1926.5,1363.8 1927.5,1364.1 1928.5,1364.4 1929.5,1364.5 1930.5,1364.5 1931.5,1364.2 1932.5,1364.1 1933.5,1364.3 1934.5,1364.8 1935.5,1365.2 1936.5,1365.2 1937.5,1365.1 1938.5,1365.1 1939.5,1365.4 1940.5,1365.6 1941.5,1365.6 1942.5,1365.1 1943.5,1364.6 1944.5,1364.4 1945.5,1364.5 1946.5,1364.6 1947.5,1364.5 1948.5,1364.5 1949.5,1364.4 1950.5,1364.3 1951.5,1364.2 1952.5,1364.5 1953.5,1365.0 1954.5,1365.8 1955.5,1366.6 1956.5,1367.2 1957.5,1367.1 1958.5,1366.4 1959.5,1365.7 1960.5,1365.0 1961.5,1364.5 1962.5,1364.3 1963.5,1364.5 1964.5,1365.1 1965.5,1365.7 1966.5,1366.0 1967.5,1366.1 1968.5,1365.9 1969.5,1365.8 1970.5,1366.1 1971.5,1366.6 1972.5,1366.7 1973.5,1366.2 1974.5,1365.6 1975.5,1365.3 1976.5,1365.5 1977.5,1365.8 1978.5,1366.2 1979.5,1366.3 1980.5,1366.4 1981.5,1366.6 1982.5,1366.7 1983.5,1366.6 1984.5,1366.2 1985.5,1365.8 1986.5,1365.8 1987.5,1365.9 1988.5,1366.0 1989.5,1365.9 1990.5,1365.9 1991.5,1365.8 1992.5,1365.7 1993.5,1365.6 1994.5,1365.5 1995.5,1365.2 1996.5,1364.9 1997.5,1364.6 1998.5,1364.7 1999.5,1364.8 2000.5,1365.0 2001.5,1364.8 2002.5,1364.3 2003.5,1364.0 2004.5,1364.0 2005.5,1364.5 2006.5,1365.1 2007.5,1365.8 2008.5,1366.2 2009.5,1366.0 2010.5,1365.5 2011.5,1365.0 2012.5,1364.8 2013.5,1364.8 2014.5,1365.0 2015.5,1365.5 2016.5,1366.2 2017.5,1366.7 2018.5,1367.0 2019.5,1367.1 2020.5,1367.3 2021.5,1367.5 2022.5,1367.6 2023.5,1367.5 2024.5,1367.0 2025.5,1366.1 2026.5,1365.1 2027.5,1364.4 2028.5,1364.5 2029.5,1365.1 2030.5,1365.9 2031.5,1366.5 2032.5,1367.1 2033.5,1367.3 2034.5,1366.9 2035.5,1366.4 2036.5,1366.3 2037.5,1366.8 2038.5,1367.5 2039.5,1368.0 2040.5,1368.3 2041.5,1368.3 2042.5,1368.3 2043.5,1368.0 2044.5,1367.7 2045.5,1367.1 2046.5,1366.3 2047.5,1365.6 2048.5,1365.1 2049.5,1364.9 2050.5,1364.8 2051.5,1364.8 2052.5,1365.2 2053.5,1366.1 2054.5,1366.7 2055.5,1366.7 2056.5,1366.3 2057.5,1366.3 2058.5,1366.9 2059.5,1367.5 2060.5,1367.9 2061.5,1367.9 2062.5,1367.5 2063.5,1367.1 2064.5,1366.8 2065.5,1366.7 2066.5,1366.3 2067.5,1365.5 2068.5,1364.7 2069.5,1364.6 2070.5,1365.3 2071.5,1366.5 2072.5,1367.5 2073.5,1368.0 2074.5,1368.0 2075.5,1367.7 2076.5,1367.3 2077.5,1367.2 2078.5,1367.5 2079.5,1367.7 2080.5,1367.5 2081.5,1366.9 2082.5,1366.3 2083.5,1366.0 2084.5,1365.9 2085.5,1365.7 2086.5,1365.5 2087.5,1365.3 2088.5,1365.4 2089.5,1365.4 2090.5,1365.1 2091.5,1364.9 2092.5,1364.8 2093.5,1365.0 2094.5,1365.4 2095.5,1365.7 2096.5,1365.7 2097.5,1365.8 2098.5,1366.2 2099.5,1366.5 2100.5,1366.4 2101.5,1365.9 2102.5,1365.7 2103.5,1366.1 2104.5,1366.8 2105.5,1367.3 2106.5,1367.1 2107.5,1366.6 2108.5,1366.4 2109.5,1366.7 2110.5,1367.2 2111.5,1367.1 2112.5,1366.3 2113.5,1365.3 2114.5,1365.0 2115.5,1365.3 2116.5,1365.5 2117.5,1365.6 2118.5,1365.7 2119.5,1366.3 2120.5,1367.0 2121.5,1367.2 2122.5,1366.9 2123.5,1366.3 2124.5,1365.9 2125.5,1365.6 2126.5,1365.5 2127.5,1365.6 2128.5,1365.8 2129.5,1365.9 2130.5,1365.8 2131.5,1365.9 2132.5,1366.1 2133.5,1366.3 2134.5,1366.2 2135.5,1366.1 2136.5,1365.9 2137.5,1365.7 2138.5,1365.3 2139.5,1364.8 2140.5,1364.5 2141.5,1364.7 2142.5,1365.4 2143.5,1366.1 2144.5,1366.5 2145.5,1366.7 2146.5,1367.1 2147.5,1367.7 2148.5,1368.5 2149.5,1368.8 2150.5,1368.3 2151.5,1367.5 2152.5,1367.0 2153.5,1367.0 2154.5,1367.3 2155.5,1367.5 2156.5,1367.4 2157.5,1366.9 2158.5,1366.4 2159.5,1366.1 2160.5,1365.8 2161.5,1365.5 2162.5,1365.3 2163.5,1365.3 2164.5,1365.6 2165.5,1366.0 2166.5,1366.3 2167.5,1366.6 2168.5,1366.7 2169.5,1366.8 2170.5,1367.0 2171.5,1367.3 2172.5,1367.5 2173.5,1367.3 2174.5,1367.1 2175.5,1366.9 2176.5,1366.6 2177.5,1366.2 2178.5,1366.3 2179.5,1366.9 2180.5,1367.7 2181.5,1368.0 2182.5,1368.0 2183.5,1367.8 2184.5,1368.0 2185.5,1368.4 2186.5,1368.9 2187.5,1369.1 2188.5,1368.9 2189.5,1368.6 2190.5,1368.5 2191.5,1368.5 2192.5,1368.2 2193.5,1367.4 2194.5,1366.7 2195.5,1366.5 2196.5,1367.1 2197.5,1367.8 2198.5,1368.1 2199.5,1367.7 2200.5,1366.9 2201.5,1366.3 2202.5,1366.3 2203.5,1366.6 2204.5,1367.0 2205.5,1367.2 2206.5,1367.3 2207.5,1367.2 2208.5,1367.1 2209.5,1367.1 2210.5,1367.6 2211.5,1368.2 2212.5,1368.3 2213.5,1367.9 2214.5,1367.6 2215.5,1367.4 2216.5,1367.3 2217.5,1367.1 2218.5,1366.9 2219.5,1367.0 2220.5,1367.1 2221.5,1367.1 2222.5,1367.0 2223.5,1367.1 2224.5,1367.2 2225.5,1367.4 2226.5,1367.9 2227.5,1368.4 2228.5,1368.6 2229.5,1368.3 2230.5,1367.8 2231.5,1367.5 2232.5,1367.9 2233.5,1368.5 2234.5,1369.0 2235.5,1368.9 2236.5,1368.4 2237.5,1367.8 2238.5,1367.4 2239.5,1367.2 2240.5,1367.3 2241.5,1367.7 2242.5,1368.1 2243.5,1368.2 2244.5,1368.0 2245.5,1367.8 2246.5,1367.7 2247.5,1367.9 2248.5,1368.3 2249.5,1368.4 2250.5,1368.1 2251.5,1367.8 2252.5,1367.9 2253.5,1368.3 2254.5,1368.7 2255.5,1368.8 2256.5,1368.8 2257.5,1368.7 2258.5,1368.2 2259.5,1367.6 2260.5,1367.3 2261.5,1367.7 2262.5,1368.4 2263.5,1369.0 2264.5,1369.1 2265.5,1368.8 2266.5,1368.2 2267.5,1367.6 2268.5,1367.1 2269.5,1367.1 2270.5,1367.6 2271.5,1368.5 2272.5,1369.3 2273.5,1369.6 2274.5,1369.5 2275.5,1369.4 2276.5,1369.4 2277.5,1369.1 2278.5,1368.5 2279.5,1368.0 2280.5,1367.9 2281.5,1368.0 2282.5,1368.2 2283.5,1368.5 2284.5,1368.6 2285.5,1368.4 2286.5,1368.0 2287.5,1367.6 2288.5,1367.4 2289.5,1367.7 2290.5,1368.0 2291.5,1368.2 2292.5,1368.3 2293.5,1368.5 2294.5,1368.8 2295.5,1369.0 2296.5,1369.0 2297.5,1368.8 2298.5,1368.4 2299.5,1368.3 2300.5,1368.7 2301.5,1369.4 2302.5,1369.8 2303.5,1369.7 2304.5,1369.6 2305.5,1369.8 2306.5,1370.3 2307.5,1370.6 2308.5,1370.4 2309.5,1369.7 2310.5,1368.7 2311.5,1367.7 2312.5,1367.1 2313.5,1367.2 2314.5,1367.9 2315.5,1369.0 2316.5,1369.9 2317.5,1370.5 2318.5,1370.4 2319.5,1369.8 2320.5,1369.2 2321.5,1368.9 2322.5,1369.0 2323.5,1369.4 2324.5,1369.7 2325.5,1369.7 2326.5,1369.2 2327.5,1368.7 2328.5,1368.5 2329.5,1368.6 2330.5,1368.8 2331.5,1368.7 2332.5,1368.6 2333.5,1368.8 2334.5,1369.1 2335.5,1369.6 2336.5,1369.9 2337.5,1369.7 2338.5,1369.2 2339.5,1368.8 2340.5,1368.5 2341.5,1368.1 2342.5,1367.7 2343.5,1367.5 2344.5,1367.4 2345.5,1367.2 2346.5,1367.1 2347.5,1367.5 2348.5,1368.3 2349.5,1369.0 2350.5,1369.4 2351.5,1369.4 2352.5,1369.2 2353.5,1368.7 2354.5,1368.5 2355.5,1368.7 2356.5,1369.2 2357.5,1369.6 2358.5,1369.6 2359.5,1369.2 2360.5,1368.9 2361.5,1369.1 2362.5,1369.4 2363.5,1369.4 2364.5,1369.3 2365.5,1369.2 2366.5,1369.5 2367.5,1369.9 2368.5,1370.2 2369.5,1370.4"/>
<polyline fill="none" stroke="#d62cfd" stroke-width="6.6" stroke-linejoin="round" stroke-linecap="round" points="216.5,1820.3 217.5,1820.8 218.5,1821.4 219.5,1822.0 220.5,1822.3 221.5,1822.3 222.5,1822.3 223.5,1822.6 224.5,1823.0 225.5,1823.3 226.5,1823.1 227.5,1822.7 228.5,1822.6 229.5,1822.7 230.5,1823.2 231.5,1823.6 232.5,1823.8 233.5,1823.5 234.5,1822.6 235.5,1821.5 236.5,1820.6 237.5,1820.7 238.5,1821.4 239.5,1822.1 240.5,1822.3 241.5,1821.9 242.5,1821.1 243.5,1820.5 244.5,1820.1 245.5,1820.1 246.5,1820.4 247.5,1820.9 248.5,1821.3 249.5,1821.5 250.5,1821.6 251.5,1821.8 252.5,1822.1 253.5,1822.0 254.5,1821.4 255.5,1820.3 256.5,1819.5 257.5,1819.5 258.5,1820.0 259.5,1820.8 260.5,1821.6 261.5,1822.3 262.5,1822.5 263.5,1822.4 264.5,1822.0 265.5,1821.7 266.5,1821.4 267.5,1821.3 268.5,1821.4 269.5,1821.8 270.5,1822.1 271.5,1822.1 272.5,1821.5 273.5,1820.7 274.5,1820.2 275.5,1820.3 276.5,1820.8 277.5,1821.3 278.5,1821.6 279.5,1821.6 280.5,1821.7 281.5,1821.7 282.5,1821.5 283.5,1820.8 284.5,1819.9 285.5,1819.2 286.5,1819.0 287.5,1818.9 288.5,1819.2 289.5,1819.7 290.5,1820.3 291.5,1820.4 292.5,1820.1 293.5,1819.8 294.5,1819.6 295.5,1819.6 296.5,1819.8 297.5,1819.8 298.5,1819.9 299.5,1820.3 300.5,1821.2 301.5,1822.2 302.5,1822.8 303.5,1822.8 304.5,1822.7 305.5,1822.7 306.5,1822.5 307.5,1822.0 308.5,1821.0 309.5,1819.9 310.5,1819.1 311.5,1818.8 312.5,1819.0 313.5,1819.3 314.5,1819.8 315.5,1820.3 316.5,1820.9 317.5,1821.5 318.5,1821.7 319.5,1821.7 320.5,1821.3 321.5,1820.5 322.5,1819.5 323.5,1818.6 324.5,1818.5 325.5,1819.2 326.5,1820.4 327.5,1821.3 328.5,1821.8 329.5,1821.5 330.5,1820.7 331.5,1819.8 332.5,1819.2 333.5,1819.0 334.5,1819.0 335.5,1818.8 336.5,1818.5 337.5,1818.2 338.5,1817.8 339.5,1817.5 340.5,1817.5 341.5,1817.7 342.5,1817.5 343.5,1816.7 344.5,1815.1 345.5,1813.1 346.5,1810.8 347.5,1807.8 348.5,1803.3 349.5,1796.7 350.5,1788.2 351.5,1777.8 352.5,1765.2 353.5,1749.8 354.5,1731.4 355.5,1710.0 356.5,1686.3 357.5,1661.3 358.5,1636.2 359.5,1611.6 360.5,1588.8 361.5,1569.1 362.5,1554.1 363.5,1545.0 364.5,1542.3 365.5,1546.3 366.5,1556.5 367.5,1572.0 368.5,1591.3 369.5,1613.2 370.5,1636.5 371.5,1660.4 372.5,1684.1 373.5,1706.9 374.5,1727.8 375.5,1746.1 376.5,1761.7 377.5,1774.6 378.5,1784.9 379.5,1792.6 380.5,1798.4 381.5,1803.0 382.5,1806.7 383.5,1809.4 384.5,1811.1 385.5,1812.0 386.5,1812.5 387.5,1813.0 388.5,1813.4 389.5,1813.8 390.5,1814.0 391.5,1814.2 392.5,1814.5 393.5,1814.7 394.5,1814.5 395.5,1814.2 396.5,1813.9 397.5,1813.7 398.5,1813.7 399.5,1813.8 400.5,1813.6 401.5,1813.0 402.5,1811.9 403.5,1810.4 404.5,1808.9 405.5,1807.8 406.5,1807.4 407.5,1807.2 408.5,1807.1 409.5,1806.7 410.5,1805.8 411.5,1804.4 412.5,1802.9 413.5,1801.4 414.5,1800.1 415.5,1799.0 416.5,1798.1 417.5,1797.5 418.5,1797.3 419.5,1797.4 420.5,1797.2 421.5,1796.3 422.5,1795.1 423.5,1794.0 424.5,1793.2 425.5,1792.5 426.5,1791.8 427.5,1791.3 428.5,1790.8 429.5,1790.1 430.5,1789.3 431.5,1788.4 432.5,1787.4 433.5,1786.1 434.5,1784.9 435.5,1783.6 436.5,1782.3 437.5,1781.0 438.5,1780.1 439.5,1779.8 440.5,1779.8 441.5,1780.0 442.5,1780.4 443.5,1780.7 444.5,1780.6 445.5,1780.3 446.5,1779.7 447.5,1778.7 448.5,1777.4 449.5,1776.2 450.5,1775.6 451.5,1775.4 452.5,1775.4 453.5,1775.8 454.5,1776.4 455.5,1776.9 456.5,1776.9 457.5,1776.7 458.5,1776.5 459.5,1776.6 460.5,1776.8 461.5,1776.8 462.5,1776.7 463.5,1776.6 464.5,1776.7 465.5,1776.4 466.5,1775.8 467.5,1775.6 468.5,1776.0 469.5,1776.7 470.5,1777.0 471.5,1776.7 472.5,1776.4 473.5,1776.5 474.5,1777.2 475.5,1778.3 476.5,1779.3 477.5,1779.8 478.5,1779.9 479.5,1780.2 480.5,1780.5 481.5,1780.6 482.5,1780.3 483.5,1779.8 484.5,1779.5 485.5,1779.5 486.5,1779.7 487.5,1779.9 488.5,1779.8 489.5,1779.6 490.5,1779.7 491.5,1780.1 492.5,1780.6 493.5,1780.6 494.5,1779.8 495.5,1779.0 496.5,1778.7 497.5,1779.0 498.5,1779.5 499.5,1779.8 500.5,1780.0 501.5,1780.4 502.5,1780.8 503.5,1780.8 504.5,1780.4 505.5,1779.8 506.5,1779.4 507.5,1779.8 508.5,1780.7 509.5,1781.8 510.5,1782.4 511.5,1782.5 512.5,1782.5 513.5,1782.5 514.5,1782.3 515.5,1782.1 516.5,1781.9 517.5,1781.7 518.5,1781.6 519.5,1781.7 520.5,1782.1 521.5,1782.6 522.5,1783.1 523.5,1783.5 524.5,1783.9 525.5,1784.2 526.5,1784.1 527.5,1783.7 528.5,1783.1 529.5,1782.3 530.5,1781.6 531.5,1781.1 532.5,1780.8 533.5,1781.1 534.5,1781.5 535.5,1782.0 536.5,1782.5 537.5,1782.9 538.5,1783.0 539.5,1782.7 540.5,1782.3 541.5,1782.2 542.5,1782.2 543.5,1782.4 544.5,1782.4 545.5,1782.3 546.5,1782.0 547.5,1781.8 548.5,1781.8 549.5,1782.2 550.5,1782.7 551.5,1783.0 552.5,1783.0 553.5,1782.9 554.5,1782.9 555.5,1783.0 556.5,1783.0 557.5,1783.1 558.5,1783.4 559.5,1783.7 560.5,1783.9 561.5,1784.0 562.5,1783.8 563.5,1783.2 564.5,1782.0 565.5,1780.9 566.5,1780.5 567.5,1780.9 568.5,1781.8 569.5,1782.6 570.5,1783.3 571.5,1783.8 572.5,1784.3 573.5,1784.7 574.5,1784.8 575.5,1784.7 576.5,1784.5 577.5,1784.1 578.5,1783.4 579.5,1782.7 580.5,1782.1 581.5,1781.8 582.5,1781.6 583.5,1781.7 584.5,1782.0 585.5,1782.4 586.5,1782.9 587.5,1783.3 588.5,1783.5 589.5,1783.6 590.5,1783.8 591.5,1784.1 592.5,1784.2 593.5,1784.1 594.5,1784.0 595.5,1784.0 596.5,1784.2 597.5,1784.5 598.5,1784.5 599.5,1784.2 600.5,1783.7 601.5,1783.4 602.5,1783.7 603.5,1784.3 604.5,1784.9 605.5,1785.4 606.5,1785.6 607.5,1785.5 608.5,1784.9 609.5,1784.1 610.5,1783.5 611.5,1783.4 612.5,1783.6 613.5,1783.8 614.5,1784.0 615.5,1784.4 616.5,1784.9 617.5,1785.3 618.5,1785.3 619.5,1784.9 620.5,1784.1 621.5,1783.5 622.5,1783.4 623.5,1783.6 624.5,1783.7 625.5,1784.0 626.5,1784.6 627.5,1785.4 628.5,1786.0 629.5,1786.1 630.5,1785.6 631.5,1785.0 632.5,1784.7 633.5,1784.8 634.5,1785.3 635.5,1785.4 636.5,1784.9 637.5,1784.1 638.5,1783.8 639.5,1784.1 640.5,1784.6 641.5,1784.6 642.5,1784.4 643.5,1784.3 644.5,1784.2 645.5,1784.1 646.5,1784.0 647.5,1784.1 648.5,1784.5 649.5,1785.0 650.5,1785.3 651.5,1785.4 652.5,1785.3 653.5,1785.1 654.5,1784.7 655.5,1784.5 656.5,1784.5 657.5,1784.4 658.5,1784.5 659.5,1784.9 660.5,1785.4 661.5,1785.8 662.5,1785.7 663.5,1785.2 664.5,1784.6 665.5,1784.1 666.5,1783.9 667.5,1784.0 668.5,1784.4 669.5,1784.9 670.5,1785.4 671.5,1785.9 672.5,1786.2 673.5,1786.5 674.5,1786.6 675.5,1786.4 676.5,1786.0 677.5,1785.7 678.5,1785.7 679.5,1785.8 680.5,1785.9 681.5,1786.1 682.5,1786.1 683.5,1786.0 684.5,1785.7 685.5,1785.2 686.5,1784.6 687.5,1784.0 688.5,1783.6 689.5,1783.5 690.5,1783.6 691.5,1783.7 692.5,1784.0 693.5,1784.6 694.5,1785.4 695.5,1786.2 696.5,1786.9 697.5,1787.4 698.5,1787.6 699.5,1787.5 700.5,1787.3 701.5,1787.1 702.5,1786.6 703.5,1785.9 704.5,1785.3 705.5,1785.2 706.5,1785.6 707.5,1785.7 708.5,1785.3 709.5,1784.7 710.5,1784.5 711.5,1784.9 712.5,1785.3 713.5,1785.5 714.5,1785.7 715.5,1785.7 716.5,1785.6 717.5,1785.4 718.5,1785.4 719.5,1785.5 720.5,1785.5 721.5,1785.6 722.5,1786.2 723.5,1786.8 724.5,1787.0 725.5,1786.7 726.5,1786.3 727.5,1786.0 728.5,1785.8 729.5,1785.5 730.5,1785.0 731.5,1785.0 732.5,1785.3 733.5,1785.6 734.5,1785.2 735.5,1784.5 736.5,1784.1 737.5,1784.3 738.5,1784.7 739.5,1785.0 740.5,1784.9 741.5,1784.5 742.5,1784.4 743.5,1784.7 744.5,1785.2 745.5,1785.4 746.5,1785.3 747.5,1785.0 748.5,1784.9 749.5,1784.8 750.5,1784.5 751.5,1784.3 752.5,1784.6 753.5,1785.3 754.5,1786.1 755.5,1786.7 756.5,1786.8 757.5,1786.6 758.5,1786.2 759.5,1786.0 760.5,1786.0 761.5,1786.2 762.5,1786.1 763.5,1785.7 764.5,1785.2 765.5,1784.8 766.5,1784.9 767.5,1785.7 768.5,1786.5 769.5,1786.7 770.5,1786.3 771.5,1785.8 772.5,1785.7 773.5,1785.9 774.5,1786.3 775.5,1786.4 776.5,1785.9 777.5,1785.3 778.5,1785.0 779.5,1785.3 780.5,1786.1 781.5,1786.8 782.5,1787.0 783.5,1786.9 784.5,1786.7 785.5,1786.7 786.5,1786.7 787.5,1786.9 788.5,1786.8 789.5,1786.5 790.5,1786.2 791.5,1786.1 792.5,1786.0 793.5,1785.9 794.5,1786.0 795.5,1786.3 796.5,1786.6 797.5,1786.7 798.5,1786.5 799.5,1785.9 800.5,1785.4 801.5,1785.4 802.5,1785.6 803.5,1786.0 804.5,1786.3 805.5,1786.6 806.5,1786.8 807.5,1786.7 808.5,1786.6 809.5,1786.6 810.5,1786.8 811.5,1787.2 812.5,1787.4 813.5,1787.6 814.5,1787.9 815.5,1788.4 816.5,1788.7 817.5,1788.3 818.5,1787.3 819.5,1786.3 820.5,1785.8 821.5,1785.8 822.5,1786.0 823.5,1786.2 824.5,1786.4 825.5,1786.3 826.5,1786.0 827.5,1785.7 828.5,1785.9 829.5,1786.4 830.5,1786.8 831.5,1787.1 832.5,1787.5 833.5,1787.8 834.5,1788.0 835.5,1788.3 836.5,1788.4 837.5,1788.1 838.5,1787.5 839.5,1787.0 840.5,1786.8 841.5,1786.9 842.5,1787.1 843.5,1787.2 844.5,1787.1 845.5,1787.2 846.5,1787.5 847.5,1787.8 848.5,1787.8 849.5,1787.5 850.5,1786.9 851.5,1785.5 852.5,1783.3 853.5,1780.4 854.5,1777.3 855.5,1774.3 856.5,1771.6 857.5,1769.2 858.5,1767.5 859.5,1767.1 860.5,1768.3 861.5,1770.9 862.5,1774.1 863.5,1777.1 864.5,1779.4 865.5,1781.0 866.5,1782.3 867.5,1783.4 868.5,1784.7 869.5,1785.6 870.5,1786.2 871.5,1786.4 872.5,1786.4 873.5,1786.2 874.5,1785.8 875.5,1785.4 876.5,1785.4 877.5,1785.9 878.5,1786.7 879.5,1787.4 880.5,1787.3 881.5,1786.5 882.5,1786.0 883.5,1785.9 884.5,1785.9 885.5,1785.8 886.5,1785.6 887.5,1785.2 888.5,1785.1 889.5,1785.1 890.5,1785.3 891.5,1785.5 892.5,1785.4 893.5,1785.3 894.5,1785.1 895.5,1785.0 896.5,1785.2 897.5,1785.5 898.5,1785.8 899.5,1786.0 900.5,1786.1 901.5,1786.0 902.5,1785.8 903.5,1785.5 904.5,1785.4 905.5,1785.7 906.5,1786.1 907.5,1786.3 908.5,1785.8 909.5,1785.0 910.5,1784.3 911.5,1784.2 912.5,1784.4 913.5,1784.6 914.5,1784.7 915.5,1784.7 916.5,1784.7 917.5,1784.7 918.5,1784.8 919.5,1785.1 920.5,1785.5 921.5,1785.8 922.5,1786.0 923.5,1785.9 924.5,1785.3 925.5,1784.6 926.5,1784.0 927.5,1783.6 928.5,1783.3 929.5,1783.1 930.5,1783.0 931.5,1783.3 932.5,1783.9 933.5,1784.4 934.5,1784.6 935.5,1784.4 936.5,1784.1 937.5,1783.9 938.5,1783.7 939.5,1783.5 940.5,1783.2 941.5,1782.9 942.5,1782.7 943.5,1782.7 944.5,1783.0 945.5,1783.3 946.5,1783.5 947.5,1783.6 948.5,1783.7 949.5,1783.7 950.5,1783.7 951.5,1783.6 952.5,1783.8 953.5,1784.3 954.5,1785.0 955.5,1785.4 956.5,1785.4 957.5,1785.4 958.5,1785.3 959.5,1785.3 960.5,1785.1 961.5,1784.7 962.5,1784.2 963.5,1783.8 964.5,1783.6 965.5,1783.7 966.5,1784.0 967.5,1784.3 968.5,1784.3 969.5,1784.1 970.5,1784.0 971.5,1784.0 972.5,1784.0 973.5,1783.7 974.5,1783.2 975.5,1782.8 976.5,1782.5 977.5,1782.5 978.5,1782.7 979.5,1783.1 980.5,1783.5 981.5,1783.6 982.5,1783.4 983.5,1783.1 984.5,1782.8 985.5,1782.6 986.5,1782.4 987.5,1782.5 988.5,1782.7 989.5,1782.7 990.5,1782.7 991.5,1782.8 992.5,1783.1 993.5,1783.5 994.5,1783.8 995.5,1784.0 996.5,1784.1 997.5,1784.1 998.5,1784.0 999.5,1783.4 1000.5,1782.8 1001.5,1782.3 1002.5,1782.3 1003.5,1782.5 1004.5,1782.9 1005.5,1783.3 1006.5,1783.7 1007.5,1783.9 1008.5,1783.5 1009.5,1782.9 1010.5,1782.5 1011.5,1782.6 1012.5,1783.1 1013.5,1783.6 1014.5,1784.0 1015.5,1784.2 1016.5,1784.1 1017.5,1784.1 1018.5,1784.1 1019.5,1784.1 1020.5,1783.9 1021.5,1783.4 1022.5,1783.1 1023.5,1783.0 1024.5,1783.2 1025.5,1783.4 1026.5,1783.1 1027.5,1782.5 1028.5,1782.1 1029.5,1782.5 1030.5,1783.3 1031.5,1783.9 1032.5,1784.2 1033.5,1784.6 1034.5,1784.9 1035.5,1784.9 1036.5,1784.6 1037.5,1784.1 1038.5,1783.8 1039.5,1783.6 1040.5,1783.7 1041.5,1783.9 1042.5,1783.8 1043.5,1783.3 1044.5,1782.7 1045.5,1782.4 1046.5,1782.5 1047.5,1782.8 1048.5,1783.0 1049.5,1783.1 1050.5,1783.2 1051.5,1783.3 1052.5,1783.3 1053.5,1783.4 1054.5,1783.6 1055.5,1783.6 1056.5,1783.5 1057.5,1783.4 1058.5,1783.4 1059.5,1783.6 1060.5,1783.8 1061.5,1783.5 1062.5,1782.7 1063.5,1781.8 1064.5,1781.3 1065.5,1781.4 1066.5,1781.7 1067.5,1781.9 1068.5,1782.1 1069.5,1782.4 1070.5,1783.0 1071.5,1783.7 1072.5,1784.1 1073.5,1784.1 1074.5,1783.9 1075.5,1783.8 1076.5,1784.1 1077.5,1784.2 1078.5,1784.2 1079.5,1783.9 1080.5,1783.6 1081.5,1783.5 1082.5,1783.4 1083.5,1783.1 1084.5,1782.4 1085.5,1782.0 1086.5,1782.2 1087.5,1782.7 1088.5,1783.3 1089.5,1783.6 1090.5,1783.8 1091.5,1783.9 1092.5,1783.9 1093.5,1784.0 1094.5,1784.0 1095.5,1783.9 1096.5,1783.6 1097.5,1782.9 1098.5,1782.3 1099.5,1782.0 1100.5,1782.4 1101.5,1783.0 1102.5,1783.2 1103.5,1783.2 1104.5,1783.4 1105.5,1783.7 1106.5,1783.7 1107.5,1783.4 1108.5,1782.8 1109.5,1782.1 1110.5,1781.5 1111.5,1781.3 1112.5,1781.8 1113.5,1782.9 1114.5,1784.1 1115.5,1784.9 1116.5,1785.1 1117.5,1784.6 1118.5,1784.0 1119.5,1783.6 1120.5,1783.5 1121.5,1783.3 1122.5,1783.3 1123.5,1783.7 1124.5,1784.2 1125.5,1784.6 1126.5,1784.5 1127.5,1784.1 1128.5,1783.5 1129.5,1783.0 1130.5,1782.7 1131.5,1782.8 1132.5,1783.2 1133.5,1783.8 1134.5,1784.3 1135.5,1784.8 1136.5,1785.2 1137.5,1785.5 1138.5,1785.4 1139.5,1784.9 1140.5,1784.3 1141.5,1783.8 1142.5,1783.6 1143.5,1783.8 1144.5,1783.8 1145.5,1783.7 1146.5,1783.4 1147.5,1783.2 1148.5,1783.1 1149.5,1783.3 1150.5,1783.6 1151.5,1783.8 1152.5,1783.7 1153.5,1783.6 1154.5,1783.8 1155.5,1784.3 1156.5,1784.8 1157.5,1784.9 1158.5,1784.6 1159.5,1784.1 1160.5,1783.7 1161.5,1783.6 1162.5,1783.5 1163.5,1783.4 1164.5,1783.3 1165.5,1783.2 1166.5,1783.4 1167.5,1783.5 1168.5,1783.8 1169.5,1784.2 1170.5,1784.7 1171.5,1785.0 1172.5,1785.2 1173.5,1785.0 1174.5,1784.7 1175.5,1784.3 1176.5,1783.8 1177.5,1783.6 1178.5,1783.8 1179.5,1784.2 1180.5,1784.5 1181.5,1784.6 1182.5,1784.4 1183.5,1783.9 1184.5,1783.2 1185.5,1782.6 1186.5,1782.6 1187.5,1783.2 1188.5,1784.0 1189.5,1784.5 1190.5,1784.5 1191.5,1784.1 1192.5,1783.8 1193.5,1783.5 1194.5,1783.2 1195.5,1782.8 1196.5,1782.7 1197.5,1783.1 1198.5,1783.9 1199.5,1784.3 1200.5,1784.3 1201.5,1783.9 1202.5,1783.5 1203.5,1783.5 1204.5,1783.9 1205.5,1784.2 1206.5,1784.1 1207.5,1783.7 1208.5,1783.3 1209.5,1783.2 1210.5,1783.4 1211.5,1783.6 1212.5,1783.6 1213.5,1783.4 1214.5,1783.3 1215.5,1783.4 1216.5,1783.8 1217.5,1784.4 1218.5,1784.7 1219.5,1784.4 1220.5,1783.9 1221.5,1783.6 1222.5,1783.9 1223.5,1784.6 1224.5,1785.2 1225.5,1785.4 1226.5,1785.2 1227.5,1785.0 1228.5,1784.9 1229.5,1784.9 1230.5,1784.7 1231.5,1784.4 1232.5,1784.0 1233.5,1783.9 1234.5,1783.9 1235.5,1783.9 1236.5,1784.2 1237.5,1784.6 1238.5,1784.8 1239.5,1784.8 1240.5,1784.7 1241.5,1784.8 1242.5,1784.9 1243.5,1785.1 1244.5,1785.1 1245.5,1785.1 1246.5,1785.2 1247.5,1785.3 1248.5,1785.4 1249.5,1785.5 1250.5,1785.4 1251.5,1785.2 1252.5,1784.8 1253.5,1784.6 1254.5,1784.5 1255.5,1784.6 1256.5,1784.6 1257.5,1784.4 1258.5,1784.0 1259.5,1783.9 1260.5,1784.2 1261.5,1784.6 1262.5,1785.0 1263.5,1785.3 1264.5,1785.4 1265.5,1785.1 1266.5,1784.7 1267.5,1784.4 1268.5,1784.1 1269.5,1783.8 1270.5,1783.5 1271.5,1783.6 1272.5,1784.2 1273.5,1785.0 1274.5,1785.6 1275.5,1785.6 1276.5,1785.2 1277.5,1784.8 1278.5,1784.5 1279.5,1784.3 1280.5,1784.4 1281.5,1784.8 1282.5,1785.5 1283.5,1786.1 1284.5,1786.2 1285.5,1785.9 1286.5,1785.2 1287.5,1784.3 1288.5,1783.7 1289.5,1783.7 1290.5,1784.4 1291.5,1785.4 1292.5,1786.3 1293.5,1786.6 1294.5,1786.4 1295.5,1786.1 1296.5,1785.8 1297.5,1785.5 1298.5,1785.2 1299.5,1784.9 1300.5,1785.3 1301.5,1786.1 1302.5,1786.9 1303.5,1787.0 1304.5,1786.5 1305.5,1785.5 1306.5,1784.2 1307.5,1783.3 1308.5,1783.2 1309.5,1783.9 1310.5,1784.6 1311.5,1784.8 1312.5,1784.6 1313.5,1784.4 1314.5,1784.5 1315.5,1784.7 1316.5,1785.0 1317.5,1785.1 1318.5,1784.8 1319.5,1784.7 1320.5,1784.7 1321.5,1784.8 1322.5,1784.9 1323.5,1785.1 1324.5,1785.6 1325.5,1786.1 1326.5,1786.1 1327.5,1785.7 1328.5,1785.3 1329.5,1785.2 1330.5,1785.3 1331.5,1785.5 1332.5,1785.7 1333.5,1785.9 1334.5,1786.0 1335.5,1785.9 1336.5,1785.6 1337.5,1785.3 1338.5,1785.2 1339.5,1785.1 1340.5,1785.0 1341.5,1785.1 1342.5,1785.7 1343.5,1786.1 1344.5,1786.0 1345.5,1785.4 1346.5,1784.8 1347.5,1784.4 1348.5,1784.1 1349.5,1783.9 1350.5,1784.0 1351.5,1784.3 1352.5,1784.7 1353.5,1785.2 1354.5,1785.5 1355.5,1785.5 1356.5,1785.2 1357.5,1784.7 1358.5,1784.4 1359.5,1784.8 1360.5,1785.6 1361.5,1786.3 1362.5,1786.3 1363.5,1785.9 1364.5,1785.4 1365.5,1784.9 1366.5,1784.4 1367.5,1784.0 1368.5,1783.7 1369.5,1783.5 1370.5,1783.5 1371.5,1783.7 1372.5,1784.3 1373.5,1785.1 1374.5,1785.7 1375.5,1785.7 1376.5,1785.4 1377.5,1785.2 1378.5,1785.1 1379.5,1785.2 1380.5,1785.4 1381.5,1785.4 1382.5,1785.2 1383.5,1784.8 1384.5,1784.2 1385.5,1783.4 1386.5,1782.6 1387.5,1782.2 1388.5,1782.4 1389.5,1783.0 1390.5,1783.7 1391.5,1783.9 1392.5,1783.4 1393.5,1782.4 1394.5,1781.4 1395.5,1780.8 1396.5,1780.5 1397.5,1780.5 1398.5,1780.4 1399.5,1780.2 1400.5,1779.8 1401.5,1779.5 1402.5,1779.3 1403.5,1779.0 1404.5,1778.0 1405.5,1776.4 1406.5,1774.7 1407.5,1773.5 1408.5,1772.7 1409.5,1771.6 1410.5,1769.7 1411.5,1766.5 1412.5,1762.3 1413.5,1757.3 1414.5,1751.0 1415.5,1742.6 1416.5,1731.2 1417.5,1716.5 1418.5,1698.2 1419.5,1675.9 1420.5,1649.3 1421.5,1618.7 1422.5,1584.8 1423.5,1548.3 1424.5,1510.2 1425.5,1471.8 1426.5,1434.7 1427.5,1400.9 1428.5,1373.1 1429.5,1353.8 1430.5,1345.3 1431.5,1348.6 1432.5,1363.6 1433.5,1388.4 1434.5,1420.5 1435.5,1457.2 1436.5,1495.9 1437.5,1534.8 1438.5,1572.3 1439.5,1607.3 1440.5,1638.8 1441.5,1666.4 1442.5,1690.2 1443.5,1710.3 1444.5,1726.4 1445.5,1738.8 1446.5,1748.4 1447.5,1756.1 1448.5,1762.3 1449.5,1766.9 1450.5,1770.4 1451.5,1773.1 1452.5,1775.3 1453.5,1777.0 1454.5,1778.2 1455.5,1778.6 1456.5,1778.4 1457.5,1777.7 1458.5,1776.8 1459.5,1776.0 1460.5,1775.5 1461.5,1775.1 1462.5,1774.6 1463.5,1773.8 1464.5,1772.9 1465.5,1771.8 1466.5,1770.7 1467.5,1769.6 1468.5,1768.7 1469.5,1768.0 1470.5,1767.3 1471.5,1766.1 1472.5,1764.4 1473.5,1762.8 1474.5,1761.7 1475.5,1760.9 1476.5,1760.3 1477.5,1759.2 1478.5,1757.5 1479.5,1755.6 1480.5,1754.1 1481.5,1753.3 1482.5,1752.8 1483.5,1752.3 1484.5,1751.9 1485.5,1751.5 1486.5,1751.1 1487.5,1750.2 1488.5,1748.8 1489.5,1747.5 1490.5,1746.6 1491.5,1745.7 1492.5,1744.7 1493.5,1743.5 1494.5,1742.1 1495.5,1740.5 1496.5,1739.1 1497.5,1738.0 1498.5,1737.1 1499.5,1736.0 1500.5,1734.9 1501.5,1733.5 1502.5,1732.1 1503.5,1731.0 1504.5,1730.4 1505.5,1730.3 1506.5,1730.4 1507.5,1729.9 1508.5,1728.5 1509.5,1726.8 1510.5,1725.5 1511.5,1724.7 1512.5,1724.1 1513.5,1723.4 1514.5,1722.4 1515.5,1721.3 1516.5,1720.3 1517.5,1719.6 1518.5,1719.2 1519.5,1718.9 1520.5,1718.3 1521.5,1717.4 1522.5,1716.3 1523.5,1715.3 1524.5,1714.8 1525.5,1714.9 1526.5,1715.3 1527.5,1715.6 1528.5,1715.6 1529.5,1715.3 1530.5,1714.8 1531.5,1714.3 1532.5,1713.9 1533.5,1713.7 1534.5,1714.0 1535.5,1714.6 1536.5,1715.2 1537.5,1715.6 1538.5,1715.8 1539.5,1715.9 1540.5,1716.2 1541.5,1716.8 1542.5,1717.7 1543.5,1718.5 1544.5,1719.3 1545.5,1720.0 1546.5,1720.7 1547.5,1721.0 1548.5,1721.1 1549.5,1721.2 1550.5,1721.3 1551.5,1721.6 1552.5,1722.0 1553.5,1722.6 1554.5,1723.3 1555.5,1723.9 1556.5,1724.3 1557.5,1724.8 1558.5,1725.6 1559.5,1726.6 1560.5,1727.4 1561.5,1727.9 1562.5,1728.5 1563.5,1729.2 1564.5,1729.9 1565.5,1730.2 1566.5,1729.8 1567.5,1729.4 1568.5,1729.2 1569.5,1729.0 1570.5,1728.8 1571.5,1729.0 1572.5,1729.6 1573.5,1730.5 1574.5,1731.4 1575.5,1731.9 1576.5,1732.1 1577.5,1732.1 1578.5,1732.1 1579.5,1732.1 1580.5,1731.8 1581.5,1731.6 1582.5,1731.9 1583.5,1732.6 1584.5,1732.8 1585.5,1732.5 1586.5,1732.1 1587.5,1731.9 1588.5,1732.0 1589.5,1732.1 1590.5,1731.9 1591.5,1731.7 1592.5,1731.8 1593.5,1731.8 1594.5,1731.8 1595.5,1731.6 1596.5,1731.5 1597.5,1731.6 1598.5,1731.8 1599.5,1731.9 1600.5,1731.8 1601.5,1731.9 1602.5,1732.3 1603.5,1732.5 1604.5,1732.2 1605.5,1731.8 1606.5,1731.7 1607.5,1732.1 1608.5,1732.9 1609.5,1733.2 1610.5,1732.8 1611.5,1732.0 1612.5,1731.5 1613.5,1731.1 1614.5,1730.7 1615.5,1730.1 1616.5,1729.8 1617.5,1729.8 1618.5,1729.6 1619.5,1729.1 1620.5,1728.5 1621.5,1728.3 1622.5,1728.4 1623.5,1728.4 1624.5,1728.4 1625.5,1728.5 1626.5,1729.0 1627.5,1729.6 1628.5,1730.4 1629.5,1730.9 1630.5,1730.6 1631.5,1730.0 1632.5,1729.6 1633.5,1729.8 1634.5,1730.2 1635.5,1730.1 1636.5,1729.5 1637.5,1729.1 1638.5,1729.3 1639.5,1730.0 1640.5,1730.8 1641.5,1731.4 1642.5,1731.6 1643.5,1731.1 1644.5,1730.2 1645.5,1729.1 1646.5,1728.5 1647.5,1728.3 1648.5,1728.5 1649.5,1728.8 1650.5,1729.2 1651.5,1729.5 1652.5,1729.6 1653.5,1729.6 1654.5,1729.5 1655.5,1729.2 1656.5,1728.7 1657.5,1728.5 1658.5,1728.8 1659.5,1729.6 1660.5,1730.2 1661.5,1730.4 1662.5,1730.3 1663.5,1729.9 1664.5,1729.6 1665.5,1729.6 1666.5,1730.1 1667.5,1730.5 1668.5,1730.7 1669.5,1730.6 1670.5,1729.9 1671.5,1728.9 1672.5,1728.3 1673.5,1728.6 1674.5,1729.3 1675.5,1729.8 1676.5,1729.6 1677.5,1729.0 1678.5,1728.5 1679.5,1728.3 1680.5,1728.7 1681.5,1729.3 1682.5,1730.1 1683.5,1730.5 1684.5,1730.7 1685.5,1730.7 1686.5,1730.6 1687.5,1730.7 1688.5,1730.8 1689.5,1731.0 1690.5,1731.2 1691.5,1731.4 1692.5,1731.1 1693.5,1730.4 1694.5,1729.9 1695.5,1730.1 1696.5,1731.0 1697.5,1731.8 1698.5,1732.0 1699.5,1731.6 1700.5,1731.1 1701.5,1730.8 1702.5,1730.8 1703.5,1730.9 1704.5,1731.2 1705.5,1731.5 1706.5,1731.6 1707.5,1731.7 1708.5,1731.8 1709.5,1732.1 1710.5,1732.5 1711.5,1732.9 1712.5,1733.1 1713.5,1733.0 1714.5,1732.9 1715.5,1732.7 1716.5,1732.4 1717.5,1732.0 1718.5,1731.7 1719.5,1731.8 1720.5,1732.2 1721.5,1732.6 1722.5,1732.9 1723.5,1732.8 1724.5,1732.4 1725.5,1732.0 1726.5,1732.2 1727.5,1732.7 1728.5,1733.1 1729.5,1732.9 1730.5,1732.4 1731.5,1732.0 1732.5,1732.2 1733.5,1732.8 1734.5,1733.4 1735.5,1733.6 1736.5,1733.7 1737.5,1734.0 1738.5,1734.3 1739.5,1734.3 1740.5,1734.0 1741.5,1733.7 1742.5,1733.5 1743.5,1733.6 1744.5,1733.9 1745.5,1734.3 1746.5,1734.4 1747.5,1734.3 1748.5,1733.9 1749.5,1733.5 1750.5,1733.5 1751.5,1734.0 1752.5,1734.5 1753.5,1734.8 1754.5,1735.2 1755.5,1735.8 1756.5,1736.4 1757.5,1736.7 1758.5,1736.5 1759.5,1735.8 1760.5,1735.0 1761.5,1734.6 1762.5,1734.9 1763.5,1735.6 1764.5,1736.1 1765.5,1736.4 1766.5,1736.7 1767.5,1737.1 1768.5,1737.5 1769.5,1737.7 1770.5,1737.4 1771.5,1736.7 1772.5,1735.8 1773.5,1734.9 1774.5,1734.3 1775.5,1734.4 1776.5,1735.1 1777.5,1735.9 1778.5,1736.5 1779.5,1736.8 1780.5,1736.9 1781.5,1737.0 1782.5,1737.3 1783.5,1737.7 1784.5,1737.9 1785.5,1737.9 1786.5,1737.7 1787.5,1737.1 1788.5,1736.5 1789.5,1736.0 1790.5,1735.8 1791.5,1735.8 1792.5,1735.9 1793.5,1736.0 1794.5,1736.2 1795.5,1736.3 1796.5,1736.5 1797.5,1736.9 1798.5,1737.3 1799.5,1737.6 1800.5,1737.9 1801.5,1738.2 1802.5,1738.5 1803.5,1738.7 1804.5,1738.7 1805.5,1738.4 1806.5,1737.7 1807.5,1736.9 1808.5,1736.5 1809.5,1736.7 1810.5,1737.2 1811.5,1737.5 1812.5,1737.6 1813.5,1737.6 1814.5,1737.7 1815.5,1737.7 1816.5,1737.7 1817.5,1737.8 1818.5,1737.8 1819.5,1737.8 1820.5,1737.6 1821.5,1737.3 1822.5,1736.9 1823.5,1736.8 1824.5,1736.8 1825.5,1736.8 1826.5,1736.6 1827.5,1736.3 1828.5,1736.3 1829.5,1736.8 1830.5,1737.5 1831.5,1738.2 1832.5,1738.5 1833.5,1738.6 1834.5,1738.7 1835.5,1739.0 1836.5,1739.2 1837.5,1739.2 1838.5,1738.7 1839.5,1738.3 1840.5,1738.3 1841.5,1738.8 1842.5,1739.0 1843.5,1738.7 1844.5,1738.2 1845.5,1737.7 1846.5,1737.6 1847.5,1737.6 1848.5,1737.6 1849.5,1737.8 1850.5,1738.3 1851.5,1739.2 1852.5,1739.8 1853.5,1739.7 1854.5,1738.8 1855.5,1737.8 1856.5,1737.4 1857.5,1737.9 1858.5,1738.6 1859.5,1739.1 1860.5,1739.2 1861.5,1739.1 1862.5,1738.9 1863.5,1738.7 1864.5,1738.6 1865.5,1738.7 1866.5,1738.9 1867.5,1739.5 1868.5,1740.1 1869.5,1740.3 1870.5,1740.0 1871.5,1739.6 1872.5,1739.7 1873.5,1740.2 1874.5,1740.9 1875.5,1741.3 1876.5,1741.4 1877.5,1741.3 1878.5,1741.3 1879.5,1741.3 1880.5,1741.3 1881.5,1741.2 1882.5,1740.8 1883.5,1740.3 1884.5,1739.6 1885.5,1739.2 1886.5,1739.0 1887.5,1739.0 1888.5,1739.1 1889.5,1739.3 1890.5,1739.6 1891.5,1739.7 1892.5,1739.5 1893.5,1739.2 1894.5,1739.3 1895.5,1739.8 1896.5,1740.7 1897.5,1741.2 1898.5,1741.1 1899.5,1740.6 1900.5,1740.1 1901.5,1740.1 1902.5,1740.5 1903.5,1740.8 1904.5,1740.7 1905.5,1739.9 1906.5,1739.0 1907.5,1738.5 1908.5,1738.8 1909.5,1739.4 1910.5,1740.0 1911.5,1740.5 1912.5,1740.9 1913.5,1740.8 1914.5,1740.4 1915.5,1740.2 1916.5,1740.2 1917.5,1740.4 1918.5,1740.5 1919.5,1740.7 1920.5,1740.9 1921.5,1741.1 1922.5,1741.2 1923.5,1741.2 1924.5,1741.3 1925.5,1741.5 1926.5,1741.4 1927.5,1741.2 1928.5,1741.0 1929.5,1741.2 1930.5,1741.4 1931.5,1741.3 1932.5,1740.8 1933.5,1740.1 1934.5,1739.5 1935.5,1739.4 1936.5,1739.8 1937.5,1740.5 1938.5,1741.2 1939.5,1741.4 1940.5,1741.0 1941.5,1740.4 1942.5,1740.0 1943.5,1740.1 1944.5,1740.5 1945.5,1740.8 1946.5,1740.9 1947.5,1740.8 1948.5,1740.9 1949.5,1741.1 1950.5,1741.5 1951.5,1741.8 1952.5,1741.7 1953.5,1741.5 1954.5,1741.4 1955.5,1741.4 1956.5,1741.3 1957.5,1740.9 1958.5,1740.4 1959.5,1740.0 1960.5,1740.1 1961.5,1740.7 1962.5,1741.4 1963.5,1741.8 1964.5,1741.9 1965.5,1741.9 1966.5,1742.1 1967.5,1742.5 1968.5,1743.1 1969.5,1743.5 1970.5,1743.5 1971.5,1743.1 1972.5,1742.9 1973.5,1743.1 1974.5,1743.5 1975.5,1743.6 1976.5,1743.1 1977.5,1742.5 1978.5,1742.2 1979.5,1742.5 1980.5,1743.1 1981.5,1743.7 1982.5,1743.7 1983.5,1743.4 1984.5,1743.3 1985.5,1743.9 1986.5,1744.9 1987.5,1745.5 1988.5,1745.3 1989.5,1745.0 1990.5,1745.0 1991.5,1745.4 1992.5,1745.5 1993.5,1745.1 1994.5,1744.5 1995.5,1743.8 1996.5,1743.4 1997.5,1743.0 1998.5,1742.8 1999.5,1742.6 2000.5,1742.5 2001.5,1742.5 2002.5,1742.6 2003.5,1742.6 2004.5,1742.5 2005.5,1742.2 2006.5,1742.1 2007.5,1742.4 2008.5,1743.1 2009.5,1743.7 2010.5,1743.9 2011.5,1743.8 2012.5,1743.3 2013.5,1742.6 2014.5,1741.7 2015.5,1741.0 2016.5,1740.7 2017.5,1741.1 2018.5,1742.1 2019.5,1743.0 2020.5,1743.8 2021.5,1744.3 2022.5,1744.6 2023.5,1744.5 2024.5,1743.9 2025.5,1743.1 2026.5,1742.5 2027.5,1742.4 2028.5,1742.7 2029.5,1743.1 2030.5,1743.4 2031.5,1743.6 2032.5,1743.7 2033.5,1743.7 2034.5,1743.8 2035.5,1744.2 2036.5,1744.6 2037.5,1744.6 2038.5,1744.4 2039.5,1744.3 2040.5,1744.6 2041.5,1744.7 2042.5,1744.2 2043.5,1743.5 2044.5,1743.1 2045.5,1743.3 2046.5,1744.1 2047.5,1744.8 2048.5,1745.0 2049.5,1744.8 2050.5,1744.4 2051.5,1743.7 2052.5,1743.0 2053.5,1742.4 2054.5,1742.3 2055.5,1742.6 2056.5,1743.1 2057.5,1743.5 2058.5,1743.9 2059.5,1744.2 2060.5,1744.5 2061.5,1744.7 2062.5,1745.0 2063.5,1745.3 2064.5,1745.6 2065.5,1745.5 2066.5,1745.3 2067.5,1745.4 2068.5,1745.9 2069.5,1745.9 2070.5,1745.1 2071.5,1743.9 2072.5,1743.1 2073.5,1742.7 2074.5,1742.3 2075.5,1742.0 2076.5,1742.0 2077.5,1742.3 2078.5,1742.6 2079.5,1742.7 2080.5,1742.7 2081.5,1743.0 2082.5,1743.3 2083.5,1743.4 2084.5,1743.5 2085.5,1743.8 2086.5,1744.2 2087.5,1744.4 2088.5,1744.4 2089.5,1744.3 2090.5,1744.3 2091.5,1744.4 2092.5,1744.6 2093.5,1744.7 2094.5,1744.5 2095.5,1744.1 2096.5,1743.6 2097.5,1743.2 2098.5,1743.1 2099.5,1743.1 2100.5,1743.1 2101.5,1743.3 2102.5,1744.0 2103.5,1744.8 2104.5,1745.5 2105.5,1745.8 2106.5,1746.0 2107.5,1746.4 2108.5,1747.1 2109.5,1747.7 2110.5,1747.7 2111.5,1747.1 2112.5,1746.3 2113.5,1745.8 2114.5,1745.5 2115.5,1745.1 2116.5,1744.4 2117.5,1743.8 2118.5,1743.5 2119.5,1743.3 2120.5,1743.0 2121.5,1742.7 2122.5,1742.6 2123.5,1742.9 2124.5,1743.4 2125.5,1743.8 2126.5,1744.0 2127.5,1744.2 2128.5,1744.5 2129.5,1744.7 2130.5,1745.0 2131.5,1745.5 2132.5,1746.1 2133.5,1746.4 2134.5,1746.3 2135.5,1745.7 2136.5,1744.9 2137.5,1744.4 2138.5,1744.2 2139.5,1744.2 2140.5,1744.3 2141.5,1744.6 2142.5,1744.9 2143.5,1744.9 2144.5,1744.7 2145.5,1744.6 2146.5,1744.8 2147.5,1745.1 2148.5,1745.1 2149.5,1744.8 2150.5,1744.5 2151.5,1744.5 2152.5,1744.6 2153.5,1744.7 2154.5,1744.7 2155.5,1744.8 2156.5,1744.9 2157.5,1745.1 2158.5,1745.5 2159.5,1746.2 2160.5,1746.7 2161.5,1746.6 2162.5,1745.9 2163.5,1745.0 2164.5,1744.5 2165.5,1744.6 2166.5,1745.0 2167.5,1745.5 2168.5,1746.0 2169.5,1746.4 2170.5,1746.4 2171.5,1746.3 2172.5,1746.0 2173.5,1746.1 2174.5,1746.6 2175.5,1747.1 2176.5,1747.3 2177.5,1747.3 2178.5,1747.1 2179.5,1747.0 2180.5,1746.9 2181.5,1746.9 2182.5,1746.8 2183.5,1746.7 2184.5,1746.6 2185.5,1746.6 2186.5,1746.6 2187.5,1746.5 2188.5,1746.4 2189.5,1746.5 2190.5,1746.8 2191.5,1747.0 2192.5,1746.8 2193.5,1746.4 2194.5,1745.9 2195.5,1745.4 2196.5,1745.1 2197.5,1745.4 2198.5,1746.3 2199.5,1747.2 2200.5,1747.5 2201.5,1747.0 2202.5,1746.5 2203.5,1746.2 2204.5,1746.4 2205.5,1746.8 2206.5,1747.3 2207.5,1747.7 2208.5,1748.1 2209.5,1748.1 2210.5,1747.6 2211.5,1747.0 2212.5,1746.5 2213.5,1746.4 2214.5,1746.5 2215.5,1746.7 2216.5,1746.9 2217.5,1747.2 2218.5,1747.6 2219.5,1747.9 2220.5,1747.7 2221.5,1747.3 2222.5,1746.9 2223.5,1747.0 2224.5,1747.5 2225.5,1748.2 2226.5,1748.7 2227.5,1748.8 2228.5,1748.4 2229.5,1747.8 2230.5,1747.0 2231.5,1746.2 2232.5,1745.9 2233.5,1746.0 2234.5,1746.4 2235.5,1746.7 2236.5,1747.0 2237.5,1747.2 2238.5,1747.5 2239.5,1747.6 2240.5,1747.3 2241.5,1747.1 2242.5,1747.0 2243.5,1747.0 2244.5,1747.0 2245.5,1747.2 2246.5,1747.7 2247.5,1748.1 2248.5,1748.4 2249.5,1748.7 2250.5,1749.0 2251.5,1749.0 2252.5,1748.6 2253.5,1748.2 2254.5,1748.0 2255.5,1748.0 2256.5,1748.0 2257.5,1748.0 2258.5,1747.8 2259.5,1747.6 2260.5,1747.4 2261.5,1747.3 2262.5,1747.6 2263.5,1748.1 2264.5,1748.9 2265.5,1749.6 2266.5,1749.9 2267.5,1749.6 2268.5,1749.3 2269.5,1749.3 2270.5,1749.8 2271.5,1750.2 2272.5,1750.3 2273.5,1750.1 2274.5,1749.9 2275.5,1749.7 2276.5,1749.7 2277.5,1749.7 2278.5,1749.4 2279.5,1748.7 2280.5,1748.1 2281.5,1747.9 2282.5,1748.0 2283.5,1748.0 2284.5,1747.8 2285.5,1747.7 2286.5,1747.9 2287.5,1748.4 2288.5,1748.8 2289.5,1749.2 2290.5,1749.4 2291.5,1749.5 2292.5,1749.6 2293.5,1750.0 2294.5,1750.6 2295.5,1750.7 2296.5,1750.2 2297.5,1749.4 2298.5,1748.6 2299.5,1748.3 2300.5,1748.2 2301.5,1748.2 2302.5,1748.0 2303.5,1747.8 2304.5,1748.1 2305.5,1748.9 2306.5,1749.6 2307.5,1750.0 2308.5,1750.2 2309.5,1750.3 2310.5,1750.5 2311.5,1750.6 2312.5,1750.4 2313.5,1749.9 2314.5,1749.1 2315.5,1748.5 2316.5,1748.4 2317.5,1748.9 2318.5,1749.9 2319.5,1750.8 2320.5,1751.1 2321.5,1750.9 2322.5,1750.2 2323.5,1749.4 2324.5,1749.1 2325.5,1749.3 2326.5,1749.6 2327.5,1749.5 2328.5,1749.0 2329.5,1748.8 2330.5,1749.0 2331.5,1749.2 2332.5,1749.2 2333.5,1749.1 2334.5,1749.1 2335.5,1749.4 2336.5,1749.7 2337.5,1749.8 2338.5,1750.0 2339.5,1750.5 2340.5,1751.1 2341.5,1751.5 2342.5,1751.4 2343.5,1751.3 2344.5,1751.3 2345.5,1751.2 2346.5,1751.0 2347.5,1750.8 2348.5,1751.0 2349.5,1751.5 2350.5,1752.2 2351.5,1752.9 2352.5,1753.1 2353.5,1752.9 2354.5,1752.3 2355.5,1751.5 2356.5,1750.8 2357.5,1750.5 2358.5,1750.7 2359.5,1751.3 2360.5,1751.8 2361.5,1751.8 2362.5,1751.7 2363.5,1751.6 2364.5,1751.7 2365.5,1751.6 2366.5,1751.3 2367.5,1750.7 2368.5,1750.2 2369.5,1749.7"/>
<path d="M429.07,1879.3V1845.8M429.07,140.2V173.7M644.90,1879.3V1862.8M644.90,140.2V156.7M860.72,1879.3V1845.8M860.72,140.2V173.7M1076.55,1879.3V1862.8M1076.55,140.2V156.7M1292.38,1879.3V1845.8M1292.38,140.2V173.7M1508.20,1879.3V1862.8M1508.20,140.2V156.7M1724.02,1879.3V1845.8M1724.02,140.2V173.7M1939.85,1879.3V1862.8M1939.85,140.2V156.7M2155.67,1879.3V1845.8M2155.67,140.2V173.7M213.25,1840.00H246.75M2372.6,1840.00H2339.1M213.25,1738.75H229.75M2372.6,1738.75H2356.1M213.25,1637.50H246.75M2372.6,1637.50H2339.1M213.25,1536.25H229.75M2372.6,1536.25H2356.1M213.25,1435.00H246.75M2372.6,1435.00H2339.1M213.25,1333.75H229.75M2372.6,1333.75H2356.1M213.25,1232.50H246.75M2372.6,1232.50H2339.1M213.25,1131.25H229.75M2372.6,1131.25H2356.1M213.25,1030.00H246.75M2372.6,1030.00H2339.1M213.25,928.75H229.75M2372.6,928.75H2356.1M213.25,827.50H246.75M2372.6,827.50H2339.1M213.25,726.25H229.75M2372.6,726.25H2356.1M213.25,625.00H246.75M2372.6,625.00H2339.1M213.25,523.75H229.75M2372.6,523.75H2356.1M213.25,422.50H246.75M2372.6,422.50H2339.1M213.25,321.25H229.75M2372.6,321.25H2356.1M213.25,220.00H246.75M2372.6,220.00H2339.1" stroke="#000" stroke-width="6.4" fill="none"/>
<rect x="213.25" y="140.2" width="2159.35" height="1739.10" fill="none" stroke="#000" stroke-width="6.5" stroke-linejoin="miter"/>
<line x1="361.5" y1="357" x2="361.5" y2="391" stroke="#000" stroke-width="3.3"/><path d="M349.0,389L374.0,389L361.5,434.5Z" fill="#000"/>
<line x1="859.7" y1="540" x2="859.7" y2="575" stroke="#000" stroke-width="3.3"/><path d="M847.2,573L872.2,573L859.7,617Z" fill="#000"/>
<line x1="1433.5" y1="331" x2="1433.5" y2="366" stroke="#000" stroke-width="3.3"/><path d="M1421.5,364L1445.5,364L1433.5,408.5Z" fill="#000"/>
<g font-family="'Liberation Serif', 'Times New Roman', serif" fill="#000" stroke="#fdfdfd" stroke-width="1">
<text x="138.6" y="1860.3" font-size="75.4">0</text>
<text x="138.6" y="1657.8" font-size="75.4">5</text>
<text x="100.9" y="1455.3" font-size="75.4">10</text>
<text x="100.9" y="1252.8" font-size="75.4">15</text>
<text x="100.9" y="1050.3" font-size="75.4">20</text>
<text x="100.9" y="847.8" font-size="75.4">25</text>
<text x="100.9" y="645.3" font-size="75.4">30</text>
<text x="100.9" y="442.8" font-size="75.4">35</text>
<text x="100.9" y="240.3" font-size="75.4">40</text>
<text x="372.5" y="1972.3" font-size="75">300</text>
<text x="805.2" y="1972.3" font-size="75">400</text>
<text x="1235.4" y="1972.3" font-size="75">500</text>
<text x="1667.6" y="1972.3" font-size="75">600</text>
<text x="2098.4" y="1972.3" font-size="75">700</text>
<text x="295.5" y="318.2" font-size="92">C1s</text>
<text x="783.8" y="502.7" font-size="92">N1s</text>
<text x="1359.2" y="289.5" font-size="92">O1s</text>
<text x="1811.8" y="607.5" font-size="90">V95</text>
<text x="1812.3" y="849.4" font-size="90">V75</text>
<text x="1814.0" y="1088.8" font-size="90">V55</text>
<text x="1812.9" y="1332.7" font-size="90">VRT</text>
<text x="1812.0" y="1712.6" font-size="90">V</text>
<text x="1023.5" y="2090.4" font-size="75">Binding Energy  (eV)</text>
<text transform="translate(76,1445.2) rotate(-90)" font-size="90">Counts (a.u.)</text>
<text x="224.6" y="93" font-size="91">(×10<tspan font-size="64" dy="-37">4</tspan><tspan dy="37">)</tspan></text>
</g>
</svg>
</body></html>
